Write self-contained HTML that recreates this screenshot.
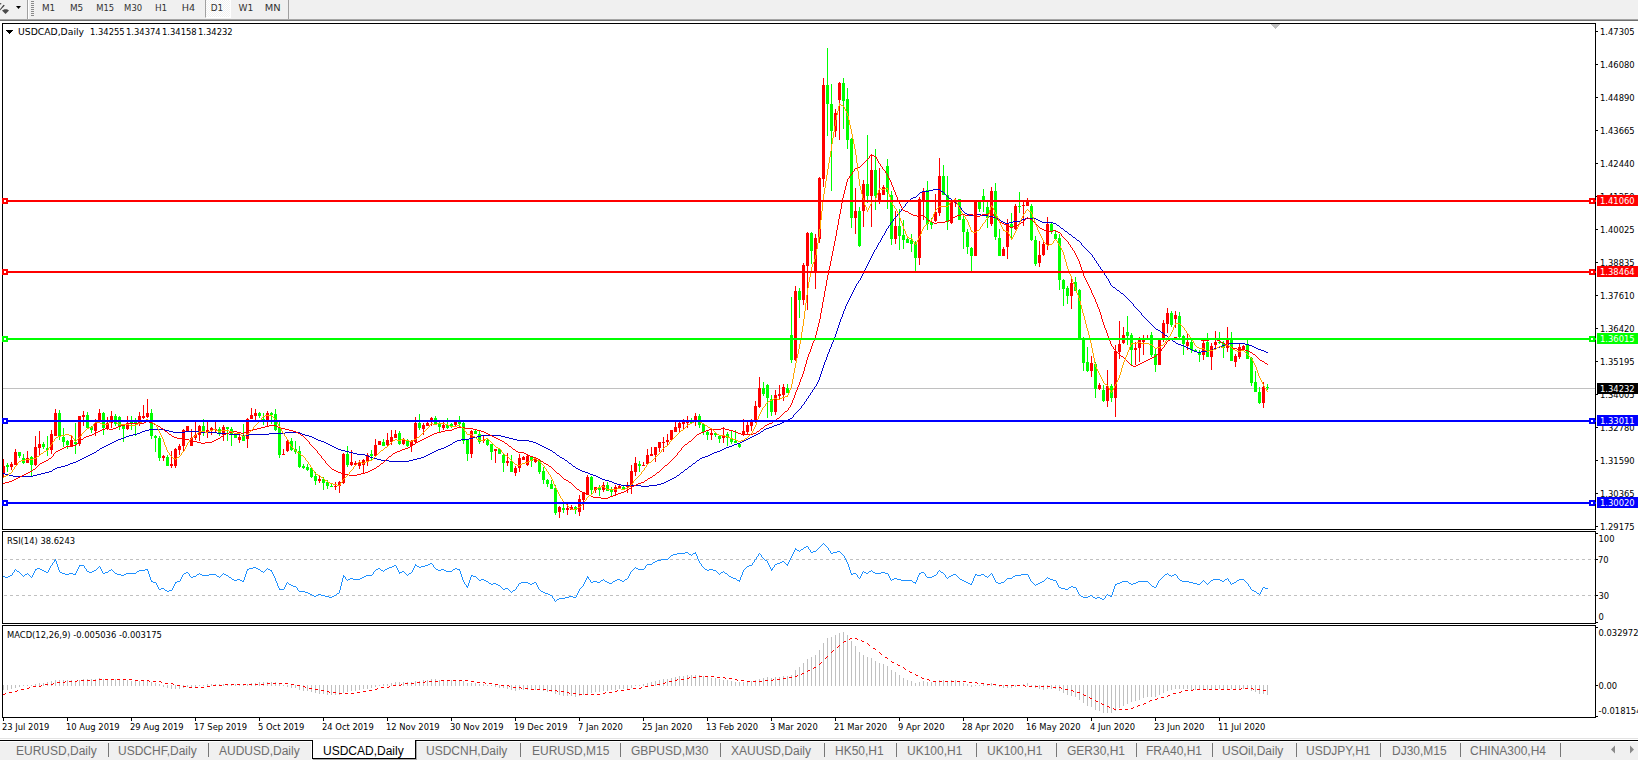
<!DOCTYPE html>
<html><head><meta charset="utf-8"><title>USDCAD,Daily</title>
<style>
html,body{margin:0;padding:0;width:1638px;height:760px;overflow:hidden;background:#fff;}
body{position:relative;font-family:"Liberation Sans",Arial,sans-serif;}
#toolbar{position:absolute;left:0;top:0;width:1638px;height:19px;background:#f0f0f0;}
#tbl1{position:absolute;left:0;top:19px;width:1638px;height:1px;background:#a5a5a5;}
#tbl2{position:absolute;left:0;top:20px;width:1638px;height:1px;background:#6f6f6f;}
.tb{position:absolute;top:3px;font-family:'DejaVu Sans',sans-serif;font-size:8.8px;line-height:11px;color:#333;}
#d1{position:absolute;left:205px;top:0;width:26px;height:18px;background:repeating-conic-gradient(#ffffff 0 25%,#f0f0f0 0 50%) 0 0/2px 2px;border-left:1px solid #a0a0a0;border-right:1px solid #fff;border-bottom:1px solid #fff;box-sizing:border-box;}
#tsep1{position:absolute;left:27px;top:0;width:1px;height:19px;background:#a0a0a0;}
#tsep1b{position:absolute;left:28px;top:0;width:1px;height:19px;background:#fff;}
#tsep2{position:absolute;left:288px;top:0;width:1px;height:19px;background:#a0a0a0;}
.grip{position:absolute;left:31px;width:3px;height:1px;background:#8a8a8a;}
svg{position:absolute;left:0;top:0;}
#tabbar{position:absolute;left:0;top:739px;width:1638px;height:21px;background:#f0f0f0;}
#tabline{position:absolute;left:0;top:740px;width:1638px;height:1px;background:#000;}
#tabline0{position:absolute;left:0;top:738px;width:1638px;height:1px;background:#e3e3e3;}
.tab{position:absolute;top:744px;font-size:12px;line-height:15px;color:#6d6d6d;white-space:nowrap;}
.tab.sel{color:#000;}
#seltab{position:absolute;left:312px;top:740px;width:104px;height:19px;background:#fff;border:1px solid #000;border-top:none;box-sizing:border-box;}
.sep{position:absolute;top:743px;width:1px;height:14px;background:#777;}
.arr{position:absolute;top:745px;width:0;height:0;border-top:4px solid transparent;border-bottom:4px solid transparent;}
</style></head><body>
<div id="toolbar"></div><div id="tbl1"></div><div id="tbl2"></div>
<div id="d1"></div><div id="tsep1"></div><div id="tsep1b"></div><div id="tsep2"></div>
<div class="grip" style="top:1px"></div><div class="grip" style="top:3px"></div><div class="grip" style="top:5px"></div><div class="grip" style="top:7px"></div><div class="grip" style="top:9px"></div><div class="grip" style="top:11px"></div><div class="grip" style="top:13px"></div><div class="grip" style="top:15px"></div>
<svg width="30" height="19" viewBox="0 0 30 19" style="left:0;top:0">
<path d="M3.5,4.8 L0,9.2 L0,10.5 L4.8,5.6 Z" fill="#404040"/>
<path d="M0,3 L1.5,3.5 L1,4.5 L0,4.2Z" fill="#404040"/>
<path d="M4.5,9.2 L7,9.2 L9,10.5 L5.5,14 L2,10.5 Z" fill="#4a4a4a"/>
<path d="M16,6 L21,6 L18.5,9 Z" fill="#000"/>
</svg>
<svg width="300" height="19" style="left:0;top:0"><text x="42.0" y="11" font-family="DejaVu Sans, sans-serif" font-size="8.8" fill="#333" textLength="13.2" lengthAdjust="spacingAndGlyphs">M1</text><text x="69.9" y="11" font-family="DejaVu Sans, sans-serif" font-size="8.8" fill="#333" textLength="13.3" lengthAdjust="spacingAndGlyphs">M5</text><text x="96.3" y="11" font-family="DejaVu Sans, sans-serif" font-size="8.8" fill="#333" textLength="17.9" lengthAdjust="spacingAndGlyphs">M15</text><text x="124.1" y="11" font-family="DejaVu Sans, sans-serif" font-size="8.8" fill="#333" textLength="18.1" lengthAdjust="spacingAndGlyphs">M30</text><text x="154.9" y="11" font-family="DejaVu Sans, sans-serif" font-size="8.8" fill="#333" textLength="12.3" lengthAdjust="spacingAndGlyphs">H1</text><text x="181.8" y="11" font-family="DejaVu Sans, sans-serif" font-size="8.8" fill="#333" textLength="13.4" lengthAdjust="spacingAndGlyphs">H4</text><text x="210.8" y="11" font-family="DejaVu Sans, sans-serif" font-size="8.8" fill="#333" textLength="12.4" lengthAdjust="spacingAndGlyphs">D1</text><text x="238.4" y="11" font-family="DejaVu Sans, sans-serif" font-size="8.8" fill="#333" textLength="14.8" lengthAdjust="spacingAndGlyphs">W1</text><text x="264.8" y="11" font-family="DejaVu Sans, sans-serif" font-size="8.8" fill="#333" textLength="15.9" lengthAdjust="spacingAndGlyphs">MN</text></svg>
<svg width="1638" height="760" viewBox="0 0 1638 760" shape-rendering="crispEdges">
<rect x="3" y="388" width="1592" height="1" fill="#c0c0c0"/>
<rect x="3" y="459" width="1" height="18" fill="#ff0000"/>
<rect x="3" y="466" width="2" height="8" fill="#ff0000"/>
<rect x="7" y="463" width="1" height="9" fill="#00ff00"/>
<rect x="6" y="465" width="3" height="2" fill="#00ff00"/>
<rect x="11" y="462" width="1" height="8" fill="#ff0000"/>
<rect x="10" y="464" width="3" height="3" fill="#ff0000"/>
<rect x="15" y="449" width="1" height="16" fill="#ff0000"/>
<rect x="14" y="452" width="3" height="13" fill="#ff0000"/>
<rect x="19" y="452" width="1" height="6" fill="#00ff00"/>
<rect x="18" y="452" width="3" height="4" fill="#00ff00"/>
<rect x="23" y="454" width="1" height="10" fill="#00ff00"/>
<rect x="22" y="458" width="3" height="5" fill="#00ff00"/>
<rect x="27" y="451" width="1" height="12" fill="#ff0000"/>
<rect x="26" y="458" width="3" height="5" fill="#ff0000"/>
<rect x="31" y="456" width="1" height="20" fill="#00ff00"/>
<rect x="30" y="457" width="3" height="8" fill="#00ff00"/>
<rect x="35" y="436" width="1" height="30" fill="#ff0000"/>
<rect x="34" y="447" width="3" height="18" fill="#ff0000"/>
<rect x="39" y="431" width="1" height="24" fill="#ff0000"/>
<rect x="38" y="444" width="3" height="4" fill="#ff0000"/>
<rect x="43" y="442" width="1" height="7" fill="#00ff00"/>
<rect x="42" y="444" width="3" height="3" fill="#00ff00"/>
<rect x="47" y="436" width="1" height="20" fill="#00ff00"/>
<rect x="46" y="448" width="3" height="2" fill="#00ff00"/>
<rect x="51" y="430" width="1" height="24" fill="#ff0000"/>
<rect x="50" y="434" width="3" height="16" fill="#ff0000"/>
<rect x="55" y="409" width="1" height="27" fill="#ff0000"/>
<rect x="54" y="413" width="3" height="23" fill="#ff0000"/>
<rect x="59" y="410" width="1" height="30" fill="#00ff00"/>
<rect x="58" y="413" width="3" height="24" fill="#00ff00"/>
<rect x="63" y="428" width="1" height="19" fill="#00ff00"/>
<rect x="62" y="437" width="3" height="5" fill="#00ff00"/>
<rect x="67" y="440" width="1" height="9" fill="#00ff00"/>
<rect x="66" y="441" width="3" height="4" fill="#00ff00"/>
<rect x="71" y="436" width="1" height="10" fill="#ff0000"/>
<rect x="70" y="440" width="3" height="6" fill="#ff0000"/>
<rect x="75" y="423" width="1" height="31" fill="#00ff00"/>
<rect x="74" y="442" width="3" height="2" fill="#00ff00"/>
<rect x="79" y="416" width="1" height="30" fill="#ff0000"/>
<rect x="78" y="416" width="3" height="28" fill="#ff0000"/>
<rect x="83" y="411" width="1" height="15" fill="#ff0000"/>
<rect x="82" y="415" width="3" height="2" fill="#ff0000"/>
<rect x="87" y="412" width="1" height="16" fill="#00ff00"/>
<rect x="86" y="415" width="3" height="13" fill="#00ff00"/>
<rect x="91" y="426" width="1" height="7" fill="#00ff00"/>
<rect x="90" y="427" width="3" height="3" fill="#00ff00"/>
<rect x="95" y="419" width="1" height="17" fill="#ff0000"/>
<rect x="94" y="423" width="3" height="8" fill="#ff0000"/>
<rect x="99" y="409" width="1" height="13" fill="#ff0000"/>
<rect x="98" y="413" width="3" height="8" fill="#ff0000"/>
<rect x="103" y="412" width="1" height="23" fill="#00ff00"/>
<rect x="102" y="413" width="3" height="15" fill="#00ff00"/>
<rect x="107" y="417" width="1" height="13" fill="#ff0000"/>
<rect x="106" y="423" width="3" height="5" fill="#ff0000"/>
<rect x="111" y="411" width="1" height="17" fill="#ff0000"/>
<rect x="110" y="416" width="3" height="7" fill="#ff0000"/>
<rect x="115" y="414" width="1" height="12" fill="#00ff00"/>
<rect x="114" y="416" width="3" height="8" fill="#00ff00"/>
<rect x="119" y="416" width="1" height="14" fill="#00ff00"/>
<rect x="118" y="417" width="3" height="9" fill="#00ff00"/>
<rect x="123" y="426" width="1" height="16" fill="#00ff00"/>
<rect x="122" y="426" width="3" height="3" fill="#00ff00"/>
<rect x="127" y="416" width="1" height="14" fill="#ff0000"/>
<rect x="126" y="423" width="3" height="6" fill="#ff0000"/>
<rect x="131" y="416" width="1" height="14" fill="#00ff00"/>
<rect x="130" y="422" width="3" height="1" fill="#00ff00"/>
<rect x="135" y="418" width="1" height="18" fill="#00ff00"/>
<rect x="134" y="422" width="3" height="2" fill="#00ff00"/>
<rect x="139" y="412" width="1" height="14" fill="#ff0000"/>
<rect x="138" y="416" width="3" height="8" fill="#ff0000"/>
<rect x="143" y="405" width="1" height="14" fill="#ff0000"/>
<rect x="142" y="416" width="3" height="2" fill="#ff0000"/>
<rect x="147" y="399" width="1" height="19" fill="#ff0000"/>
<rect x="146" y="413" width="3" height="4" fill="#ff0000"/>
<rect x="151" y="409" width="1" height="30" fill="#00ff00"/>
<rect x="150" y="413" width="3" height="23" fill="#00ff00"/>
<rect x="155" y="435" width="1" height="17" fill="#00ff00"/>
<rect x="154" y="436" width="3" height="2" fill="#00ff00"/>
<rect x="159" y="436" width="1" height="25" fill="#00ff00"/>
<rect x="158" y="438" width="3" height="20" fill="#00ff00"/>
<rect x="163" y="455" width="1" height="6" fill="#ff0000"/>
<rect x="162" y="456" width="3" height="2" fill="#ff0000"/>
<rect x="167" y="455" width="1" height="11" fill="#00ff00"/>
<rect x="166" y="457" width="3" height="9" fill="#00ff00"/>
<rect x="171" y="451" width="1" height="17" fill="#ff0000"/>
<rect x="170" y="464" width="3" height="2" fill="#ff0000"/>
<rect x="175" y="448" width="1" height="20" fill="#ff0000"/>
<rect x="174" y="449" width="3" height="17" fill="#ff0000"/>
<rect x="179" y="444" width="1" height="11" fill="#ff0000"/>
<rect x="178" y="446" width="3" height="4" fill="#ff0000"/>
<rect x="183" y="429" width="1" height="23" fill="#ff0000"/>
<rect x="182" y="430" width="3" height="16" fill="#ff0000"/>
<rect x="187" y="426" width="1" height="6" fill="#ff0000"/>
<rect x="186" y="426" width="3" height="5" fill="#ff0000"/>
<rect x="191" y="429" width="1" height="17" fill="#ff0000"/>
<rect x="190" y="438" width="3" height="8" fill="#ff0000"/>
<rect x="195" y="422" width="1" height="18" fill="#ff0000"/>
<rect x="194" y="435" width="3" height="3" fill="#ff0000"/>
<rect x="199" y="425" width="1" height="16" fill="#ff0000"/>
<rect x="198" y="426" width="3" height="9" fill="#ff0000"/>
<rect x="203" y="419" width="1" height="17" fill="#00ff00"/>
<rect x="202" y="426" width="3" height="6" fill="#00ff00"/>
<rect x="207" y="422" width="1" height="16" fill="#ff0000"/>
<rect x="206" y="430" width="3" height="2" fill="#ff0000"/>
<rect x="211" y="427" width="1" height="8" fill="#ff0000"/>
<rect x="210" y="428" width="3" height="2" fill="#ff0000"/>
<rect x="215" y="422" width="1" height="10" fill="#ff0000"/>
<rect x="214" y="429" width="3" height="1" fill="#ff0000"/>
<rect x="219" y="427" width="1" height="9" fill="#00ff00"/>
<rect x="218" y="429" width="3" height="5" fill="#00ff00"/>
<rect x="223" y="425" width="1" height="16" fill="#ff0000"/>
<rect x="222" y="427" width="3" height="8" fill="#ff0000"/>
<rect x="227" y="427" width="1" height="14" fill="#00ff00"/>
<rect x="226" y="427" width="3" height="2" fill="#00ff00"/>
<rect x="231" y="427" width="1" height="19" fill="#00ff00"/>
<rect x="230" y="429" width="3" height="6" fill="#00ff00"/>
<rect x="235" y="433" width="1" height="5" fill="#00ff00"/>
<rect x="234" y="435" width="3" height="3" fill="#00ff00"/>
<rect x="239" y="435" width="1" height="8" fill="#ff0000"/>
<rect x="238" y="437" width="3" height="3" fill="#ff0000"/>
<rect x="243" y="424" width="1" height="17" fill="#00ff00"/>
<rect x="242" y="436" width="3" height="5" fill="#00ff00"/>
<rect x="247" y="418" width="1" height="30" fill="#ff0000"/>
<rect x="246" y="419" width="3" height="20" fill="#ff0000"/>
<rect x="251" y="408" width="1" height="11" fill="#ff0000"/>
<rect x="250" y="415" width="3" height="4" fill="#ff0000"/>
<rect x="255" y="409" width="1" height="13" fill="#ff0000"/>
<rect x="254" y="413" width="3" height="3" fill="#ff0000"/>
<rect x="259" y="412" width="1" height="6" fill="#00ff00"/>
<rect x="258" y="413" width="3" height="3" fill="#00ff00"/>
<rect x="263" y="413" width="1" height="12" fill="#00ff00"/>
<rect x="262" y="419" width="3" height="1" fill="#00ff00"/>
<rect x="267" y="411" width="1" height="15" fill="#ff0000"/>
<rect x="266" y="413" width="3" height="7" fill="#ff0000"/>
<rect x="271" y="412" width="1" height="12" fill="#00ff00"/>
<rect x="270" y="413" width="3" height="2" fill="#00ff00"/>
<rect x="275" y="409" width="1" height="22" fill="#00ff00"/>
<rect x="274" y="414" width="3" height="16" fill="#00ff00"/>
<rect x="279" y="422" width="1" height="36" fill="#00ff00"/>
<rect x="278" y="428" width="3" height="27" fill="#00ff00"/>
<rect x="283" y="449" width="1" height="6" fill="#ff0000"/>
<rect x="282" y="454" width="3" height="1" fill="#ff0000"/>
<rect x="287" y="440" width="1" height="12" fill="#ff0000"/>
<rect x="286" y="441" width="3" height="10" fill="#ff0000"/>
<rect x="291" y="438" width="1" height="13" fill="#00ff00"/>
<rect x="290" y="441" width="3" height="9" fill="#00ff00"/>
<rect x="295" y="441" width="1" height="13" fill="#00ff00"/>
<rect x="294" y="449" width="3" height="3" fill="#00ff00"/>
<rect x="299" y="446" width="1" height="22" fill="#00ff00"/>
<rect x="298" y="451" width="3" height="16" fill="#00ff00"/>
<rect x="303" y="464" width="1" height="5" fill="#00ff00"/>
<rect x="302" y="466" width="3" height="2" fill="#00ff00"/>
<rect x="307" y="464" width="1" height="7" fill="#00ff00"/>
<rect x="306" y="467" width="3" height="3" fill="#00ff00"/>
<rect x="311" y="467" width="1" height="11" fill="#00ff00"/>
<rect x="310" y="468" width="3" height="9" fill="#00ff00"/>
<rect x="315" y="472" width="1" height="13" fill="#00ff00"/>
<rect x="314" y="476" width="3" height="5" fill="#00ff00"/>
<rect x="319" y="476" width="1" height="7" fill="#ff0000"/>
<rect x="318" y="479" width="3" height="2" fill="#ff0000"/>
<rect x="323" y="477" width="1" height="13" fill="#00ff00"/>
<rect x="322" y="479" width="3" height="4" fill="#00ff00"/>
<rect x="327" y="480" width="1" height="9" fill="#00ff00"/>
<rect x="326" y="482" width="3" height="4" fill="#00ff00"/>
<rect x="331" y="484" width="1" height="3" fill="#00ff00"/>
<rect x="330" y="486" width="3" height="1" fill="#00ff00"/>
<rect x="335" y="482" width="1" height="8" fill="#ff0000"/>
<rect x="334" y="486" width="3" height="1" fill="#ff0000"/>
<rect x="339" y="481" width="1" height="12" fill="#ff0000"/>
<rect x="338" y="482" width="3" height="4" fill="#ff0000"/>
<rect x="343" y="453" width="1" height="31" fill="#ff0000"/>
<rect x="342" y="454" width="3" height="29" fill="#ff0000"/>
<rect x="347" y="446" width="1" height="21" fill="#00ff00"/>
<rect x="346" y="454" width="3" height="11" fill="#00ff00"/>
<rect x="351" y="450" width="1" height="16" fill="#ff0000"/>
<rect x="350" y="462" width="3" height="3" fill="#ff0000"/>
<rect x="355" y="461" width="1" height="5" fill="#ff0000"/>
<rect x="354" y="463" width="3" height="2" fill="#ff0000"/>
<rect x="359" y="460" width="1" height="9" fill="#ff0000"/>
<rect x="358" y="463" width="3" height="3" fill="#ff0000"/>
<rect x="363" y="459" width="1" height="14" fill="#ff0000"/>
<rect x="362" y="460" width="3" height="5" fill="#ff0000"/>
<rect x="367" y="453" width="1" height="13" fill="#ff0000"/>
<rect x="366" y="455" width="3" height="6" fill="#ff0000"/>
<rect x="371" y="450" width="1" height="10" fill="#00ff00"/>
<rect x="370" y="454" width="3" height="2" fill="#00ff00"/>
<rect x="375" y="439" width="1" height="17" fill="#ff0000"/>
<rect x="374" y="445" width="3" height="11" fill="#ff0000"/>
<rect x="379" y="441" width="1" height="4" fill="#ff0000"/>
<rect x="378" y="441" width="3" height="4" fill="#ff0000"/>
<rect x="383" y="439" width="1" height="7" fill="#00ff00"/>
<rect x="382" y="442" width="3" height="4" fill="#00ff00"/>
<rect x="387" y="433" width="1" height="13" fill="#ff0000"/>
<rect x="386" y="440" width="3" height="5" fill="#ff0000"/>
<rect x="391" y="430" width="1" height="15" fill="#ff0000"/>
<rect x="390" y="437" width="3" height="5" fill="#ff0000"/>
<rect x="395" y="430" width="1" height="8" fill="#ff0000"/>
<rect x="394" y="434" width="3" height="4" fill="#ff0000"/>
<rect x="399" y="431" width="1" height="14" fill="#00ff00"/>
<rect x="398" y="433" width="3" height="11" fill="#00ff00"/>
<rect x="403" y="438" width="1" height="7" fill="#ff0000"/>
<rect x="402" y="440" width="3" height="4" fill="#ff0000"/>
<rect x="407" y="439" width="1" height="8" fill="#00ff00"/>
<rect x="406" y="441" width="3" height="5" fill="#00ff00"/>
<rect x="411" y="440" width="1" height="12" fill="#ff0000"/>
<rect x="410" y="441" width="3" height="5" fill="#ff0000"/>
<rect x="415" y="417" width="1" height="26" fill="#ff0000"/>
<rect x="414" y="423" width="3" height="19" fill="#ff0000"/>
<rect x="419" y="414" width="1" height="16" fill="#00ff00"/>
<rect x="418" y="423" width="3" height="5" fill="#00ff00"/>
<rect x="423" y="423" width="1" height="12" fill="#ff0000"/>
<rect x="422" y="425" width="3" height="4" fill="#ff0000"/>
<rect x="427" y="422" width="1" height="4" fill="#ff0000"/>
<rect x="426" y="423" width="3" height="3" fill="#ff0000"/>
<rect x="431" y="417" width="1" height="9" fill="#ff0000"/>
<rect x="430" y="418" width="3" height="3" fill="#ff0000"/>
<rect x="435" y="416" width="1" height="9" fill="#00ff00"/>
<rect x="434" y="418" width="3" height="7" fill="#00ff00"/>
<rect x="439" y="422" width="1" height="10" fill="#00ff00"/>
<rect x="438" y="424" width="3" height="3" fill="#00ff00"/>
<rect x="443" y="422" width="1" height="8" fill="#ff0000"/>
<rect x="442" y="425" width="3" height="3" fill="#ff0000"/>
<rect x="447" y="418" width="1" height="11" fill="#00ff00"/>
<rect x="446" y="425" width="3" height="3" fill="#00ff00"/>
<rect x="451" y="423" width="1" height="5" fill="#00ff00"/>
<rect x="450" y="424" width="3" height="3" fill="#00ff00"/>
<rect x="455" y="422" width="1" height="5" fill="#ff0000"/>
<rect x="454" y="422" width="3" height="3" fill="#ff0000"/>
<rect x="459" y="416" width="1" height="11" fill="#00ff00"/>
<rect x="458" y="422" width="3" height="2" fill="#00ff00"/>
<rect x="463" y="422" width="1" height="22" fill="#00ff00"/>
<rect x="462" y="423" width="3" height="18" fill="#00ff00"/>
<rect x="467" y="439" width="1" height="22" fill="#00ff00"/>
<rect x="466" y="440" width="3" height="14" fill="#00ff00"/>
<rect x="471" y="430" width="1" height="28" fill="#ff0000"/>
<rect x="470" y="431" width="3" height="23" fill="#ff0000"/>
<rect x="475" y="430" width="1" height="4" fill="#00ff00"/>
<rect x="474" y="431" width="3" height="3" fill="#00ff00"/>
<rect x="479" y="431" width="1" height="13" fill="#00ff00"/>
<rect x="478" y="434" width="3" height="8" fill="#00ff00"/>
<rect x="483" y="436" width="1" height="7" fill="#ff0000"/>
<rect x="482" y="440" width="3" height="1" fill="#ff0000"/>
<rect x="487" y="439" width="1" height="7" fill="#00ff00"/>
<rect x="486" y="440" width="3" height="5" fill="#00ff00"/>
<rect x="491" y="444" width="1" height="16" fill="#00ff00"/>
<rect x="490" y="444" width="3" height="8" fill="#00ff00"/>
<rect x="495" y="449" width="1" height="14" fill="#ff0000"/>
<rect x="494" y="449" width="3" height="2" fill="#ff0000"/>
<rect x="499" y="448" width="1" height="6" fill="#00ff00"/>
<rect x="498" y="449" width="3" height="5" fill="#00ff00"/>
<rect x="503" y="453" width="1" height="19" fill="#00ff00"/>
<rect x="502" y="455" width="3" height="8" fill="#00ff00"/>
<rect x="507" y="453" width="1" height="13" fill="#ff0000"/>
<rect x="506" y="461" width="3" height="2" fill="#ff0000"/>
<rect x="511" y="455" width="1" height="17" fill="#00ff00"/>
<rect x="510" y="461" width="3" height="11" fill="#00ff00"/>
<rect x="515" y="466" width="1" height="10" fill="#ff0000"/>
<rect x="514" y="468" width="3" height="5" fill="#ff0000"/>
<rect x="519" y="454" width="1" height="18" fill="#ff0000"/>
<rect x="518" y="458" width="3" height="10" fill="#ff0000"/>
<rect x="523" y="456" width="1" height="4" fill="#ff0000"/>
<rect x="522" y="457" width="3" height="3" fill="#ff0000"/>
<rect x="527" y="455" width="1" height="11" fill="#ff0000"/>
<rect x="526" y="456" width="3" height="9" fill="#ff0000"/>
<rect x="531" y="456" width="1" height="11" fill="#00ff00"/>
<rect x="530" y="456" width="3" height="5" fill="#00ff00"/>
<rect x="535" y="457" width="1" height="6" fill="#ff0000"/>
<rect x="534" y="458" width="3" height="4" fill="#ff0000"/>
<rect x="539" y="459" width="1" height="15" fill="#00ff00"/>
<rect x="538" y="460" width="3" height="12" fill="#00ff00"/>
<rect x="543" y="467" width="1" height="17" fill="#00ff00"/>
<rect x="542" y="471" width="3" height="9" fill="#00ff00"/>
<rect x="547" y="479" width="1" height="8" fill="#00ff00"/>
<rect x="546" y="480" width="3" height="4" fill="#00ff00"/>
<rect x="551" y="480" width="1" height="9" fill="#00ff00"/>
<rect x="550" y="484" width="3" height="5" fill="#00ff00"/>
<rect x="555" y="485" width="1" height="30" fill="#00ff00"/>
<rect x="554" y="488" width="3" height="25" fill="#00ff00"/>
<rect x="559" y="506" width="1" height="12" fill="#ff0000"/>
<rect x="558" y="507" width="3" height="5" fill="#ff0000"/>
<rect x="563" y="502" width="1" height="11" fill="#00ff00"/>
<rect x="562" y="508" width="3" height="2" fill="#00ff00"/>
<rect x="567" y="504" width="1" height="11" fill="#ff0000"/>
<rect x="566" y="508" width="3" height="2" fill="#ff0000"/>
<rect x="571" y="505" width="1" height="5" fill="#ff0000"/>
<rect x="570" y="507" width="3" height="3" fill="#ff0000"/>
<rect x="575" y="506" width="1" height="8" fill="#00ff00"/>
<rect x="574" y="507" width="3" height="3" fill="#00ff00"/>
<rect x="579" y="495" width="1" height="21" fill="#ff0000"/>
<rect x="578" y="499" width="3" height="13" fill="#ff0000"/>
<rect x="583" y="492" width="1" height="18" fill="#ff0000"/>
<rect x="582" y="493" width="3" height="7" fill="#ff0000"/>
<rect x="587" y="475" width="1" height="20" fill="#ff0000"/>
<rect x="586" y="477" width="3" height="18" fill="#ff0000"/>
<rect x="591" y="476" width="1" height="18" fill="#00ff00"/>
<rect x="590" y="477" width="3" height="13" fill="#00ff00"/>
<rect x="595" y="487" width="1" height="6" fill="#ff0000"/>
<rect x="594" y="487" width="3" height="3" fill="#ff0000"/>
<rect x="599" y="485" width="1" height="11" fill="#00ff00"/>
<rect x="598" y="488" width="3" height="2" fill="#00ff00"/>
<rect x="603" y="482" width="1" height="10" fill="#ff0000"/>
<rect x="602" y="485" width="3" height="5" fill="#ff0000"/>
<rect x="607" y="482" width="1" height="9" fill="#00ff00"/>
<rect x="606" y="485" width="3" height="6" fill="#00ff00"/>
<rect x="611" y="487" width="1" height="9" fill="#00ff00"/>
<rect x="610" y="490" width="3" height="2" fill="#00ff00"/>
<rect x="615" y="485" width="1" height="10" fill="#ff0000"/>
<rect x="614" y="487" width="3" height="5" fill="#ff0000"/>
<rect x="619" y="484" width="1" height="4" fill="#ff0000"/>
<rect x="618" y="486" width="3" height="2" fill="#ff0000"/>
<rect x="623" y="485" width="1" height="5" fill="#00ff00"/>
<rect x="622" y="487" width="3" height="2" fill="#00ff00"/>
<rect x="627" y="482" width="1" height="11" fill="#ff0000"/>
<rect x="626" y="485" width="3" height="2" fill="#ff0000"/>
<rect x="631" y="465" width="1" height="29" fill="#ff0000"/>
<rect x="630" y="471" width="3" height="16" fill="#ff0000"/>
<rect x="635" y="457" width="1" height="19" fill="#ff0000"/>
<rect x="634" y="463" width="3" height="9" fill="#ff0000"/>
<rect x="639" y="461" width="1" height="11" fill="#00ff00"/>
<rect x="638" y="464" width="3" height="2" fill="#00ff00"/>
<rect x="643" y="462" width="1" height="4" fill="#ff0000"/>
<rect x="642" y="465" width="3" height="1" fill="#ff0000"/>
<rect x="647" y="449" width="1" height="15" fill="#ff0000"/>
<rect x="646" y="455" width="3" height="9" fill="#ff0000"/>
<rect x="651" y="447" width="1" height="9" fill="#ff0000"/>
<rect x="650" y="454" width="3" height="2" fill="#ff0000"/>
<rect x="655" y="447" width="1" height="15" fill="#ff0000"/>
<rect x="654" y="447" width="3" height="8" fill="#ff0000"/>
<rect x="659" y="442" width="1" height="10" fill="#ff0000"/>
<rect x="658" y="442" width="3" height="6" fill="#ff0000"/>
<rect x="663" y="437" width="1" height="15" fill="#ff0000"/>
<rect x="662" y="442" width="3" height="1" fill="#ff0000"/>
<rect x="667" y="434" width="1" height="11" fill="#ff0000"/>
<rect x="666" y="440" width="3" height="2" fill="#ff0000"/>
<rect x="671" y="430" width="1" height="10" fill="#ff0000"/>
<rect x="670" y="430" width="3" height="10" fill="#ff0000"/>
<rect x="675" y="422" width="1" height="10" fill="#ff0000"/>
<rect x="674" y="427" width="3" height="5" fill="#ff0000"/>
<rect x="679" y="422" width="1" height="11" fill="#ff0000"/>
<rect x="678" y="423" width="3" height="5" fill="#ff0000"/>
<rect x="683" y="419" width="1" height="11" fill="#ff0000"/>
<rect x="682" y="422" width="3" height="2" fill="#ff0000"/>
<rect x="687" y="416" width="1" height="12" fill="#ff0000"/>
<rect x="686" y="420" width="3" height="3" fill="#ff0000"/>
<rect x="691" y="418" width="1" height="5" fill="#00ff00"/>
<rect x="690" y="420" width="3" height="3" fill="#00ff00"/>
<rect x="695" y="413" width="1" height="13" fill="#ff0000"/>
<rect x="694" y="416" width="3" height="4" fill="#ff0000"/>
<rect x="699" y="414" width="1" height="14" fill="#00ff00"/>
<rect x="698" y="416" width="3" height="9" fill="#00ff00"/>
<rect x="703" y="424" width="1" height="11" fill="#00ff00"/>
<rect x="702" y="424" width="3" height="8" fill="#00ff00"/>
<rect x="707" y="430" width="1" height="10" fill="#00ff00"/>
<rect x="706" y="432" width="3" height="3" fill="#00ff00"/>
<rect x="711" y="429" width="1" height="11" fill="#ff0000"/>
<rect x="710" y="433" width="3" height="2" fill="#ff0000"/>
<rect x="715" y="432" width="1" height="5" fill="#00ff00"/>
<rect x="714" y="433" width="3" height="2" fill="#00ff00"/>
<rect x="719" y="435" width="1" height="8" fill="#00ff00"/>
<rect x="718" y="436" width="3" height="3" fill="#00ff00"/>
<rect x="723" y="427" width="1" height="16" fill="#ff0000"/>
<rect x="722" y="435" width="3" height="3" fill="#ff0000"/>
<rect x="727" y="432" width="1" height="14" fill="#00ff00"/>
<rect x="726" y="434" width="3" height="4" fill="#00ff00"/>
<rect x="731" y="431" width="1" height="13" fill="#00ff00"/>
<rect x="730" y="438" width="3" height="4" fill="#00ff00"/>
<rect x="735" y="430" width="1" height="13" fill="#00ff00"/>
<rect x="734" y="441" width="3" height="2" fill="#00ff00"/>
<rect x="739" y="443" width="1" height="5" fill="#00ff00"/>
<rect x="738" y="444" width="3" height="3" fill="#00ff00"/>
<rect x="743" y="419" width="1" height="17" fill="#ff0000"/>
<rect x="742" y="431" width="3" height="4" fill="#ff0000"/>
<rect x="747" y="422" width="1" height="12" fill="#ff0000"/>
<rect x="746" y="425" width="3" height="7" fill="#ff0000"/>
<rect x="751" y="419" width="1" height="12" fill="#ff0000"/>
<rect x="750" y="422" width="3" height="4" fill="#ff0000"/>
<rect x="755" y="401" width="1" height="22" fill="#ff0000"/>
<rect x="754" y="406" width="3" height="14" fill="#ff0000"/>
<rect x="759" y="377" width="1" height="31" fill="#ff0000"/>
<rect x="758" y="388" width="3" height="19" fill="#ff0000"/>
<rect x="763" y="382" width="1" height="14" fill="#00ff00"/>
<rect x="762" y="388" width="3" height="6" fill="#00ff00"/>
<rect x="767" y="384" width="1" height="34" fill="#00ff00"/>
<rect x="766" y="385" width="3" height="13" fill="#00ff00"/>
<rect x="771" y="395" width="1" height="21" fill="#00ff00"/>
<rect x="770" y="399" width="3" height="13" fill="#00ff00"/>
<rect x="775" y="390" width="1" height="25" fill="#ff0000"/>
<rect x="774" y="395" width="3" height="17" fill="#ff0000"/>
<rect x="779" y="385" width="1" height="15" fill="#ff0000"/>
<rect x="778" y="394" width="3" height="2" fill="#ff0000"/>
<rect x="783" y="384" width="1" height="17" fill="#ff0000"/>
<rect x="782" y="387" width="3" height="8" fill="#ff0000"/>
<rect x="787" y="384" width="1" height="9" fill="#00ff00"/>
<rect x="786" y="388" width="3" height="5" fill="#00ff00"/>
<rect x="791" y="297" width="1" height="66" fill="#00ff00"/>
<rect x="790" y="335" width="3" height="25" fill="#00ff00"/>
<rect x="795" y="286" width="1" height="75" fill="#ff0000"/>
<rect x="794" y="291" width="3" height="69" fill="#ff0000"/>
<rect x="799" y="288" width="1" height="30" fill="#00ff00"/>
<rect x="798" y="291" width="3" height="9" fill="#00ff00"/>
<rect x="803" y="263" width="1" height="42" fill="#ff0000"/>
<rect x="802" y="265" width="3" height="35" fill="#ff0000"/>
<rect x="807" y="232" width="1" height="78" fill="#ff0000"/>
<rect x="806" y="233" width="3" height="33" fill="#ff0000"/>
<rect x="811" y="232" width="1" height="32" fill="#00ff00"/>
<rect x="810" y="233" width="3" height="18" fill="#00ff00"/>
<rect x="815" y="234" width="1" height="55" fill="#ff0000"/>
<rect x="814" y="238" width="3" height="33" fill="#ff0000"/>
<rect x="819" y="177" width="1" height="66" fill="#ff0000"/>
<rect x="818" y="178" width="3" height="61" fill="#ff0000"/>
<rect x="823" y="78" width="1" height="109" fill="#ff0000"/>
<rect x="822" y="85" width="3" height="94" fill="#ff0000"/>
<rect x="827" y="48" width="1" height="88" fill="#00ff00"/>
<rect x="826" y="85" width="3" height="19" fill="#00ff00"/>
<rect x="831" y="84" width="1" height="107" fill="#00ff00"/>
<rect x="830" y="104" width="3" height="27" fill="#00ff00"/>
<rect x="835" y="109" width="1" height="28" fill="#ff0000"/>
<rect x="834" y="113" width="3" height="18" fill="#ff0000"/>
<rect x="839" y="82" width="1" height="58" fill="#ff0000"/>
<rect x="838" y="83" width="3" height="17" fill="#ff0000"/>
<rect x="843" y="78" width="1" height="51" fill="#00ff00"/>
<rect x="842" y="83" width="3" height="18" fill="#00ff00"/>
<rect x="847" y="88" width="1" height="61" fill="#00ff00"/>
<rect x="846" y="99" width="3" height="41" fill="#00ff00"/>
<rect x="851" y="138" width="1" height="90" fill="#00ff00"/>
<rect x="850" y="139" width="3" height="79" fill="#00ff00"/>
<rect x="855" y="188" width="1" height="46" fill="#ff0000"/>
<rect x="854" y="211" width="3" height="7" fill="#ff0000"/>
<rect x="859" y="207" width="1" height="40" fill="#00ff00"/>
<rect x="858" y="211" width="3" height="35" fill="#00ff00"/>
<rect x="863" y="180" width="1" height="47" fill="#ff0000"/>
<rect x="862" y="184" width="3" height="27" fill="#ff0000"/>
<rect x="867" y="135" width="1" height="68" fill="#00ff00"/>
<rect x="866" y="184" width="3" height="12" fill="#00ff00"/>
<rect x="871" y="154" width="1" height="73" fill="#ff0000"/>
<rect x="870" y="170" width="3" height="26" fill="#ff0000"/>
<rect x="875" y="149" width="1" height="61" fill="#00ff00"/>
<rect x="874" y="170" width="3" height="26" fill="#00ff00"/>
<rect x="879" y="168" width="1" height="36" fill="#ff0000"/>
<rect x="878" y="193" width="3" height="7" fill="#ff0000"/>
<rect x="883" y="185" width="1" height="10" fill="#ff0000"/>
<rect x="882" y="187" width="3" height="8" fill="#ff0000"/>
<rect x="887" y="159" width="1" height="50" fill="#00ff00"/>
<rect x="886" y="166" width="3" height="26" fill="#00ff00"/>
<rect x="891" y="191" width="1" height="54" fill="#00ff00"/>
<rect x="890" y="195" width="3" height="44" fill="#00ff00"/>
<rect x="895" y="211" width="1" height="33" fill="#ff0000"/>
<rect x="894" y="226" width="3" height="13" fill="#ff0000"/>
<rect x="899" y="209" width="1" height="41" fill="#00ff00"/>
<rect x="898" y="226" width="3" height="10" fill="#00ff00"/>
<rect x="903" y="220" width="1" height="29" fill="#00ff00"/>
<rect x="902" y="235" width="3" height="5" fill="#00ff00"/>
<rect x="907" y="238" width="1" height="5" fill="#00ff00"/>
<rect x="906" y="239" width="3" height="4" fill="#00ff00"/>
<rect x="911" y="234" width="1" height="18" fill="#00ff00"/>
<rect x="910" y="240" width="3" height="4" fill="#00ff00"/>
<rect x="915" y="241" width="1" height="30" fill="#00ff00"/>
<rect x="914" y="243" width="3" height="15" fill="#00ff00"/>
<rect x="919" y="197" width="1" height="68" fill="#ff0000"/>
<rect x="918" y="199" width="3" height="59" fill="#ff0000"/>
<rect x="923" y="188" width="1" height="32" fill="#ff0000"/>
<rect x="922" y="192" width="3" height="8" fill="#ff0000"/>
<rect x="927" y="181" width="1" height="49" fill="#00ff00"/>
<rect x="926" y="190" width="3" height="34" fill="#00ff00"/>
<rect x="931" y="218" width="1" height="11" fill="#00ff00"/>
<rect x="930" y="222" width="3" height="3" fill="#00ff00"/>
<rect x="935" y="194" width="1" height="28" fill="#ff0000"/>
<rect x="934" y="212" width="3" height="9" fill="#ff0000"/>
<rect x="939" y="158" width="1" height="58" fill="#ff0000"/>
<rect x="938" y="176" width="3" height="37" fill="#ff0000"/>
<rect x="943" y="165" width="1" height="30" fill="#00ff00"/>
<rect x="942" y="176" width="3" height="19" fill="#00ff00"/>
<rect x="947" y="176" width="1" height="54" fill="#00ff00"/>
<rect x="946" y="195" width="3" height="27" fill="#00ff00"/>
<rect x="951" y="200" width="1" height="24" fill="#ff0000"/>
<rect x="950" y="202" width="3" height="21" fill="#ff0000"/>
<rect x="955" y="198" width="1" height="9" fill="#ff0000"/>
<rect x="954" y="200" width="3" height="3" fill="#ff0000"/>
<rect x="959" y="199" width="1" height="21" fill="#00ff00"/>
<rect x="958" y="199" width="3" height="21" fill="#00ff00"/>
<rect x="963" y="216" width="1" height="33" fill="#00ff00"/>
<rect x="962" y="219" width="3" height="13" fill="#00ff00"/>
<rect x="967" y="229" width="1" height="25" fill="#00ff00"/>
<rect x="966" y="232" width="3" height="15" fill="#00ff00"/>
<rect x="971" y="247" width="1" height="24" fill="#00ff00"/>
<rect x="970" y="248" width="3" height="8" fill="#00ff00"/>
<rect x="975" y="202" width="1" height="54" fill="#ff0000"/>
<rect x="974" y="202" width="3" height="54" fill="#ff0000"/>
<rect x="979" y="202" width="1" height="10" fill="#00ff00"/>
<rect x="978" y="202" width="3" height="7" fill="#00ff00"/>
<rect x="983" y="189" width="1" height="23" fill="#00ff00"/>
<rect x="982" y="196" width="3" height="6" fill="#00ff00"/>
<rect x="987" y="202" width="1" height="26" fill="#00ff00"/>
<rect x="986" y="207" width="3" height="11" fill="#00ff00"/>
<rect x="991" y="187" width="1" height="39" fill="#ff0000"/>
<rect x="990" y="191" width="3" height="33" fill="#ff0000"/>
<rect x="995" y="183" width="1" height="57" fill="#00ff00"/>
<rect x="994" y="191" width="3" height="46" fill="#00ff00"/>
<rect x="999" y="229" width="1" height="27" fill="#00ff00"/>
<rect x="998" y="238" width="3" height="18" fill="#00ff00"/>
<rect x="1003" y="247" width="1" height="9" fill="#ff0000"/>
<rect x="1002" y="249" width="3" height="7" fill="#ff0000"/>
<rect x="1007" y="219" width="1" height="40" fill="#ff0000"/>
<rect x="1006" y="224" width="3" height="23" fill="#ff0000"/>
<rect x="1011" y="213" width="1" height="25" fill="#00ff00"/>
<rect x="1010" y="224" width="3" height="4" fill="#00ff00"/>
<rect x="1015" y="204" width="1" height="26" fill="#ff0000"/>
<rect x="1014" y="206" width="3" height="23" fill="#ff0000"/>
<rect x="1019" y="192" width="1" height="21" fill="#00ff00"/>
<rect x="1018" y="206" width="3" height="1" fill="#00ff00"/>
<rect x="1023" y="202" width="1" height="24" fill="#ff0000"/>
<rect x="1022" y="205" width="3" height="1" fill="#ff0000"/>
<rect x="1027" y="198" width="1" height="8" fill="#ff0000"/>
<rect x="1026" y="201" width="3" height="5" fill="#ff0000"/>
<rect x="1031" y="204" width="1" height="37" fill="#00ff00"/>
<rect x="1030" y="206" width="3" height="34" fill="#00ff00"/>
<rect x="1035" y="236" width="1" height="30" fill="#00ff00"/>
<rect x="1034" y="240" width="3" height="24" fill="#00ff00"/>
<rect x="1039" y="241" width="1" height="26" fill="#ff0000"/>
<rect x="1038" y="255" width="3" height="8" fill="#ff0000"/>
<rect x="1043" y="241" width="1" height="15" fill="#ff0000"/>
<rect x="1042" y="244" width="3" height="11" fill="#ff0000"/>
<rect x="1047" y="217" width="1" height="33" fill="#ff0000"/>
<rect x="1046" y="224" width="3" height="21" fill="#ff0000"/>
<rect x="1051" y="223" width="1" height="11" fill="#00ff00"/>
<rect x="1050" y="224" width="3" height="8" fill="#00ff00"/>
<rect x="1055" y="230" width="1" height="9" fill="#00ff00"/>
<rect x="1054" y="234" width="3" height="5" fill="#00ff00"/>
<rect x="1059" y="234" width="1" height="56" fill="#00ff00"/>
<rect x="1058" y="238" width="3" height="42" fill="#00ff00"/>
<rect x="1063" y="279" width="1" height="27" fill="#00ff00"/>
<rect x="1062" y="280" width="3" height="9" fill="#00ff00"/>
<rect x="1067" y="286" width="1" height="18" fill="#00ff00"/>
<rect x="1066" y="288" width="3" height="8" fill="#00ff00"/>
<rect x="1071" y="278" width="1" height="31" fill="#ff0000"/>
<rect x="1070" y="283" width="3" height="13" fill="#ff0000"/>
<rect x="1075" y="277" width="1" height="14" fill="#00ff00"/>
<rect x="1074" y="282" width="3" height="9" fill="#00ff00"/>
<rect x="1079" y="289" width="1" height="50" fill="#00ff00"/>
<rect x="1078" y="290" width="3" height="48" fill="#00ff00"/>
<rect x="1083" y="337" width="1" height="34" fill="#00ff00"/>
<rect x="1082" y="340" width="3" height="23" fill="#00ff00"/>
<rect x="1087" y="347" width="1" height="25" fill="#00ff00"/>
<rect x="1086" y="362" width="3" height="9" fill="#00ff00"/>
<rect x="1091" y="356" width="1" height="21" fill="#ff0000"/>
<rect x="1090" y="363" width="3" height="8" fill="#ff0000"/>
<rect x="1095" y="362" width="1" height="36" fill="#00ff00"/>
<rect x="1094" y="364" width="3" height="25" fill="#00ff00"/>
<rect x="1099" y="383" width="1" height="7" fill="#ff0000"/>
<rect x="1098" y="385" width="3" height="4" fill="#ff0000"/>
<rect x="1103" y="385" width="1" height="17" fill="#00ff00"/>
<rect x="1102" y="390" width="3" height="11" fill="#00ff00"/>
<rect x="1107" y="370" width="1" height="37" fill="#ff0000"/>
<rect x="1106" y="386" width="3" height="15" fill="#ff0000"/>
<rect x="1111" y="384" width="1" height="18" fill="#00ff00"/>
<rect x="1110" y="386" width="3" height="12" fill="#00ff00"/>
<rect x="1115" y="345" width="1" height="72" fill="#ff0000"/>
<rect x="1114" y="351" width="3" height="47" fill="#ff0000"/>
<rect x="1119" y="321" width="1" height="38" fill="#ff0000"/>
<rect x="1118" y="344" width="3" height="8" fill="#ff0000"/>
<rect x="1123" y="327" width="1" height="17" fill="#ff0000"/>
<rect x="1122" y="335" width="3" height="8" fill="#ff0000"/>
<rect x="1127" y="316" width="1" height="29" fill="#00ff00"/>
<rect x="1126" y="332" width="3" height="4" fill="#00ff00"/>
<rect x="1131" y="333" width="1" height="32" fill="#00ff00"/>
<rect x="1130" y="335" width="3" height="15" fill="#00ff00"/>
<rect x="1135" y="342" width="1" height="23" fill="#ff0000"/>
<rect x="1134" y="348" width="3" height="2" fill="#ff0000"/>
<rect x="1139" y="337" width="1" height="25" fill="#ff0000"/>
<rect x="1138" y="340" width="3" height="8" fill="#ff0000"/>
<rect x="1143" y="335" width="1" height="20" fill="#ff0000"/>
<rect x="1142" y="340" width="3" height="2" fill="#ff0000"/>
<rect x="1147" y="335" width="1" height="5" fill="#ff0000"/>
<rect x="1146" y="338" width="3" height="1" fill="#ff0000"/>
<rect x="1151" y="332" width="1" height="25" fill="#00ff00"/>
<rect x="1150" y="335" width="3" height="20" fill="#00ff00"/>
<rect x="1155" y="348" width="1" height="24" fill="#00ff00"/>
<rect x="1154" y="354" width="3" height="11" fill="#00ff00"/>
<rect x="1159" y="340" width="1" height="25" fill="#ff0000"/>
<rect x="1158" y="340" width="3" height="25" fill="#ff0000"/>
<rect x="1163" y="320" width="1" height="22" fill="#ff0000"/>
<rect x="1162" y="323" width="3" height="15" fill="#ff0000"/>
<rect x="1167" y="308" width="1" height="25" fill="#ff0000"/>
<rect x="1166" y="313" width="3" height="11" fill="#ff0000"/>
<rect x="1171" y="311" width="1" height="16" fill="#00ff00"/>
<rect x="1170" y="313" width="3" height="12" fill="#00ff00"/>
<rect x="1175" y="311" width="1" height="17" fill="#ff0000"/>
<rect x="1174" y="315" width="3" height="4" fill="#ff0000"/>
<rect x="1179" y="312" width="1" height="26" fill="#00ff00"/>
<rect x="1178" y="316" width="3" height="21" fill="#00ff00"/>
<rect x="1183" y="335" width="1" height="20" fill="#00ff00"/>
<rect x="1182" y="336" width="3" height="8" fill="#00ff00"/>
<rect x="1187" y="333" width="1" height="17" fill="#ff0000"/>
<rect x="1186" y="342" width="3" height="4" fill="#ff0000"/>
<rect x="1191" y="340" width="1" height="13" fill="#00ff00"/>
<rect x="1190" y="342" width="3" height="8" fill="#00ff00"/>
<rect x="1195" y="349" width="1" height="2" fill="#00ff00"/>
<rect x="1194" y="350" width="3" height="1" fill="#00ff00"/>
<rect x="1199" y="350" width="1" height="12" fill="#00ff00"/>
<rect x="1198" y="353" width="3" height="2" fill="#00ff00"/>
<rect x="1203" y="340" width="1" height="20" fill="#ff0000"/>
<rect x="1202" y="343" width="3" height="12" fill="#ff0000"/>
<rect x="1207" y="333" width="1" height="24" fill="#00ff00"/>
<rect x="1206" y="342" width="3" height="15" fill="#00ff00"/>
<rect x="1211" y="343" width="1" height="27" fill="#ff0000"/>
<rect x="1210" y="346" width="3" height="11" fill="#ff0000"/>
<rect x="1215" y="331" width="1" height="18" fill="#ff0000"/>
<rect x="1214" y="342" width="3" height="3" fill="#ff0000"/>
<rect x="1219" y="332" width="1" height="12" fill="#00ff00"/>
<rect x="1218" y="342" width="3" height="1" fill="#00ff00"/>
<rect x="1223" y="341" width="1" height="17" fill="#00ff00"/>
<rect x="1222" y="343" width="3" height="5" fill="#00ff00"/>
<rect x="1227" y="327" width="1" height="25" fill="#ff0000"/>
<rect x="1226" y="340" width="3" height="8" fill="#ff0000"/>
<rect x="1231" y="332" width="1" height="29" fill="#00ff00"/>
<rect x="1230" y="340" width="3" height="21" fill="#00ff00"/>
<rect x="1235" y="354" width="1" height="13" fill="#ff0000"/>
<rect x="1234" y="356" width="3" height="6" fill="#ff0000"/>
<rect x="1239" y="343" width="1" height="16" fill="#ff0000"/>
<rect x="1238" y="347" width="3" height="10" fill="#ff0000"/>
<rect x="1243" y="345" width="1" height="4" fill="#ff0000"/>
<rect x="1242" y="346" width="3" height="3" fill="#ff0000"/>
<rect x="1247" y="340" width="1" height="19" fill="#00ff00"/>
<rect x="1246" y="344" width="3" height="15" fill="#00ff00"/>
<rect x="1251" y="357" width="1" height="29" fill="#00ff00"/>
<rect x="1250" y="358" width="3" height="25" fill="#00ff00"/>
<rect x="1255" y="371" width="1" height="21" fill="#00ff00"/>
<rect x="1254" y="382" width="3" height="10" fill="#00ff00"/>
<rect x="1259" y="387" width="1" height="17" fill="#00ff00"/>
<rect x="1258" y="392" width="3" height="11" fill="#00ff00"/>
<rect x="1263" y="382" width="1" height="26" fill="#ff0000"/>
<rect x="1262" y="387" width="3" height="16" fill="#ff0000"/>
<rect x="1267" y="384" width="1" height="6" fill="#00ff00"/>
<rect x="1266" y="387" width="3" height="1" fill="#00ff00"/>
<path fill="#0000cd" d="M3 473h2v1h-2zM41 473h4v1h-4zM588 473h2v1h-2zM680 473h1v1h-1zM5 474h4v1h-4zM37 474h4v1h-4zM590 474h3v1h-3zM679 474h1v1h-1zM9 475h4v1h-4zM33 475h4v1h-4zM593 475h3v1h-3zM677 475h2v1h-2zM13 476h20v1h-20zM596 476h2v1h-2zM676 476h1v1h-1zM45 472h4v1h-4zM585 472h3v1h-3zM681 472h2v1h-2zM49 471h3v1h-3zM582 471h3v1h-3zM683 471h1v1h-1zM52 470h1v1h-1zM580 470h2v1h-2zM684 470h1v1h-1zM53 469h2v1h-2zM578 469h2v1h-2zM685 469h2v1h-2zM55 468h2v1h-2zM576 468h2v1h-2zM687 468h1v1h-1zM57 467h4v1h-4zM575 467h1v1h-1zM688 467h1v1h-1zM61 466h4v1h-4zM573 466h2v1h-2zM689 466h2v1h-2zM65 465h3v1h-3zM572 465h1v1h-1zM691 465h1v1h-1zM68 464h2v1h-2zM571 464h1v1h-1zM692 464h1v1h-1zM70 463h3v1h-3zM569 463h2v1h-2zM693 463h2v1h-2zM73 462h3v1h-3zM568 462h1v1h-1zM695 462h1v1h-1zM76 461h2v1h-2zM389 461h20v1h-20zM567 461h1v1h-1zM696 461h1v1h-1zM78 460h2v1h-2zM381 460h8v1h-8zM409 460h4v1h-4zM565 460h2v1h-2zM697 460h2v1h-2zM80 459h2v1h-2zM377 459h4v1h-4zM413 459h4v1h-4zM564 459h1v1h-1zM699 459h1v1h-1zM82 458h2v1h-2zM373 458h4v1h-4zM417 458h4v1h-4zM562 458h2v1h-2zM700 458h2v1h-2zM84 457h2v1h-2zM370 457h3v1h-3zM421 457h3v1h-3zM560 457h2v1h-2zM702 457h3v1h-3zM86 456h2v1h-2zM368 456h2v1h-2zM424 456h2v1h-2zM559 456h1v1h-1zM705 456h3v1h-3zM88 455h2v1h-2zM365 455h3v1h-3zM426 455h2v1h-2zM557 455h2v1h-2zM708 455h2v1h-2zM90 454h2v1h-2zM357 454h8v1h-8zM428 454h2v1h-2zM556 454h1v1h-1zM710 454h2v1h-2zM92 453h2v1h-2zM353 453h4v1h-4zM430 453h2v1h-2zM555 453h1v1h-1zM712 453h2v1h-2zM94 452h2v1h-2zM349 452h4v1h-4zM432 452h2v1h-2zM553 452h2v1h-2zM714 452h3v1h-3zM96 451h1v1h-1zM345 451h4v1h-4zM434 451h2v1h-2zM552 451h1v1h-1zM717 451h3v1h-3zM97 450h2v1h-2zM341 450h4v1h-4zM436 450h2v1h-2zM550 450h2v1h-2zM720 450h2v1h-2zM99 449h1v1h-1zM338 449h3v1h-3zM438 449h3v1h-3zM548 449h2v1h-2zM722 449h2v1h-2zM100 448h2v1h-2zM336 448h2v1h-2zM441 448h3v1h-3zM546 448h2v1h-2zM724 448h2v1h-2zM102 447h2v1h-2zM334 447h2v1h-2zM444 447h2v1h-2zM544 447h2v1h-2zM726 447h3v1h-3zM104 446h2v1h-2zM332 446h2v1h-2zM446 446h2v1h-2zM542 446h2v1h-2zM729 446h3v1h-3zM106 445h2v1h-2zM330 445h2v1h-2zM448 445h2v1h-2zM540 445h2v1h-2zM732 445h2v1h-2zM108 444h2v1h-2zM328 444h2v1h-2zM450 444h2v1h-2zM538 444h2v1h-2zM734 444h3v1h-3zM110 443h2v1h-2zM326 443h2v1h-2zM452 443h1v1h-1zM536 443h2v1h-2zM737 443h3v1h-3zM112 442h2v1h-2zM324 442h2v1h-2zM453 442h2v1h-2zM533 442h3v1h-3zM740 442h2v1h-2zM114 441h2v1h-2zM321 441h3v1h-3zM455 441h2v1h-2zM529 441h4v1h-4zM742 441h2v1h-2zM116 440h2v1h-2zM318 440h3v1h-3zM457 440h4v1h-4zM517 440h12v1h-12zM744 440h2v1h-2zM118 439h3v1h-3zM316 439h2v1h-2zM461 439h8v1h-8zM513 439h4v1h-4zM746 439h2v1h-2zM121 438h3v1h-3zM314 438h2v1h-2zM469 438h4v1h-4zM509 438h4v1h-4zM748 438h2v1h-2zM124 437h2v1h-2zM312 437h2v1h-2zM473 437h4v1h-4zM505 437h4v1h-4zM750 437h2v1h-2zM126 436h3v1h-3zM309 436h3v1h-3zM477 436h4v1h-4zM501 436h4v1h-4zM752 436h2v1h-2zM129 435h4v1h-4zM241 435h8v1h-8zM305 435h4v1h-4zM481 435h20v1h-20zM754 435h2v1h-2zM133 434h4v1h-4zM229 434h12v1h-12zM249 434h20v1h-20zM302 434h3v1h-3zM756 434h2v1h-2zM137 433h3v1h-3zM217 433h12v1h-12zM269 433h16v1h-16zM300 433h2v1h-2zM758 433h2v1h-2zM140 432h2v1h-2zM173 432h12v1h-12zM201 432h16v1h-16zM285 432h15v1h-15zM760 432h1v1h-1zM142 431h3v1h-3zM169 431h4v1h-4zM185 431h16v1h-16zM761 431h2v1h-2zM145 430h4v1h-4zM165 430h4v1h-4zM763 430h1v1h-1zM149 429h16v1h-16zM764 429h2v1h-2zM598 477h2v1h-2zM674 477h2v1h-2zM600 478h2v1h-2zM672 478h2v1h-2zM602 479h3v1h-3zM670 479h2v1h-2zM605 480h4v1h-4zM668 480h2v1h-2zM609 481h3v1h-3zM666 481h2v1h-2zM612 482h2v1h-2zM664 482h2v1h-2zM614 483h3v1h-3zM661 483h3v1h-3zM617 484h4v1h-4zM657 484h4v1h-4zM621 485h20v1h-20zM649 485h8v1h-8zM641 486h8v1h-8zM766 428h3v1h-3zM769 427h3v1h-3zM772 426h2v1h-2zM774 425h3v1h-3zM777 424h3v1h-3zM780 423h2v1h-2zM782 422h2v1h-2zM784 421h2v1h-2zM786 420h2v1h-2zM788 419h2v1h-2zM790 418h2v1h-2zM792 417h1v1h-1zM793 416h1v1h-1zM793 415h1v1h-1zM794 414h1v1h-1zM795 413h1v1h-1zM796 412h1v1h-1zM797 411h1v1h-1zM798 410h1v1h-1zM799 409h1v1h-1zM800 408h1v1h-1zM801 407h1v1h-1zM801 406h1v1h-1zM802 405h1v1h-1zM803 404h1v1h-1zM804 403h1v1h-1zM804 402h1v1h-1zM805 401h1v1h-1zM806 400h1v1h-1zM806 399h1v1h-1zM807 398h1v1h-1zM808 397h1v1h-1zM808 396h1v1h-1zM809 395h1v1h-1zM810 394h1v1h-1zM810 393h1v1h-1zM811 392h1v1h-1zM812 391h1v1h-1zM812 390h1v1h-1zM813 389h1v1h-1zM814 388h1v1h-1zM814 387h1v1h-1zM815 386h1v1h-1zM816 385h1v1h-1zM816 384h1v1h-1zM817 383h1v1h-1zM817 382h1v1h-1zM818 381h1v1h-1zM818 380h1v1h-1zM819 379h1v1h-1zM819 378h1v1h-1zM819 377h1v1h-1zM820 376h1v1h-1zM820 375h1v1h-1zM820 374h1v1h-1zM821 373h1v1h-1zM821 372h1v1h-1zM821 371h1v1h-1zM822 370h1v1h-1zM822 369h1v1h-1zM822 368h1v1h-1zM823 367h1v1h-1zM823 366h1v1h-1zM823 365h1v1h-1zM824 364h1v1h-1zM824 363h1v1h-1zM824 362h1v1h-1zM825 361h1v1h-1zM825 360h1v1h-1zM826 359h1v1h-1zM826 358h1v1h-1zM826 357h1v1h-1zM827 356h1v1h-1zM827 355h1v1h-1zM827 354h1v1h-1zM828 353h1v1h-1zM828 352h1v1h-1zM1197 352h4v1h-4zM1266 352h2v1h-2zM829 351h1v1h-1zM1194 351h3v1h-3zM1201 351h8v1h-8zM1264 351h2v1h-2zM829 350h1v1h-1zM1192 350h2v1h-2zM1209 350h3v1h-3zM1261 350h3v1h-3zM829 349h1v1h-1zM1190 349h2v1h-2zM1212 349h2v1h-2zM1258 349h3v1h-3zM830 348h1v1h-1zM1188 348h2v1h-2zM1214 348h3v1h-3zM1256 348h2v1h-2zM830 347h1v1h-1zM1186 347h2v1h-2zM1217 347h3v1h-3zM1254 347h2v1h-2zM831 346h1v1h-1zM1184 346h2v1h-2zM1220 346h2v1h-2zM1252 346h2v1h-2zM831 345h1v1h-1zM1181 345h3v1h-3zM1222 345h3v1h-3zM1249 345h3v1h-3zM831 344h1v1h-1zM1178 344h3v1h-3zM1225 344h4v1h-4zM1245 344h4v1h-4zM832 343h1v1h-1zM1176 343h2v1h-2zM1229 343h16v1h-16zM832 342h1v1h-1zM1175 342h1v1h-1zM833 341h1v1h-1zM1173 341h2v1h-2zM833 340h1v1h-1zM1172 340h1v1h-1zM833 339h1v1h-1zM1171 339h1v1h-1zM834 338h1v1h-1zM1169 338h2v1h-2zM834 337h1v1h-1zM1168 337h1v1h-1zM835 336h1v1h-1zM1167 336h1v1h-1zM835 335h1v1h-1zM1165 335h2v1h-2zM835 334h1v1h-1zM1164 334h1v1h-1zM836 333h1v1h-1zM1163 333h1v1h-1zM836 332h1v1h-1zM1161 332h2v1h-2zM836 331h1v1h-1zM1160 331h1v1h-1zM837 330h1v1h-1zM1158 330h2v1h-2zM837 329h1v1h-1zM1156 329h2v1h-2zM837 328h1v1h-1zM1155 328h1v1h-1zM838 327h1v1h-1zM1154 327h1v1h-1zM838 326h1v1h-1zM1153 326h1v1h-1zM838 325h1v1h-1zM1152 325h1v1h-1zM839 324h1v1h-1zM1151 324h1v1h-1zM839 323h1v1h-1zM1150 323h1v1h-1zM839 322h1v1h-1zM1149 322h1v1h-1zM840 321h1v1h-1zM1148 321h1v1h-1zM840 320h1v1h-1zM1147 320h1v1h-1zM840 319h1v1h-1zM1146 319h1v1h-1zM841 318h1v1h-1zM1145 318h1v1h-1zM841 317h1v1h-1zM1144 317h1v1h-1zM842 316h1v1h-1zM1143 316h1v1h-1zM842 315h1v1h-1zM1142 315h1v1h-1zM842 314h1v1h-1zM1141 314h1v1h-1zM843 313h1v1h-1zM1141 313h1v1h-1zM843 312h1v1h-1zM1140 312h1v1h-1zM843 311h1v1h-1zM1139 311h1v1h-1zM844 310h1v1h-1zM1138 310h1v1h-1zM844 309h1v1h-1zM1137 309h1v1h-1zM845 308h1v1h-1zM1136 308h1v1h-1zM845 307h1v1h-1zM1135 307h1v1h-1zM845 306h1v1h-1zM1134 306h1v1h-1zM846 305h1v1h-1zM1133 305h1v1h-1zM846 304h1v1h-1zM1133 304h1v1h-1zM847 303h1v1h-1zM1132 303h1v1h-1zM847 302h1v1h-1zM1131 302h1v1h-1zM848 301h1v1h-1zM1130 301h1v1h-1zM848 300h1v1h-1zM1129 300h1v1h-1zM849 299h1v1h-1zM1128 299h1v1h-1zM849 298h1v1h-1zM1127 298h1v1h-1zM850 297h1v1h-1zM1126 297h1v1h-1zM850 296h1v1h-1zM1125 296h1v1h-1zM851 295h1v1h-1zM1124 295h1v1h-1zM851 294h1v1h-1zM1123 294h1v1h-1zM852 293h1v1h-1zM1121 293h2v1h-2zM852 292h1v1h-1zM1120 292h1v1h-1zM853 291h1v1h-1zM1119 291h1v1h-1zM853 290h1v1h-1zM1117 290h2v1h-2zM854 289h1v1h-1zM1116 289h1v1h-1zM854 288h1v1h-1zM1115 288h1v1h-1zM855 287h1v1h-1zM1113 287h2v1h-2zM855 286h1v1h-1zM1112 286h1v1h-1zM856 285h1v1h-1zM1111 285h1v1h-1zM856 284h1v1h-1zM1110 284h1v1h-1zM857 283h1v1h-1zM1110 283h1v1h-1zM858 282h1v1h-1zM1109 282h1v1h-1zM858 281h1v1h-1zM1109 281h1v1h-1zM859 280h1v1h-1zM1108 280h1v1h-1zM860 279h1v1h-1zM1108 279h1v1h-1zM860 278h1v1h-1zM1107 278h1v1h-1zM861 277h1v1h-1zM1106 277h1v1h-1zM861 276h1v1h-1zM1106 276h1v1h-1zM862 275h1v1h-1zM1105 275h1v1h-1zM862 274h1v1h-1zM1104 274h1v1h-1zM863 273h1v1h-1zM1104 273h1v1h-1zM863 272h1v1h-1zM1103 272h1v1h-1zM864 271h1v1h-1zM1102 271h1v1h-1zM864 270h1v1h-1zM1102 270h1v1h-1zM865 269h1v1h-1zM1101 269h1v1h-1zM865 268h1v1h-1zM1100 268h1v1h-1zM866 267h1v1h-1zM1100 267h1v1h-1zM866 266h1v1h-1zM1099 266h1v1h-1zM867 265h1v1h-1zM1098 265h1v1h-1zM867 264h1v1h-1zM1098 264h1v1h-1zM868 263h1v1h-1zM1097 263h1v1h-1zM868 262h1v1h-1zM1096 262h1v1h-1zM869 261h1v1h-1zM1096 261h1v1h-1zM869 260h1v1h-1zM1095 260h1v1h-1zM870 259h1v1h-1zM1094 259h1v1h-1zM870 258h1v1h-1zM1094 258h1v1h-1zM871 257h1v1h-1zM1093 257h1v1h-1zM871 256h1v1h-1zM1092 256h1v1h-1zM872 255h1v1h-1zM1092 255h1v1h-1zM872 254h1v1h-1zM1091 254h1v1h-1zM873 253h1v1h-1zM1090 253h1v1h-1zM873 252h1v1h-1zM1089 252h1v1h-1zM874 251h1v1h-1zM1088 251h1v1h-1zM874 250h1v1h-1zM1087 250h1v1h-1zM875 249h1v1h-1zM1086 249h1v1h-1zM876 248h1v1h-1zM1085 248h1v1h-1zM876 247h1v1h-1zM1084 247h1v1h-1zM877 246h1v1h-1zM1083 246h1v1h-1zM877 245h1v1h-1zM1082 245h1v1h-1zM878 244h1v1h-1zM1081 244h1v1h-1zM878 243h1v1h-1zM1081 243h1v1h-1zM879 242h1v1h-1zM1080 242h1v1h-1zM880 241h1v1h-1zM1079 241h1v1h-1zM880 240h1v1h-1zM1077 240h2v1h-2zM881 239h1v1h-1zM1076 239h1v1h-1zM881 238h1v1h-1zM1075 238h1v1h-1zM882 237h1v1h-1zM1073 237h2v1h-2zM882 236h1v1h-1zM1072 236h1v1h-1zM883 235h1v1h-1zM1071 235h1v1h-1zM884 234h1v1h-1zM1069 234h2v1h-2zM884 233h1v1h-1zM1068 233h1v1h-1zM885 232h1v1h-1zM1067 232h1v1h-1zM885 231h1v1h-1zM1065 231h2v1h-2zM886 230h1v1h-1zM1064 230h1v1h-1zM886 229h1v1h-1zM1063 229h1v1h-1zM887 228h1v1h-1zM1061 228h2v1h-2zM888 227h1v1h-1zM1060 227h1v1h-1zM888 226h1v1h-1zM1059 226h1v1h-1zM889 225h1v1h-1zM1057 225h2v1h-2zM890 224h1v1h-1zM1056 224h1v1h-1zM890 223h1v1h-1zM1005 223h4v1h-4zM1053 223h3v1h-3zM891 222h1v1h-1zM1003 222h2v1h-2zM1009 222h4v1h-4zM1042 222h11v1h-11zM892 221h1v1h-1zM1001 221h2v1h-2zM1013 221h7v1h-7zM1040 221h2v1h-2zM893 220h1v1h-1zM1000 220h1v1h-1zM1020 220h2v1h-2zM1038 220h2v1h-2zM893 219h1v1h-1zM998 219h2v1h-2zM1022 219h3v1h-3zM1036 219h2v1h-2zM894 218h1v1h-1zM996 218h2v1h-2zM1025 218h11v1h-11zM895 217h1v1h-1zM993 217h3v1h-3zM896 216h1v1h-1zM989 216h4v1h-4zM897 215h1v1h-1zM969 215h8v1h-8zM981 215h8v1h-8zM897 214h1v1h-1zM967 214h2v1h-2zM977 214h4v1h-4zM898 213h1v1h-1zM965 213h2v1h-2zM899 212h1v1h-1zM964 212h1v1h-1zM900 211h1v1h-1zM963 211h1v1h-1zM901 210h1v1h-1zM962 210h1v1h-1zM901 209h1v1h-1zM961 209h1v1h-1zM902 208h1v1h-1zM961 208h1v1h-1zM903 207h1v1h-1zM960 207h1v1h-1zM904 206h1v1h-1zM959 206h1v1h-1zM905 205h1v1h-1zM958 205h1v1h-1zM905 204h1v1h-1zM957 204h1v1h-1zM906 203h1v1h-1zM956 203h1v1h-1zM907 202h1v1h-1zM955 202h1v1h-1zM908 201h1v1h-1zM953 201h2v1h-2zM909 200h1v1h-1zM952 200h1v1h-1zM910 199h1v1h-1zM951 199h1v1h-1zM911 198h2v1h-2zM949 198h2v1h-2zM913 197h3v1h-3zM948 197h1v1h-1zM916 196h1v1h-1zM947 196h1v1h-1zM917 195h1v1h-1zM946 195h1v1h-1zM918 194h1v1h-1zM945 194h1v1h-1zM919 193h1v1h-1zM944 193h1v1h-1zM920 192h2v1h-2zM943 192h1v1h-1zM922 191h7v1h-7zM941 191h2v1h-2zM929 190h4v1h-4zM940 190h1v1h-1zM933 189h7v1h-7z"/>
<path fill="#ff0000" d="M3 483h2v1h-2zM571 483h1v1h-1zM638 483h3v1h-3zM5 482h4v1h-4zM569 482h2v1h-2zM641 482h3v1h-3zM9 481h3v1h-3zM568 481h1v1h-1zM644 481h1v1h-1zM12 480h2v1h-2zM566 480h2v1h-2zM645 480h2v1h-2zM14 479h2v1h-2zM564 479h2v1h-2zM647 479h1v1h-1zM16 478h2v1h-2zM563 478h1v1h-1zM648 478h2v1h-2zM18 477h2v1h-2zM562 477h1v1h-1zM650 477h2v1h-2zM20 476h2v1h-2zM561 476h1v1h-1zM652 476h1v1h-1zM22 475h2v1h-2zM349 475h8v1h-8zM560 475h1v1h-1zM653 475h2v1h-2zM24 474h2v1h-2zM345 474h4v1h-4zM357 474h4v1h-4zM559 474h1v1h-1zM655 474h1v1h-1zM26 473h2v1h-2zM341 473h4v1h-4zM361 473h4v1h-4zM557 473h2v1h-2zM656 473h1v1h-1zM28 472h2v1h-2zM338 472h3v1h-3zM365 472h3v1h-3zM556 472h1v1h-1zM657 472h2v1h-2zM30 471h2v1h-2zM336 471h2v1h-2zM368 471h2v1h-2zM555 471h1v1h-1zM659 471h1v1h-1zM32 470h1v1h-1zM334 470h2v1h-2zM370 470h2v1h-2zM554 470h1v1h-1zM660 470h1v1h-1zM33 469h2v1h-2zM332 469h2v1h-2zM372 469h2v1h-2zM553 469h1v1h-1zM661 469h1v1h-1zM35 468h1v1h-1zM331 468h1v1h-1zM374 468h2v1h-2zM552 468h1v1h-1zM662 468h1v1h-1zM36 467h1v1h-1zM330 467h1v1h-1zM376 467h1v1h-1zM551 467h1v1h-1zM663 467h1v1h-1zM37 466h1v1h-1zM329 466h1v1h-1zM377 466h2v1h-2zM549 466h2v1h-2zM664 466h1v1h-1zM38 465h1v1h-1zM328 465h1v1h-1zM379 465h1v1h-1zM548 465h1v1h-1zM665 465h2v1h-2zM39 464h1v1h-1zM327 464h1v1h-1zM380 464h1v1h-1zM546 464h2v1h-2zM667 464h1v1h-1zM40 463h2v1h-2zM326 463h1v1h-1zM381 463h2v1h-2zM544 463h2v1h-2zM668 463h1v1h-1zM42 462h2v1h-2zM325 462h1v1h-1zM383 462h1v1h-1zM543 462h1v1h-1zM669 462h1v1h-1zM44 461h2v1h-2zM325 461h1v1h-1zM384 461h1v1h-1zM541 461h2v1h-2zM670 461h1v1h-1zM46 460h2v1h-2zM324 460h1v1h-1zM385 460h1v1h-1zM540 460h1v1h-1zM671 460h1v1h-1zM48 459h1v1h-1zM323 459h1v1h-1zM386 459h1v1h-1zM538 459h2v1h-2zM672 459h1v1h-1zM49 458h2v1h-2zM322 458h1v1h-1zM387 458h1v1h-1zM536 458h2v1h-2zM673 458h1v1h-1zM51 457h1v1h-1zM321 457h1v1h-1zM388 457h1v1h-1zM533 457h3v1h-3zM674 457h1v1h-1zM52 456h1v1h-1zM321 456h1v1h-1zM389 456h2v1h-2zM530 456h3v1h-3zM675 456h1v1h-1zM53 455h1v1h-1zM320 455h1v1h-1zM391 455h1v1h-1zM528 455h2v1h-2zM676 455h1v1h-1zM53 454h1v1h-1zM319 454h1v1h-1zM392 454h1v1h-1zM526 454h2v1h-2zM677 454h1v1h-1zM54 453h1v1h-1zM318 453h1v1h-1zM393 453h2v1h-2zM524 453h2v1h-2zM677 453h1v1h-1zM55 452h1v1h-1zM317 452h1v1h-1zM395 452h2v1h-2zM518 452h6v1h-6zM678 452h1v1h-1zM56 451h2v1h-2zM317 451h1v1h-1zM397 451h3v1h-3zM516 451h2v1h-2zM679 451h1v1h-1zM58 450h2v1h-2zM316 450h1v1h-1zM400 450h2v1h-2zM515 450h1v1h-1zM680 450h1v1h-1zM60 449h2v1h-2zM315 449h1v1h-1zM402 449h3v1h-3zM513 449h2v1h-2zM681 449h1v1h-1zM62 448h2v1h-2zM314 448h1v1h-1zM405 448h3v1h-3zM512 448h1v1h-1zM681 448h1v1h-1zM64 447h2v1h-2zM313 447h1v1h-1zM408 447h2v1h-2zM511 447h1v1h-1zM682 447h1v1h-1zM66 446h7v1h-7zM312 446h1v1h-1zM410 446h2v1h-2zM509 446h2v1h-2zM683 446h1v1h-1zM73 445h3v1h-3zM311 445h1v1h-1zM412 445h1v1h-1zM508 445h1v1h-1zM684 445h1v1h-1zM76 444h1v1h-1zM310 444h1v1h-1zM413 444h2v1h-2zM507 444h1v1h-1zM685 444h2v1h-2zM77 443h1v1h-1zM201 443h4v1h-4zM309 443h1v1h-1zM415 443h1v1h-1zM505 443h2v1h-2zM687 443h1v1h-1zM78 442h1v1h-1zM197 442h4v1h-4zM205 442h7v1h-7zM309 442h1v1h-1zM416 442h2v1h-2zM504 442h1v1h-1zM688 442h1v1h-1zM79 441h1v1h-1zM193 441h4v1h-4zM212 441h2v1h-2zM308 441h1v1h-1zM418 441h2v1h-2zM502 441h2v1h-2zM689 441h2v1h-2zM80 440h1v1h-1zM189 440h4v1h-4zM214 440h2v1h-2zM307 440h1v1h-1zM420 440h2v1h-2zM500 440h2v1h-2zM691 440h1v1h-1zM81 439h2v1h-2zM185 439h4v1h-4zM216 439h2v1h-2zM306 439h1v1h-1zM422 439h2v1h-2zM498 439h2v1h-2zM692 439h1v1h-1zM83 438h1v1h-1zM177 438h8v1h-8zM218 438h2v1h-2zM305 438h1v1h-1zM424 438h2v1h-2zM496 438h2v1h-2zM693 438h1v1h-1zM84 437h2v1h-2zM174 437h3v1h-3zM220 437h1v1h-1zM304 437h1v1h-1zM426 437h2v1h-2zM494 437h2v1h-2zM694 437h1v1h-1zM86 436h3v1h-3zM172 436h2v1h-2zM221 436h2v1h-2zM303 436h1v1h-1zM428 436h2v1h-2zM492 436h2v1h-2zM695 436h1v1h-1zM89 435h3v1h-3zM171 435h1v1h-1zM223 435h1v1h-1zM301 435h2v1h-2zM430 435h2v1h-2zM490 435h2v1h-2zM696 435h1v1h-1zM92 434h2v1h-2zM169 434h2v1h-2zM224 434h2v1h-2zM300 434h1v1h-1zM432 434h2v1h-2zM488 434h2v1h-2zM697 434h2v1h-2zM741 434h12v1h-12zM94 433h2v1h-2zM168 433h1v1h-1zM226 433h3v1h-3zM241 433h3v1h-3zM298 433h2v1h-2zM434 433h3v1h-3zM486 433h2v1h-2zM699 433h2v1h-2zM738 433h3v1h-3zM753 433h3v1h-3zM96 432h2v1h-2zM167 432h1v1h-1zM229 432h4v1h-4zM237 432h4v1h-4zM244 432h2v1h-2zM296 432h2v1h-2zM437 432h4v1h-4zM484 432h2v1h-2zM701 432h3v1h-3zM736 432h2v1h-2zM756 432h1v1h-1zM98 431h2v1h-2zM165 431h2v1h-2zM233 431h4v1h-4zM246 431h3v1h-3zM293 431h3v1h-3zM441 431h4v1h-4zM481 431h3v1h-3zM704 431h2v1h-2zM733 431h3v1h-3zM757 431h2v1h-2zM100 430h2v1h-2zM164 430h1v1h-1zM249 430h4v1h-4zM289 430h4v1h-4zM445 430h7v1h-7zM477 430h4v1h-4zM706 430h3v1h-3zM729 430h4v1h-4zM759 430h1v1h-1zM102 429h3v1h-3zM109 429h4v1h-4zM163 429h1v1h-1zM253 429h4v1h-4zM285 429h4v1h-4zM452 429h2v1h-2zM473 429h4v1h-4zM709 429h12v1h-12zM725 429h4v1h-4zM760 429h1v1h-1zM105 428h4v1h-4zM113 428h3v1h-3zM161 428h2v1h-2zM257 428h4v1h-4zM281 428h4v1h-4zM454 428h3v1h-3zM465 428h8v1h-8zM721 428h4v1h-4zM761 428h2v1h-2zM116 427h2v1h-2zM160 427h1v1h-1zM261 427h4v1h-4zM278 427h3v1h-3zM457 427h8v1h-8zM763 427h1v1h-1zM118 426h3v1h-3zM158 426h2v1h-2zM265 426h4v1h-4zM276 426h2v1h-2zM764 426h1v1h-1zM121 425h4v1h-4zM156 425h2v1h-2zM269 425h7v1h-7zM765 425h2v1h-2zM125 424h4v1h-4zM154 424h2v1h-2zM767 424h2v1h-2zM129 423h15v1h-15zM152 423h2v1h-2zM769 423h3v1h-3zM144 422h2v1h-2zM149 422h3v1h-3zM772 422h1v1h-1zM146 421h3v1h-3zM773 421h2v1h-2zM572 484h1v1h-1zM636 484h2v1h-2zM573 485h1v1h-1zM634 485h2v1h-2zM574 486h1v1h-1zM632 486h2v1h-2zM575 487h1v1h-1zM631 487h1v1h-1zM576 488h1v1h-1zM629 488h2v1h-2zM577 489h2v1h-2zM628 489h1v1h-1zM579 490h1v1h-1zM626 490h2v1h-2zM580 491h2v1h-2zM624 491h2v1h-2zM582 492h3v1h-3zM621 492h3v1h-3zM585 493h3v1h-3zM618 493h3v1h-3zM588 494h1v1h-1zM616 494h2v1h-2zM589 495h2v1h-2zM613 495h3v1h-3zM591 496h2v1h-2zM610 496h3v1h-3zM593 497h8v1h-8zM608 497h2v1h-2zM601 498h7v1h-7zM775 420h1v1h-1zM776 419h1v1h-1zM777 418h2v1h-2zM779 417h1v1h-1zM780 416h1v1h-1zM781 415h1v1h-1zM782 414h1v1h-1zM783 413h1v1h-1zM784 412h1v1h-1zM785 411h2v1h-2zM787 410h1v1h-1zM788 409h1v1h-1zM788 408h1v1h-1zM789 407h1v1h-1zM790 406h1v1h-1zM790 405h1v1h-1zM791 404h1v1h-1zM791 403h1v1h-1zM792 402h1v1h-1zM792 401h1v1h-1zM792 400h1v1h-1zM793 399h1v1h-1zM793 398h1v1h-1zM794 397h1v1h-1zM794 396h1v1h-1zM794 395h1v1h-1zM795 394h1v1h-1zM795 393h1v1h-1zM795 392h1v1h-1zM796 391h1v1h-1zM796 390h1v1h-1zM797 389h1v1h-1zM797 388h1v1h-1zM797 387h1v1h-1zM798 386h1v1h-1zM798 385h1v1h-1zM799 384h1v1h-1zM799 383h1v1h-1zM799 382h1v1h-1zM800 381h1v1h-1zM800 380h1v1h-1zM800 379h1v1h-1zM801 378h1v1h-1zM801 377h1v1h-1zM802 376h1v1h-1zM802 375h1v1h-1zM802 374h1v1h-1zM803 373h1v1h-1zM803 372h1v1h-1zM803 371h1v1h-1zM804 370h1v1h-1zM804 369h1v1h-1zM804 368h1v1h-1zM804 367h1v1h-1zM805 366h1v1h-1zM1133 366h3v1h-3zM805 365h1v1h-1zM1131 365h2v1h-2zM1136 365h2v1h-2zM805 364h1v1h-1zM1130 364h1v1h-1zM1138 364h2v1h-2zM1267 364h1v1h-1zM806 363h1v1h-1zM1129 363h1v1h-1zM1140 363h2v1h-2zM1265 363h2v1h-2zM806 362h1v1h-1zM1128 362h1v1h-1zM1142 362h2v1h-2zM1264 362h1v1h-1zM806 361h1v1h-1zM1127 361h1v1h-1zM1144 361h2v1h-2zM1262 361h2v1h-2zM806 360h1v1h-1zM1126 360h1v1h-1zM1146 360h2v1h-2zM1260 360h2v1h-2zM807 359h1v1h-1zM1125 359h1v1h-1zM1148 359h2v1h-2zM1259 359h1v1h-1zM807 358h1v1h-1zM1124 358h1v1h-1zM1150 358h2v1h-2zM1258 358h1v1h-1zM807 357h1v1h-1zM1123 357h1v1h-1zM1152 357h2v1h-2zM1257 357h1v1h-1zM808 356h1v1h-1zM1121 356h2v1h-2zM1154 356h2v1h-2zM1256 356h1v1h-1zM808 355h1v1h-1zM1120 355h1v1h-1zM1156 355h1v1h-1zM1255 355h1v1h-1zM808 354h1v1h-1zM1119 354h1v1h-1zM1157 354h1v1h-1zM1253 354h2v1h-2zM809 353h1v1h-1zM1118 353h1v1h-1zM1158 353h1v1h-1zM1252 353h1v1h-1zM809 352h1v1h-1zM1117 352h1v1h-1zM1159 352h1v1h-1zM1250 352h2v1h-2zM810 351h1v1h-1zM1116 351h1v1h-1zM1160 351h1v1h-1zM1248 351h2v1h-2zM810 350h1v1h-1zM1115 350h1v1h-1zM1161 350h1v1h-1zM1245 350h3v1h-3zM810 349h1v1h-1zM1114 349h1v1h-1zM1161 349h1v1h-1zM1237 349h8v1h-8zM811 348h1v1h-1zM1113 348h1v1h-1zM1162 348h1v1h-1zM1233 348h4v1h-4zM811 347h1v1h-1zM1113 347h1v1h-1zM1163 347h1v1h-1zM1231 347h2v1h-2zM811 346h1v1h-1zM1112 346h1v1h-1zM1164 346h1v1h-1zM1229 346h2v1h-2zM812 345h1v1h-1zM1111 345h1v1h-1zM1164 345h1v1h-1zM1228 345h1v1h-1zM812 344h1v1h-1zM1111 344h1v1h-1zM1165 344h1v1h-1zM1225 344h3v1h-3zM812 343h1v1h-1zM1110 343h1v1h-1zM1166 343h1v1h-1zM1223 343h2v1h-2zM813 342h1v1h-1zM1110 342h1v1h-1zM1166 342h1v1h-1zM1221 342h2v1h-2zM813 341h1v1h-1zM1110 341h1v1h-1zM1167 341h1v1h-1zM1220 341h1v1h-1zM814 340h1v1h-1zM1109 340h1v1h-1zM1168 340h2v1h-2zM1201 340h8v1h-8zM1217 340h3v1h-3zM814 339h1v1h-1zM1109 339h1v1h-1zM1170 339h2v1h-2zM1197 339h4v1h-4zM1209 339h8v1h-8zM814 338h1v1h-1zM1108 338h1v1h-1zM1172 338h2v1h-2zM1177 338h20v1h-20zM815 337h1v1h-1zM1108 337h1v1h-1zM1174 337h3v1h-3zM815 336h1v1h-1zM1108 336h1v1h-1zM815 335h1v1h-1zM1107 335h1v1h-1zM816 334h1v1h-1zM1107 334h1v1h-1zM816 333h1v1h-1zM1107 333h1v1h-1zM816 332h1v1h-1zM1106 332h1v1h-1zM816 331h1v1h-1zM1106 331h1v1h-1zM817 330h1v1h-1zM1106 330h1v1h-1zM817 329h1v1h-1zM1105 329h1v1h-1zM817 328h1v1h-1zM1105 328h1v1h-1zM817 327h1v1h-1zM1104 327h1v1h-1zM818 326h1v1h-1zM1104 326h1v1h-1zM818 325h1v1h-1zM1104 325h1v1h-1zM818 324h1v1h-1zM1103 324h1v1h-1zM818 323h1v1h-1zM1103 323h1v1h-1zM819 322h1v1h-1zM1103 322h1v1h-1zM819 321h1v1h-1zM1102 321h1v1h-1zM819 320h1v1h-1zM1102 320h1v1h-1zM819 319h1v1h-1zM1102 319h1v1h-1zM820 318h1v1h-1zM1101 318h1v1h-1zM820 317h1v1h-1zM1101 317h1v1h-1zM820 316h1v1h-1zM1101 316h1v1h-1zM820 315h1v1h-1zM1101 315h1v1h-1zM820 314h1v1h-1zM1100 314h1v1h-1zM820 313h1v1h-1zM1100 313h1v1h-1zM821 312h1v1h-1zM1100 312h1v1h-1zM821 311h1v1h-1zM1099 311h1v1h-1zM821 310h1v1h-1zM1099 310h1v1h-1zM821 309h1v1h-1zM1099 309h1v1h-1zM821 308h1v1h-1zM1098 308h1v1h-1zM822 307h1v1h-1zM1098 307h1v1h-1zM822 306h1v1h-1zM1097 306h1v1h-1zM822 305h1v1h-1zM1097 305h1v1h-1zM822 304h1v1h-1zM1097 304h1v1h-1zM822 303h1v1h-1zM1096 303h1v1h-1zM822 302h1v1h-1zM1096 302h1v1h-1zM823 301h1v1h-1zM1095 301h1v1h-1zM823 300h1v1h-1zM1095 300h1v1h-1zM823 299h1v1h-1zM1095 299h1v1h-1zM823 298h1v1h-1zM1094 298h1v1h-1zM823 297h1v1h-1zM1094 297h1v1h-1zM824 296h1v1h-1zM1093 296h1v1h-1zM824 295h1v1h-1zM1093 295h1v1h-1zM824 294h1v1h-1zM1092 294h1v1h-1zM824 293h1v1h-1zM1092 293h1v1h-1zM824 292h1v1h-1zM1091 292h1v1h-1zM824 291h1v1h-1zM1091 291h1v1h-1zM825 290h1v1h-1zM1091 290h1v1h-1zM825 289h1v1h-1zM1090 289h1v1h-1zM825 288h1v1h-1zM1090 288h1v1h-1zM825 287h1v1h-1zM1089 287h1v1h-1zM825 286h1v1h-1zM1089 286h1v1h-1zM826 285h1v1h-1zM1088 285h1v1h-1zM826 284h1v1h-1zM1088 284h1v1h-1zM826 283h1v1h-1zM1087 283h1v1h-1zM826 282h1v1h-1zM1087 282h1v1h-1zM826 281h1v1h-1zM1086 281h1v1h-1zM826 280h1v1h-1zM1086 280h1v1h-1zM827 279h1v1h-1zM1085 279h1v1h-1zM827 278h1v1h-1zM1085 278h1v1h-1zM827 277h1v1h-1zM1084 277h1v1h-1zM827 276h1v1h-1zM1084 276h1v1h-1zM827 275h1v1h-1zM1083 275h1v1h-1zM828 274h1v1h-1zM1083 274h1v1h-1zM828 273h1v1h-1zM1083 273h1v1h-1zM828 272h1v1h-1zM1082 272h1v1h-1zM828 271h1v1h-1zM1082 271h1v1h-1zM828 270h1v1h-1zM1082 270h1v1h-1zM829 269h1v1h-1zM1081 269h1v1h-1zM829 268h1v1h-1zM1081 268h1v1h-1zM829 267h1v1h-1zM1081 267h1v1h-1zM829 266h1v1h-1zM1080 266h1v1h-1zM830 265h1v1h-1zM1080 265h1v1h-1zM830 264h1v1h-1zM1080 264h1v1h-1zM830 263h1v1h-1zM1079 263h1v1h-1zM830 262h1v1h-1zM1079 262h1v1h-1zM830 261h1v1h-1zM1079 261h1v1h-1zM831 260h1v1h-1zM1078 260h1v1h-1zM831 259h1v1h-1zM1078 259h1v1h-1zM831 258h1v1h-1zM1077 258h1v1h-1zM831 257h1v1h-1zM1077 257h1v1h-1zM831 256h1v1h-1zM1076 256h1v1h-1zM832 255h1v1h-1zM1076 255h1v1h-1zM832 254h1v1h-1zM1075 254h1v1h-1zM832 253h1v1h-1zM1075 253h1v1h-1zM832 252h1v1h-1zM1074 252h1v1h-1zM832 251h1v1h-1zM1074 251h1v1h-1zM833 250h1v1h-1zM1073 250h1v1h-1zM833 249h1v1h-1zM1072 249h1v1h-1zM833 248h1v1h-1zM1072 248h1v1h-1zM833 247h1v1h-1zM1071 247h1v1h-1zM833 246h1v1h-1zM1070 246h1v1h-1zM834 245h1v1h-1zM1070 245h1v1h-1zM834 244h1v1h-1zM1069 244h1v1h-1zM834 243h1v1h-1zM1068 243h1v1h-1zM834 242h1v1h-1zM1068 242h1v1h-1zM834 241h1v1h-1zM1067 241h1v1h-1zM835 240h1v1h-1zM1066 240h1v1h-1zM835 239h1v1h-1zM1065 239h1v1h-1zM835 238h1v1h-1zM1064 238h1v1h-1zM835 237h1v1h-1zM1063 237h1v1h-1zM835 236h1v1h-1zM1062 236h1v1h-1zM836 235h1v1h-1zM1061 235h1v1h-1zM836 234h1v1h-1zM1061 234h1v1h-1zM836 233h1v1h-1zM1060 233h1v1h-1zM836 232h1v1h-1zM1058 232h2v1h-2zM836 231h1v1h-1zM1046 231h7v1h-7zM1056 231h2v1h-2zM836 230h1v1h-1zM1044 230h2v1h-2zM1053 230h3v1h-3zM837 229h1v1h-1zM1042 229h2v1h-2zM837 228h1v1h-1zM1040 228h2v1h-2zM837 227h1v1h-1zM1010 227h3v1h-3zM1039 227h1v1h-1zM837 226h1v1h-1zM1008 226h2v1h-2zM1013 226h3v1h-3zM1038 226h1v1h-1zM837 225h1v1h-1zM1006 225h2v1h-2zM1016 225h2v1h-2zM1037 225h1v1h-1zM838 224h1v1h-1zM1004 224h2v1h-2zM1018 224h2v1h-2zM1036 224h1v1h-1zM838 223h1v1h-1zM934 223h3v1h-3zM1002 223h2v1h-2zM1020 223h1v1h-1zM1035 223h1v1h-1zM838 222h1v1h-1zM932 222h2v1h-2zM937 222h8v1h-8zM1000 222h2v1h-2zM1021 222h2v1h-2zM1034 222h1v1h-1zM838 221h1v1h-1zM930 221h2v1h-2zM945 221h3v1h-3zM999 221h1v1h-1zM1023 221h1v1h-1zM1033 221h1v1h-1zM838 220h1v1h-1zM928 220h2v1h-2zM948 220h2v1h-2zM998 220h1v1h-1zM1024 220h1v1h-1zM1032 220h1v1h-1zM838 219h1v1h-1zM927 219h1v1h-1zM950 219h2v1h-2zM997 219h1v1h-1zM1025 219h1v1h-1zM1030 219h2v1h-2zM839 218h1v1h-1zM926 218h1v1h-1zM952 218h1v1h-1zM996 218h1v1h-1zM1026 218h1v1h-1zM1028 218h2v1h-2zM839 217h1v1h-1zM925 217h1v1h-1zM953 217h2v1h-2zM995 217h1v1h-1zM1027 217h1v1h-1zM839 216h1v1h-1zM917 216h4v1h-4zM924 216h1v1h-1zM955 216h2v1h-2zM977 216h3v1h-3zM994 216h1v1h-1zM839 215h1v1h-1zM913 215h4v1h-4zM921 215h3v1h-3zM957 215h4v1h-4zM965 215h4v1h-4zM973 215h4v1h-4zM980 215h2v1h-2zM993 215h1v1h-1zM839 214h1v1h-1zM911 214h2v1h-2zM961 214h4v1h-4zM969 214h4v1h-4zM982 214h6v1h-6zM993 214h1v1h-1zM840 213h1v1h-1zM909 213h2v1h-2zM988 213h2v1h-2zM992 213h1v1h-1zM840 212h1v1h-1zM908 212h1v1h-1zM990 212h2v1h-2zM840 211h1v1h-1zM905 211h3v1h-3zM840 210h1v1h-1zM903 210h2v1h-2zM840 209h1v1h-1zM902 209h1v1h-1zM841 208h1v1h-1zM902 208h1v1h-1zM841 207h1v1h-1zM901 207h1v1h-1zM841 206h1v1h-1zM901 206h1v1h-1zM841 205h1v1h-1zM900 205h1v1h-1zM841 204h1v1h-1zM900 204h1v1h-1zM841 203h1v1h-1zM899 203h1v1h-1zM842 202h1v1h-1zM899 202h1v1h-1zM842 201h1v1h-1zM898 201h1v1h-1zM842 200h1v1h-1zM898 200h1v1h-1zM842 199h1v1h-1zM897 199h1v1h-1zM842 198h1v1h-1zM897 198h1v1h-1zM843 197h1v1h-1zM897 197h1v1h-1zM843 196h1v1h-1zM896 196h1v1h-1zM843 195h1v1h-1zM896 195h1v1h-1zM843 194h1v1h-1zM895 194h1v1h-1zM844 193h1v1h-1zM895 193h1v1h-1zM844 192h1v1h-1zM895 192h1v1h-1zM844 191h1v1h-1zM894 191h1v1h-1zM844 190h1v1h-1zM894 190h1v1h-1zM845 189h1v1h-1zM893 189h1v1h-1zM845 188h1v1h-1zM893 188h1v1h-1zM845 187h1v1h-1zM893 187h1v1h-1zM845 186h1v1h-1zM892 186h1v1h-1zM846 185h1v1h-1zM892 185h1v1h-1zM846 184h1v1h-1zM891 184h1v1h-1zM846 183h1v1h-1zM891 183h1v1h-1zM846 182h1v1h-1zM891 182h1v1h-1zM847 181h1v1h-1zM890 181h1v1h-1zM847 180h1v1h-1zM890 180h1v1h-1zM847 179h1v1h-1zM889 179h1v1h-1zM848 178h1v1h-1zM889 178h1v1h-1zM849 177h1v1h-1zM888 177h1v1h-1zM849 176h1v1h-1zM888 176h1v1h-1zM850 175h1v1h-1zM887 175h1v1h-1zM851 174h1v1h-1zM887 174h1v1h-1zM852 173h1v1h-1zM886 173h1v1h-1zM852 172h1v1h-1zM885 172h1v1h-1zM853 171h1v1h-1zM885 171h1v1h-1zM854 170h1v1h-1zM884 170h1v1h-1zM854 169h1v1h-1zM883 169h1v1h-1zM855 168h2v1h-2zM882 168h1v1h-1zM857 167h3v1h-3zM882 167h1v1h-1zM860 166h1v1h-1zM881 166h1v1h-1zM861 165h1v1h-1zM880 165h1v1h-1zM862 164h1v1h-1zM880 164h1v1h-1zM863 163h1v1h-1zM879 163h1v1h-1zM864 162h1v1h-1zM878 162h1v1h-1zM865 161h1v1h-1zM878 161h1v1h-1zM866 160h1v1h-1zM877 160h1v1h-1zM867 159h1v1h-1zM877 159h1v1h-1zM868 158h1v1h-1zM876 158h1v1h-1zM869 157h1v1h-1zM876 157h1v1h-1zM869 156h1v1h-1zM874 156h2v1h-2zM870 155h1v1h-1zM872 155h2v1h-2zM871 154h1v1h-1z"/>
<path fill="#ffa500" d="M3 477h1v1h-1zM321 477h2v1h-2zM345 477h1v1h-1zM551 477h1v1h-1zM637 477h1v1h-1zM4 476h2v1h-2zM320 476h1v1h-1zM346 476h1v1h-1zM550 476h1v1h-1zM638 476h1v1h-1zM6 475h2v1h-2zM318 475h2v1h-2zM347 475h1v1h-1zM550 475h1v1h-1zM639 475h1v1h-1zM8 474h1v1h-1zM316 474h2v1h-2zM348 474h1v1h-1zM549 474h1v1h-1zM640 474h1v1h-1zM9 473h2v1h-2zM315 473h1v1h-1zM349 473h1v1h-1zM548 473h1v1h-1zM641 473h1v1h-1zM11 472h1v1h-1zM314 472h1v1h-1zM349 472h1v1h-1zM548 472h1v1h-1zM641 472h1v1h-1zM12 471h1v1h-1zM314 471h1v1h-1zM350 471h1v1h-1zM547 471h1v1h-1zM642 471h1v1h-1zM12 470h1v1h-1zM313 470h1v1h-1zM351 470h1v1h-1zM546 470h1v1h-1zM643 470h1v1h-1zM13 469h1v1h-1zM312 469h1v1h-1zM352 469h1v1h-1zM546 469h1v1h-1zM644 469h1v1h-1zM14 468h1v1h-1zM312 468h1v1h-1zM353 468h1v1h-1zM545 468h1v1h-1zM644 468h1v1h-1zM14 467h1v1h-1zM311 467h1v1h-1zM353 467h1v1h-1zM544 467h1v1h-1zM645 467h1v1h-1zM15 466h1v1h-1zM310 466h1v1h-1zM354 466h1v1h-1zM544 466h1v1h-1zM646 466h1v1h-1zM16 465h1v1h-1zM310 465h1v1h-1zM355 465h1v1h-1zM517 465h3v1h-3zM543 465h1v1h-1zM646 465h1v1h-1zM17 464h1v1h-1zM309 464h1v1h-1zM356 464h1v1h-1zM515 464h2v1h-2zM520 464h2v1h-2zM542 464h1v1h-1zM647 464h1v1h-1zM17 463h1v1h-1zM308 463h1v1h-1zM357 463h1v1h-1zM362 463h2v1h-2zM514 463h1v1h-1zM522 463h3v1h-3zM541 463h1v1h-1zM648 463h1v1h-1zM18 462h1v1h-1zM308 462h1v1h-1zM358 462h1v1h-1zM360 462h2v1h-2zM364 462h2v1h-2zM513 462h1v1h-1zM525 462h3v1h-3zM540 462h1v1h-1zM649 462h2v1h-2zM19 461h2v1h-2zM307 461h1v1h-1zM359 461h1v1h-1zM366 461h3v1h-3zM512 461h1v1h-1zM528 461h2v1h-2zM539 461h1v1h-1zM651 461h1v1h-1zM21 460h4v1h-4zM306 460h1v1h-1zM369 460h3v1h-3zM511 460h1v1h-1zM530 460h2v1h-2zM537 460h2v1h-2zM652 460h1v1h-1zM25 459h8v1h-8zM175 459h1v1h-1zM305 459h1v1h-1zM372 459h1v1h-1zM510 459h1v1h-1zM532 459h2v1h-2zM536 459h1v1h-1zM653 459h1v1h-1zM33 458h3v1h-3zM173 458h2v1h-2zM176 458h1v1h-1zM305 458h1v1h-1zM373 458h1v1h-1zM509 458h1v1h-1zM534 458h2v1h-2zM654 458h1v1h-1zM36 457h1v1h-1zM172 457h1v1h-1zM177 457h2v1h-2zM304 457h1v1h-1zM374 457h1v1h-1zM508 457h1v1h-1zM655 457h1v1h-1zM37 456h2v1h-2zM171 456h1v1h-1zM179 456h1v1h-1zM303 456h1v1h-1zM375 456h1v1h-1zM507 456h1v1h-1zM656 456h1v1h-1zM39 455h1v1h-1zM170 455h1v1h-1zM180 455h1v1h-1zM301 455h2v1h-2zM376 455h1v1h-1zM505 455h2v1h-2zM657 455h1v1h-1zM40 454h1v1h-1zM169 454h1v1h-1zM181 454h1v1h-1zM300 454h1v1h-1zM377 454h1v1h-1zM504 454h1v1h-1zM658 454h1v1h-1zM41 453h2v1h-2zM169 453h1v1h-1zM181 453h1v1h-1zM299 453h1v1h-1zM378 453h1v1h-1zM503 453h1v1h-1zM659 453h1v1h-1zM43 452h1v1h-1zM168 452h1v1h-1zM182 452h1v1h-1zM297 452h2v1h-2zM379 452h1v1h-1zM502 452h1v1h-1zM660 452h1v1h-1zM44 451h2v1h-2zM167 451h1v1h-1zM183 451h1v1h-1zM296 451h1v1h-1zM380 451h1v1h-1zM501 451h1v1h-1zM661 451h1v1h-1zM46 450h2v1h-2zM167 450h1v1h-1zM184 450h1v1h-1zM295 450h1v1h-1zM381 450h2v1h-2zM501 450h1v1h-1zM661 450h1v1h-1zM48 449h1v1h-1zM166 449h1v1h-1zM184 449h1v1h-1zM294 449h1v1h-1zM383 449h1v1h-1zM500 449h1v1h-1zM662 449h1v1h-1zM48 448h1v1h-1zM166 448h1v1h-1zM185 448h1v1h-1zM293 448h1v1h-1zM384 448h1v1h-1zM498 448h2v1h-2zM663 448h1v1h-1zM49 447h1v1h-1zM166 447h1v1h-1zM185 447h1v1h-1zM292 447h1v1h-1zM385 447h2v1h-2zM496 447h2v1h-2zM664 447h1v1h-1zM50 446h1v1h-1zM165 446h1v1h-1zM186 446h1v1h-1zM291 446h1v1h-1zM387 446h1v1h-1zM495 446h1v1h-1zM665 446h2v1h-2zM50 445h1v1h-1zM165 445h1v1h-1zM186 445h1v1h-1zM290 445h1v1h-1zM388 445h1v1h-1zM494 445h1v1h-1zM667 445h1v1h-1zM51 444h1v1h-1zM164 444h1v1h-1zM187 444h1v1h-1zM290 444h1v1h-1zM389 444h1v1h-1zM493 444h1v1h-1zM668 444h1v1h-1zM52 443h1v1h-1zM164 443h1v1h-1zM187 443h1v1h-1zM289 443h1v1h-1zM390 443h1v1h-1zM492 443h1v1h-1zM669 443h1v1h-1zM52 442h1v1h-1zM164 442h1v1h-1zM188 442h1v1h-1zM289 442h1v1h-1zM391 442h1v1h-1zM491 442h1v1h-1zM669 442h1v1h-1zM53 441h1v1h-1zM75 441h1v1h-1zM163 441h1v1h-1zM189 441h1v1h-1zM288 441h1v1h-1zM392 441h1v1h-1zM409 441h3v1h-3zM490 441h1v1h-1zM670 441h1v1h-1zM738 441h3v1h-3zM54 440h1v1h-1zM74 440h1v1h-1zM76 440h1v1h-1zM163 440h1v1h-1zM189 440h1v1h-1zM288 440h1v1h-1zM393 440h2v1h-2zM397 440h4v1h-4zM405 440h4v1h-4zM412 440h2v1h-2zM479 440h5v1h-5zM489 440h1v1h-1zM671 440h1v1h-1zM736 440h2v1h-2zM741 440h3v1h-3zM54 439h1v1h-1zM74 439h1v1h-1zM77 439h1v1h-1zM163 439h1v1h-1zM190 439h1v1h-1zM287 439h1v1h-1zM395 439h2v1h-2zM401 439h4v1h-4zM414 439h2v1h-2zM477 439h2v1h-2zM484 439h2v1h-2zM488 439h1v1h-1zM672 439h1v1h-1zM733 439h3v1h-3zM744 439h1v1h-1zM55 438h1v1h-1zM73 438h1v1h-1zM78 438h1v1h-1zM162 438h1v1h-1zM191 438h1v1h-1zM286 438h1v1h-1zM416 438h1v1h-1zM476 438h1v1h-1zM486 438h2v1h-2zM673 438h1v1h-1zM730 438h3v1h-3zM745 438h2v1h-2zM56 437h2v1h-2zM72 437h1v1h-1zM79 437h1v1h-1zM162 437h1v1h-1zM192 437h1v1h-1zM286 437h1v1h-1zM417 437h2v1h-2zM475 437h1v1h-1zM674 437h1v1h-1zM728 437h2v1h-2zM747 437h1v1h-1zM58 436h3v1h-3zM72 436h1v1h-1zM80 436h1v1h-1zM161 436h1v1h-1zM193 436h2v1h-2zM243 436h1v1h-1zM285 436h1v1h-1zM419 436h1v1h-1zM473 436h2v1h-2zM675 436h1v1h-1zM725 436h3v1h-3zM748 436h1v1h-1zM61 435h4v1h-4zM69 435h3v1h-3zM81 435h1v1h-1zM161 435h1v1h-1zM195 435h1v1h-1zM241 435h2v1h-2zM244 435h2v1h-2zM284 435h1v1h-1zM420 435h1v1h-1zM472 435h1v1h-1zM676 435h1v1h-1zM719 435h6v1h-6zM749 435h1v1h-1zM65 434h4v1h-4zM81 434h1v1h-1zM160 434h1v1h-1zM196 434h1v1h-1zM240 434h1v1h-1zM246 434h2v1h-2zM284 434h1v1h-1zM421 434h1v1h-1zM467 434h5v1h-5zM677 434h1v1h-1zM717 434h2v1h-2zM750 434h1v1h-1zM82 433h1v1h-1zM160 433h1v1h-1zM197 433h1v1h-1zM234 433h6v1h-6zM248 433h1v1h-1zM283 433h1v1h-1zM422 433h1v1h-1zM466 433h1v1h-1zM678 433h1v1h-1zM716 433h1v1h-1zM751 433h1v1h-1zM83 432h1v1h-1zM159 432h1v1h-1zM198 432h1v1h-1zM205 432h3v1h-3zM232 432h2v1h-2zM249 432h1v1h-1zM282 432h1v1h-1zM423 432h1v1h-1zM466 432h1v1h-1zM679 432h1v1h-1zM715 432h1v1h-1zM752 432h1v1h-1zM84 431h1v1h-1zM159 431h1v1h-1zM199 431h6v1h-6zM208 431h2v1h-2zM218 431h3v1h-3zM229 431h3v1h-3zM250 431h1v1h-1zM282 431h1v1h-1zM424 431h1v1h-1zM465 431h1v1h-1zM680 431h1v1h-1zM714 431h1v1h-1zM752 431h1v1h-1zM85 430h1v1h-1zM158 430h1v1h-1zM210 430h3v1h-3zM216 430h2v1h-2zM221 430h8v1h-8zM251 430h1v1h-1zM281 430h1v1h-1zM425 430h1v1h-1zM464 430h1v1h-1zM681 430h2v1h-2zM713 430h1v1h-1zM753 430h1v1h-1zM86 429h1v1h-1zM158 429h1v1h-1zM213 429h3v1h-3zM252 429h1v1h-1zM281 429h1v1h-1zM426 429h1v1h-1zM464 429h1v1h-1zM683 429h1v1h-1zM712 429h1v1h-1zM753 429h1v1h-1zM87 428h2v1h-2zM157 428h1v1h-1zM253 428h1v1h-1zM280 428h1v1h-1zM427 428h1v1h-1zM463 428h1v1h-1zM684 428h1v1h-1zM710 428h2v1h-2zM754 428h1v1h-1zM89 427h3v1h-3zM157 427h1v1h-1zM253 427h1v1h-1zM280 427h1v1h-1zM428 427h1v1h-1zM461 427h2v1h-2zM685 427h1v1h-1zM708 427h2v1h-2zM754 427h1v1h-1zM92 426h1v1h-1zM156 426h1v1h-1zM254 426h1v1h-1zM279 426h1v1h-1zM429 426h1v1h-1zM450 426h7v1h-7zM460 426h1v1h-1zM686 426h1v1h-1zM707 426h1v1h-1zM755 426h1v1h-1zM93 425h1v1h-1zM129 425h7v1h-7zM156 425h1v1h-1zM255 425h1v1h-1zM278 425h1v1h-1zM429 425h1v1h-1zM448 425h2v1h-2zM457 425h3v1h-3zM687 425h1v1h-1zM705 425h2v1h-2zM755 425h1v1h-1zM93 424h1v1h-1zM102 424h6v1h-6zM119 424h10v1h-10zM136 424h2v1h-2zM155 424h1v1h-1zM256 424h1v1h-1zM278 424h1v1h-1zM430 424h1v1h-1zM433 424h4v1h-4zM445 424h3v1h-3zM688 424h2v1h-2zM704 424h1v1h-1zM756 424h1v1h-1zM94 423h1v1h-1zM100 423h2v1h-2zM108 423h1v1h-1zM117 423h2v1h-2zM138 423h2v1h-2zM153 423h2v1h-2zM257 423h1v1h-1zM277 423h1v1h-1zM431 423h2v1h-2zM437 423h8v1h-8zM690 423h2v1h-2zM702 423h2v1h-2zM756 423h1v1h-1zM95 422h5v1h-5zM109 422h2v1h-2zM116 422h1v1h-1zM140 422h2v1h-2zM152 422h1v1h-1zM258 422h1v1h-1zM277 422h1v1h-1zM692 422h2v1h-2zM700 422h2v1h-2zM756 422h1v1h-1zM111 421h5v1h-5zM142 421h2v1h-2zM150 421h2v1h-2zM259 421h1v1h-1zM276 421h1v1h-1zM694 421h6v1h-6zM757 421h1v1h-1zM144 420h2v1h-2zM148 420h2v1h-2zM260 420h1v1h-1zM276 420h1v1h-1zM757 420h1v1h-1zM146 419h2v1h-2zM261 419h1v1h-1zM275 419h1v1h-1zM757 419h1v1h-1zM261 418h1v1h-1zM274 418h1v1h-1zM758 418h1v1h-1zM262 417h1v1h-1zM273 417h1v1h-1zM758 417h1v1h-1zM263 416h2v1h-2zM272 416h1v1h-1zM758 416h1v1h-1zM265 415h7v1h-7zM759 415h1v1h-1zM323 478h1v1h-1zM344 478h1v1h-1zM551 478h1v1h-1zM636 478h1v1h-1zM324 479h1v1h-1zM343 479h1v1h-1zM552 479h1v1h-1zM635 479h1v1h-1zM325 480h2v1h-2zM342 480h1v1h-1zM552 480h1v1h-1zM634 480h1v1h-1zM327 481h1v1h-1zM342 481h1v1h-1zM553 481h1v1h-1zM633 481h1v1h-1zM328 482h2v1h-2zM341 482h1v1h-1zM553 482h1v1h-1zM633 482h1v1h-1zM330 483h3v1h-3zM340 483h1v1h-1zM553 483h1v1h-1zM632 483h1v1h-1zM333 484h4v1h-4zM340 484h1v1h-1zM554 484h1v1h-1zM631 484h1v1h-1zM337 485h3v1h-3zM554 485h1v1h-1zM630 485h1v1h-1zM555 486h1v1h-1zM601 486h3v1h-3zM629 486h1v1h-1zM555 487h1v1h-1zM598 487h3v1h-3zM604 487h1v1h-1zM628 487h1v1h-1zM556 488h1v1h-1zM596 488h2v1h-2zM605 488h2v1h-2zM617 488h4v1h-4zM625 488h3v1h-3zM556 489h1v1h-1zM595 489h1v1h-1zM607 489h10v1h-10zM621 489h4v1h-4zM557 490h1v1h-1zM594 490h1v1h-1zM557 491h1v1h-1zM593 491h1v1h-1zM558 492h1v1h-1zM593 492h1v1h-1zM558 493h1v1h-1zM592 493h1v1h-1zM559 494h1v1h-1zM591 494h1v1h-1zM559 495h1v1h-1zM589 495h2v1h-2zM560 496h1v1h-1zM588 496h1v1h-1zM560 497h1v1h-1zM587 497h1v1h-1zM561 498h1v1h-1zM586 498h1v1h-1zM562 499h1v1h-1zM586 499h1v1h-1zM562 500h1v1h-1zM585 500h1v1h-1zM563 501h1v1h-1zM584 501h1v1h-1zM564 502h1v1h-1zM584 502h1v1h-1zM565 503h1v1h-1zM583 503h1v1h-1zM566 504h1v1h-1zM582 504h1v1h-1zM567 505h1v1h-1zM581 505h1v1h-1zM568 506h1v1h-1zM580 506h1v1h-1zM569 507h1v1h-1zM578 507h2v1h-2zM570 508h1v1h-1zM576 508h2v1h-2zM571 509h5v1h-5zM759 414h1v1h-1zM760 413h1v1h-1zM760 412h1v1h-1zM761 411h1v1h-1zM761 410h1v1h-1zM762 409h1v1h-1zM762 408h1v1h-1zM763 407h1v1h-1zM764 406h1v1h-1zM765 405h1v1h-1zM765 404h1v1h-1zM766 403h1v1h-1zM767 402h1v1h-1zM768 401h2v1h-2zM770 400h2v1h-2zM772 399h2v1h-2zM777 399h3v1h-3zM774 398h3v1h-3zM780 398h2v1h-2zM782 397h3v1h-3zM785 396h3v1h-3zM787 395h1v1h-1zM788 394h1v1h-1zM788 393h1v1h-1zM789 392h1v1h-1zM1111 392h1v1h-1zM789 391h1v1h-1zM1110 391h1v1h-1zM1112 391h1v1h-1zM1267 391h1v1h-1zM789 390h1v1h-1zM1110 390h1v1h-1zM1112 390h1v1h-1zM1266 390h1v1h-1zM790 389h1v1h-1zM1109 389h1v1h-1zM1113 389h1v1h-1zM1266 389h1v1h-1zM790 388h1v1h-1zM1109 388h1v1h-1zM1113 388h1v1h-1zM1265 388h1v1h-1zM791 387h1v1h-1zM1108 387h1v1h-1zM1114 387h1v1h-1zM1264 387h1v1h-1zM791 386h1v1h-1zM1108 386h1v1h-1zM1114 386h1v1h-1zM1264 386h1v1h-1zM791 385h1v1h-1zM1107 385h1v1h-1zM1115 385h1v1h-1zM1263 385h1v1h-1zM791 384h1v1h-1zM1105 384h2v1h-2zM1115 384h1v1h-1zM1263 384h1v1h-1zM792 383h1v1h-1zM1104 383h1v1h-1zM1116 383h1v1h-1zM1262 383h1v1h-1zM792 382h1v1h-1zM1103 382h1v1h-1zM1116 382h1v1h-1zM1262 382h1v1h-1zM792 381h1v1h-1zM1103 381h1v1h-1zM1117 381h1v1h-1zM1261 381h1v1h-1zM792 380h1v1h-1zM1102 380h1v1h-1zM1117 380h1v1h-1zM1261 380h1v1h-1zM792 379h1v1h-1zM1102 379h1v1h-1zM1118 379h1v1h-1zM1260 379h1v1h-1zM793 378h1v1h-1zM1101 378h1v1h-1zM1118 378h1v1h-1zM1260 378h1v1h-1zM793 377h1v1h-1zM1101 377h1v1h-1zM1119 377h1v1h-1zM1259 377h1v1h-1zM793 376h1v1h-1zM1100 376h1v1h-1zM1119 376h1v1h-1zM1259 376h1v1h-1zM793 375h1v1h-1zM1100 375h1v1h-1zM1119 375h1v1h-1zM1258 375h1v1h-1zM793 374h1v1h-1zM1099 374h1v1h-1zM1120 374h1v1h-1zM1258 374h1v1h-1zM793 373h1v1h-1zM1099 373h1v1h-1zM1120 373h1v1h-1zM1258 373h1v1h-1zM794 372h1v1h-1zM1098 372h1v1h-1zM1120 372h1v1h-1zM1257 372h1v1h-1zM794 371h1v1h-1zM1098 371h1v1h-1zM1121 371h1v1h-1zM1257 371h1v1h-1zM794 370h1v1h-1zM1097 370h1v1h-1zM1121 370h1v1h-1zM1257 370h1v1h-1zM794 369h1v1h-1zM1097 369h1v1h-1zM1121 369h1v1h-1zM1256 369h1v1h-1zM794 368h1v1h-1zM1096 368h1v1h-1zM1121 368h1v1h-1zM1256 368h1v1h-1zM795 367h1v1h-1zM1096 367h1v1h-1zM1122 367h1v1h-1zM1256 367h1v1h-1zM795 366h1v1h-1zM1095 366h1v1h-1zM1122 366h1v1h-1zM1255 366h1v1h-1zM795 365h1v1h-1zM1095 365h1v1h-1zM1122 365h1v1h-1zM1255 365h1v1h-1zM795 364h1v1h-1zM1095 364h1v1h-1zM1123 364h1v1h-1zM1254 364h1v1h-1zM795 363h1v1h-1zM1095 363h1v1h-1zM1123 363h1v1h-1zM1254 363h1v1h-1zM796 362h1v1h-1zM1094 362h1v1h-1zM1123 362h1v1h-1zM1253 362h1v1h-1zM796 361h1v1h-1zM1094 361h1v1h-1zM1124 361h1v1h-1zM1253 361h1v1h-1zM796 360h1v1h-1zM1094 360h1v1h-1zM1124 360h1v1h-1zM1252 360h1v1h-1zM796 359h1v1h-1zM1094 359h1v1h-1zM1125 359h1v1h-1zM1252 359h1v1h-1zM796 358h1v1h-1zM1094 358h1v1h-1zM1125 358h1v1h-1zM1251 358h1v1h-1zM797 357h1v1h-1zM1093 357h1v1h-1zM1125 357h1v1h-1zM1250 357h1v1h-1zM797 356h1v1h-1zM1093 356h1v1h-1zM1126 356h1v1h-1zM1249 356h1v1h-1zM797 355h1v1h-1zM1093 355h1v1h-1zM1126 355h1v1h-1zM1248 355h1v1h-1zM797 354h1v1h-1zM1093 354h1v1h-1zM1127 354h1v1h-1zM1247 354h1v1h-1zM798 353h1v1h-1zM1093 353h1v1h-1zM1127 353h1v1h-1zM1246 353h1v1h-1zM798 352h1v1h-1zM1092 352h1v1h-1zM1127 352h1v1h-1zM1245 352h1v1h-1zM798 351h1v1h-1zM1092 351h1v1h-1zM1128 351h1v1h-1zM1207 351h2v1h-2zM1237 351h4v1h-4zM1244 351h1v1h-1zM798 350h1v1h-1zM1092 350h1v1h-1zM1128 350h1v1h-1zM1205 350h2v1h-2zM1209 350h4v1h-4zM1235 350h2v1h-2zM1241 350h3v1h-3zM798 349h1v1h-1zM1092 349h1v1h-1zM1129 349h1v1h-1zM1204 349h1v1h-1zM1213 349h3v1h-3zM1233 349h2v1h-2zM799 348h1v1h-1zM1092 348h1v1h-1zM1129 348h1v1h-1zM1155 348h2v1h-2zM1199 348h5v1h-5zM1216 348h1v1h-1zM1232 348h1v1h-1zM799 347h1v1h-1zM1091 347h1v1h-1zM1129 347h1v1h-1zM1154 347h1v1h-1zM1157 347h3v1h-3zM1197 347h2v1h-2zM1217 347h2v1h-2zM1221 347h3v1h-3zM1231 347h1v1h-1zM799 346h1v1h-1zM1091 346h1v1h-1zM1130 346h1v1h-1zM1153 346h1v1h-1zM1160 346h1v1h-1zM1196 346h1v1h-1zM1219 346h2v1h-2zM1224 346h1v1h-1zM1229 346h2v1h-2zM799 345h1v1h-1zM1091 345h1v1h-1zM1130 345h1v1h-1zM1152 345h1v1h-1zM1161 345h2v1h-2zM1195 345h1v1h-1zM1225 345h2v1h-2zM1228 345h1v1h-1zM799 344h1v1h-1zM1091 344h1v1h-1zM1131 344h1v1h-1zM1149 344h3v1h-3zM1163 344h1v1h-1zM1194 344h1v1h-1zM1227 344h1v1h-1zM800 343h1v1h-1zM1091 343h1v1h-1zM1131 343h6v1h-6zM1141 343h8v1h-8zM1164 343h1v1h-1zM1194 343h1v1h-1zM800 342h1v1h-1zM1090 342h1v1h-1zM1137 342h4v1h-4zM1165 342h1v1h-1zM1193 342h1v1h-1zM800 341h1v1h-1zM1090 341h1v1h-1zM1165 341h1v1h-1zM1193 341h1v1h-1zM800 340h1v1h-1zM1090 340h1v1h-1zM1166 340h1v1h-1zM1192 340h1v1h-1zM800 339h1v1h-1zM1090 339h1v1h-1zM1167 339h1v1h-1zM1192 339h1v1h-1zM800 338h1v1h-1zM1089 338h1v1h-1zM1168 338h1v1h-1zM1191 338h1v1h-1zM801 337h1v1h-1zM1089 337h1v1h-1zM1168 337h1v1h-1zM1190 337h1v1h-1zM801 336h1v1h-1zM1089 336h1v1h-1zM1169 336h1v1h-1zM1189 336h1v1h-1zM801 335h1v1h-1zM1089 335h1v1h-1zM1170 335h1v1h-1zM1189 335h1v1h-1zM801 334h1v1h-1zM1088 334h1v1h-1zM1170 334h1v1h-1zM1188 334h1v1h-1zM801 333h1v1h-1zM1088 333h1v1h-1zM1171 333h1v1h-1zM1187 333h1v1h-1zM801 332h1v1h-1zM1088 332h1v1h-1zM1171 332h1v1h-1zM1186 332h1v1h-1zM802 331h1v1h-1zM1088 331h1v1h-1zM1172 331h1v1h-1zM1186 331h1v1h-1zM802 330h1v1h-1zM1087 330h1v1h-1zM1172 330h1v1h-1zM1185 330h1v1h-1zM802 329h1v1h-1zM1087 329h1v1h-1zM1173 329h1v1h-1zM1184 329h1v1h-1zM802 328h1v1h-1zM1087 328h1v1h-1zM1173 328h1v1h-1zM1184 328h1v1h-1zM802 327h1v1h-1zM1086 327h1v1h-1zM1173 327h1v1h-1zM1183 327h1v1h-1zM802 326h1v1h-1zM1086 326h1v1h-1zM1174 326h1v1h-1zM1182 326h1v1h-1zM803 325h1v1h-1zM1086 325h1v1h-1zM1174 325h1v1h-1zM1181 325h1v1h-1zM803 324h1v1h-1zM1086 324h1v1h-1zM1175 324h1v1h-1zM1180 324h1v1h-1zM803 323h1v1h-1zM1085 323h1v1h-1zM1175 323h5v1h-5zM803 322h1v1h-1zM1085 322h1v1h-1zM803 321h1v1h-1zM1085 321h1v1h-1zM803 320h1v1h-1zM1085 320h1v1h-1zM803 319h1v1h-1zM1084 319h1v1h-1zM804 318h1v1h-1zM1084 318h1v1h-1zM804 317h1v1h-1zM1084 317h1v1h-1zM804 316h1v1h-1zM1084 316h1v1h-1zM804 315h1v1h-1zM1083 315h1v1h-1zM804 314h1v1h-1zM1083 314h1v1h-1zM804 313h1v1h-1zM1083 313h1v1h-1zM804 312h1v1h-1zM1082 312h1v1h-1zM804 311h1v1h-1zM1082 311h1v1h-1zM805 310h1v1h-1zM1082 310h1v1h-1zM805 309h1v1h-1zM1082 309h1v1h-1zM805 308h1v1h-1zM1081 308h1v1h-1zM805 307h1v1h-1zM1081 307h1v1h-1zM805 306h1v1h-1zM1081 306h1v1h-1zM805 305h1v1h-1zM1081 305h1v1h-1zM805 304h1v1h-1zM1080 304h1v1h-1zM805 303h1v1h-1zM1080 303h1v1h-1zM806 302h1v1h-1zM1080 302h1v1h-1zM806 301h1v1h-1zM1080 301h1v1h-1zM806 300h1v1h-1zM1079 300h1v1h-1zM806 299h1v1h-1zM1079 299h1v1h-1zM806 298h1v1h-1zM1079 298h1v1h-1zM806 297h1v1h-1zM1078 297h1v1h-1zM806 296h1v1h-1zM1078 296h1v1h-1zM806 295h1v1h-1zM1078 295h1v1h-1zM807 294h1v1h-1zM1077 294h1v1h-1zM807 293h1v1h-1zM1077 293h1v1h-1zM807 292h1v1h-1zM1076 292h1v1h-1zM807 291h1v1h-1zM1076 291h1v1h-1zM807 290h1v1h-1zM1076 290h1v1h-1zM807 289h1v1h-1zM1075 289h1v1h-1zM807 288h1v1h-1zM1075 288h1v1h-1zM808 287h1v1h-1zM1075 287h1v1h-1zM808 286h1v1h-1zM1074 286h1v1h-1zM808 285h1v1h-1zM1074 285h1v1h-1zM808 284h1v1h-1zM1074 284h1v1h-1zM808 283h1v1h-1zM1073 283h1v1h-1zM808 282h1v1h-1zM1073 282h1v1h-1zM809 281h1v1h-1zM1072 281h1v1h-1zM809 280h1v1h-1zM1072 280h1v1h-1zM809 279h1v1h-1zM1072 279h1v1h-1zM809 278h1v1h-1zM1071 278h1v1h-1zM809 277h1v1h-1zM1071 277h1v1h-1zM810 276h1v1h-1zM1071 276h1v1h-1zM810 275h1v1h-1zM1070 275h1v1h-1zM810 274h1v1h-1zM1070 274h1v1h-1zM810 273h1v1h-1zM1069 273h1v1h-1zM810 272h1v1h-1zM1069 272h1v1h-1zM810 271h1v1h-1zM1069 271h1v1h-1zM811 270h1v1h-1zM1068 270h1v1h-1zM811 269h1v1h-1zM1068 269h1v1h-1zM811 268h1v1h-1zM1067 268h1v1h-1zM811 267h1v1h-1zM1067 267h1v1h-1zM812 266h1v1h-1zM1067 266h1v1h-1zM812 265h1v1h-1zM1066 265h1v1h-1zM812 264h1v1h-1zM1066 264h1v1h-1zM813 263h1v1h-1zM1066 263h1v1h-1zM813 262h1v1h-1zM1066 262h1v1h-1zM814 261h1v1h-1zM1065 261h1v1h-1zM814 260h1v1h-1zM1065 260h1v1h-1zM814 259h1v1h-1zM1065 259h1v1h-1zM815 258h1v1h-1zM1064 258h1v1h-1zM815 257h1v1h-1zM1064 257h1v1h-1zM815 256h1v1h-1zM1064 256h1v1h-1zM815 255h1v1h-1zM1064 255h1v1h-1zM816 254h1v1h-1zM1063 254h1v1h-1zM816 253h1v1h-1zM1063 253h1v1h-1zM816 252h1v1h-1zM1063 252h1v1h-1zM816 251h1v1h-1zM1062 251h1v1h-1zM816 250h1v1h-1zM1062 250h1v1h-1zM816 249h1v1h-1zM1061 249h1v1h-1zM817 248h1v1h-1zM1061 248h1v1h-1zM817 247h1v1h-1zM1060 247h1v1h-1zM817 246h1v1h-1zM1060 246h1v1h-1zM817 245h1v1h-1zM1047 245h2v1h-2zM1059 245h1v1h-1zM817 244h1v1h-1zM915 244h1v1h-1zM1046 244h1v1h-1zM1049 244h3v1h-3zM1059 244h1v1h-1zM817 243h1v1h-1zM914 243h1v1h-1zM916 243h1v1h-1zM1045 243h1v1h-1zM1052 243h1v1h-1zM1058 243h1v1h-1zM818 242h1v1h-1zM914 242h1v1h-1zM916 242h1v1h-1zM1044 242h1v1h-1zM1053 242h1v1h-1zM1057 242h1v1h-1zM818 241h1v1h-1zM913 241h1v1h-1zM917 241h1v1h-1zM1043 241h1v1h-1zM1053 241h1v1h-1zM1057 241h1v1h-1zM818 240h1v1h-1zM912 240h1v1h-1zM917 240h1v1h-1zM1043 240h1v1h-1zM1054 240h1v1h-1zM1056 240h1v1h-1zM818 239h1v1h-1zM912 239h1v1h-1zM918 239h1v1h-1zM1011 239h1v1h-1zM1042 239h1v1h-1zM1055 239h1v1h-1zM818 238h1v1h-1zM909 238h3v1h-3zM918 238h1v1h-1zM1011 238h2v1h-2zM1042 238h1v1h-1zM818 237h1v1h-1zM907 237h2v1h-2zM919 237h1v1h-1zM1010 237h1v1h-1zM1012 237h1v1h-1zM1041 237h1v1h-1zM819 236h1v1h-1zM907 236h1v1h-1zM919 236h1v1h-1zM1010 236h1v1h-1zM1013 236h1v1h-1zM1041 236h1v1h-1zM819 235h1v1h-1zM906 235h1v1h-1zM920 235h1v1h-1zM1009 235h1v1h-1zM1013 235h1v1h-1zM1040 235h1v1h-1zM819 234h1v1h-1zM906 234h1v1h-1zM920 234h1v1h-1zM1009 234h1v1h-1zM1014 234h1v1h-1zM1040 234h1v1h-1zM819 233h1v1h-1zM905 233h1v1h-1zM921 233h1v1h-1zM1008 233h1v1h-1zM1014 233h1v1h-1zM1039 233h1v1h-1zM819 232h1v1h-1zM905 232h1v1h-1zM921 232h1v1h-1zM973 232h3v1h-3zM1008 232h1v1h-1zM1015 232h1v1h-1zM1039 232h1v1h-1zM819 231h1v1h-1zM905 231h1v1h-1zM921 231h1v1h-1zM971 231h2v1h-2zM976 231h1v1h-1zM1005 231h3v1h-3zM1015 231h1v1h-1zM1038 231h1v1h-1zM819 230h1v1h-1zM904 230h1v1h-1zM922 230h1v1h-1zM971 230h1v1h-1zM977 230h2v1h-2zM1003 230h2v1h-2zM1016 230h1v1h-1zM1038 230h1v1h-1zM819 229h1v1h-1zM904 229h1v1h-1zM922 229h1v1h-1zM970 229h1v1h-1zM979 229h1v1h-1zM1003 229h1v1h-1zM1016 229h1v1h-1zM1037 229h1v1h-1zM820 228h1v1h-1zM903 228h1v1h-1zM923 228h1v1h-1zM970 228h1v1h-1zM980 228h1v1h-1zM1002 228h1v1h-1zM1017 228h1v1h-1zM1037 228h1v1h-1zM820 227h1v1h-1zM903 227h1v1h-1zM923 227h1v1h-1zM970 227h1v1h-1zM980 227h1v1h-1zM1002 227h1v1h-1zM1017 227h1v1h-1zM1037 227h1v1h-1zM820 226h1v1h-1zM903 226h1v1h-1zM924 226h1v1h-1zM969 226h1v1h-1zM981 226h1v1h-1zM1001 226h1v1h-1zM1018 226h1v1h-1zM1036 226h1v1h-1zM820 225h1v1h-1zM902 225h1v1h-1zM925 225h1v1h-1zM969 225h1v1h-1zM982 225h1v1h-1zM1001 225h1v1h-1zM1018 225h1v1h-1zM1036 225h1v1h-1zM820 224h1v1h-1zM902 224h1v1h-1zM926 224h1v1h-1zM968 224h1v1h-1zM982 224h1v1h-1zM1000 224h1v1h-1zM1019 224h1v1h-1zM1035 224h1v1h-1zM820 223h1v1h-1zM902 223h1v1h-1zM927 223h1v1h-1zM968 223h1v1h-1zM983 223h1v1h-1zM1000 223h1v1h-1zM1019 223h1v1h-1zM1035 223h1v1h-1zM820 222h1v1h-1zM901 222h1v1h-1zM928 222h1v1h-1zM968 222h1v1h-1zM984 222h1v1h-1zM999 222h1v1h-1zM1019 222h1v1h-1zM1035 222h1v1h-1zM820 221h1v1h-1zM901 221h1v1h-1zM929 221h2v1h-2zM967 221h1v1h-1zM985 221h1v1h-1zM999 221h1v1h-1zM1020 221h1v1h-1zM1034 221h1v1h-1zM820 220h1v1h-1zM900 220h1v1h-1zM931 220h1v1h-1zM967 220h1v1h-1zM985 220h1v1h-1zM999 220h1v1h-1zM1020 220h1v1h-1zM1034 220h1v1h-1zM821 219h1v1h-1zM900 219h1v1h-1zM931 219h1v1h-1zM966 219h1v1h-1zM986 219h1v1h-1zM998 219h1v1h-1zM1021 219h1v1h-1zM1034 219h1v1h-1zM821 218h1v1h-1zM900 218h1v1h-1zM932 218h1v1h-1zM965 218h1v1h-1zM987 218h1v1h-1zM998 218h1v1h-1zM1021 218h1v1h-1zM1033 218h1v1h-1zM821 217h1v1h-1zM899 217h1v1h-1zM932 217h1v1h-1zM965 217h1v1h-1zM987 217h1v1h-1zM997 217h1v1h-1zM1022 217h1v1h-1zM1033 217h1v1h-1zM821 216h1v1h-1zM899 216h1v1h-1zM933 216h1v1h-1zM964 216h1v1h-1zM988 216h1v1h-1zM997 216h1v1h-1zM1022 216h1v1h-1zM1032 216h1v1h-1zM821 215h1v1h-1zM899 215h1v1h-1zM933 215h1v1h-1zM963 215h1v1h-1zM988 215h1v1h-1zM996 215h1v1h-1zM1023 215h1v1h-1zM1032 215h1v1h-1zM821 214h1v1h-1zM898 214h1v1h-1zM933 214h1v1h-1zM962 214h1v1h-1zM988 214h1v1h-1zM996 214h1v1h-1zM1023 214h1v1h-1zM1032 214h1v1h-1zM821 213h1v1h-1zM898 213h1v1h-1zM934 213h1v1h-1zM962 213h1v1h-1zM989 213h1v1h-1zM995 213h1v1h-1zM1024 213h1v1h-1zM1031 213h1v1h-1zM821 212h1v1h-1zM897 212h1v1h-1zM934 212h1v1h-1zM961 212h1v1h-1zM989 212h1v1h-1zM995 212h1v1h-1zM1025 212h1v1h-1zM1031 212h1v1h-1zM821 211h1v1h-1zM867 211h1v1h-1zM897 211h1v1h-1zM935 211h1v1h-1zM961 211h1v1h-1zM989 211h1v1h-1zM994 211h1v1h-1zM1025 211h1v1h-1zM1029 211h2v1h-2zM822 210h1v1h-1zM867 210h1v1h-1zM896 210h1v1h-1zM935 210h1v1h-1zM960 210h1v1h-1zM989 210h1v1h-1zM994 210h1v1h-1zM1026 210h1v1h-1zM1028 210h1v1h-1zM822 209h1v1h-1zM866 209h1v1h-1zM868 209h1v1h-1zM896 209h1v1h-1zM936 209h1v1h-1zM960 209h1v1h-1zM990 209h1v1h-1zM993 209h1v1h-1zM1027 209h1v1h-1zM822 208h1v1h-1zM866 208h1v1h-1zM868 208h1v1h-1zM895 208h1v1h-1zM937 208h1v1h-1zM959 208h1v1h-1zM990 208h1v1h-1zM993 208h1v1h-1zM822 207h1v1h-1zM866 207h1v1h-1zM869 207h1v1h-1zM894 207h1v1h-1zM938 207h1v1h-1zM959 207h1v1h-1zM990 207h1v1h-1zM992 207h1v1h-1zM822 206h1v1h-1zM865 206h1v1h-1zM869 206h1v1h-1zM894 206h1v1h-1zM939 206h9v1h-9zM958 206h1v1h-1zM991 206h2v1h-2zM822 205h1v1h-1zM865 205h1v1h-1zM870 205h1v1h-1zM893 205h1v1h-1zM948 205h1v1h-1zM958 205h1v1h-1zM991 205h1v1h-1zM822 204h1v1h-1zM864 204h1v1h-1zM870 204h1v1h-1zM892 204h1v1h-1zM949 204h1v1h-1zM957 204h1v1h-1zM822 203h1v1h-1zM864 203h1v1h-1zM871 203h1v1h-1zM892 203h1v1h-1zM949 203h1v1h-1zM957 203h1v1h-1zM822 202h1v1h-1zM864 202h1v1h-1zM871 202h1v1h-1zM891 202h1v1h-1zM950 202h1v1h-1zM956 202h1v1h-1zM823 201h1v1h-1zM863 201h1v1h-1zM872 201h1v1h-1zM891 201h1v1h-1zM951 201h1v1h-1zM956 201h1v1h-1zM823 200h1v1h-1zM863 200h1v1h-1zM873 200h2v1h-2zM890 200h1v1h-1zM952 200h2v1h-2zM955 200h1v1h-1zM823 199h1v1h-1zM863 199h1v1h-1zM875 199h1v1h-1zM890 199h1v1h-1zM954 199h2v1h-2zM823 198h1v1h-1zM863 198h1v1h-1zM875 198h1v1h-1zM890 198h1v1h-1zM823 197h1v1h-1zM862 197h1v1h-1zM876 197h1v1h-1zM890 197h1v1h-1zM823 196h1v1h-1zM862 196h1v1h-1zM876 196h1v1h-1zM889 196h1v1h-1zM823 195h1v1h-1zM862 195h1v1h-1zM876 195h1v1h-1zM889 195h1v1h-1zM823 194h1v1h-1zM862 194h1v1h-1zM877 194h1v1h-1zM889 194h1v1h-1zM824 193h1v1h-1zM861 193h1v1h-1zM877 193h1v1h-1zM888 193h1v1h-1zM824 192h1v1h-1zM861 192h1v1h-1zM878 192h1v1h-1zM888 192h1v1h-1zM824 191h1v1h-1zM861 191h1v1h-1zM878 191h1v1h-1zM888 191h1v1h-1zM824 190h1v1h-1zM861 190h1v1h-1zM878 190h1v1h-1zM888 190h1v1h-1zM824 189h1v1h-1zM860 189h1v1h-1zM879 189h1v1h-1zM881 189h4v1h-4zM887 189h1v1h-1zM824 188h1v1h-1zM860 188h1v1h-1zM879 188h2v1h-2zM885 188h3v1h-3zM825 187h1v1h-1zM860 187h1v1h-1zM825 186h1v1h-1zM860 186h1v1h-1zM825 185h1v1h-1zM859 185h1v1h-1zM825 184h1v1h-1zM859 184h1v1h-1zM825 183h1v1h-1zM859 183h1v1h-1zM825 182h1v1h-1zM859 182h1v1h-1zM825 181h1v1h-1zM859 181h1v1h-1zM826 180h1v1h-1zM859 180h1v1h-1zM826 179h1v1h-1zM859 179h1v1h-1zM826 178h1v1h-1zM858 178h1v1h-1zM826 177h1v1h-1zM858 177h1v1h-1zM826 176h1v1h-1zM858 176h1v1h-1zM826 175h1v1h-1zM858 175h1v1h-1zM827 174h1v1h-1zM858 174h1v1h-1zM827 173h1v1h-1zM858 173h1v1h-1zM827 172h1v1h-1zM858 172h1v1h-1zM827 171h1v1h-1zM858 171h1v1h-1zM827 170h1v1h-1zM857 170h1v1h-1zM827 169h1v1h-1zM857 169h1v1h-1zM828 168h1v1h-1zM857 168h1v1h-1zM828 167h1v1h-1zM857 167h1v1h-1zM828 166h1v1h-1zM857 166h1v1h-1zM828 165h1v1h-1zM857 165h1v1h-1zM828 164h1v1h-1zM857 164h1v1h-1zM828 163h1v1h-1zM857 163h1v1h-1zM829 162h1v1h-1zM856 162h1v1h-1zM829 161h1v1h-1zM856 161h1v1h-1zM829 160h1v1h-1zM856 160h1v1h-1zM829 159h1v1h-1zM856 159h1v1h-1zM829 158h1v1h-1zM856 158h1v1h-1zM829 157h1v1h-1zM856 157h1v1h-1zM830 156h1v1h-1zM856 156h1v1h-1zM830 155h1v1h-1zM856 155h1v1h-1zM830 154h1v1h-1zM855 154h1v1h-1zM830 153h1v1h-1zM855 153h1v1h-1zM830 152h1v1h-1zM855 152h1v1h-1zM830 151h1v1h-1zM855 151h1v1h-1zM831 150h1v1h-1zM855 150h1v1h-1zM831 149h1v1h-1zM855 149h1v1h-1zM831 148h1v1h-1zM854 148h1v1h-1zM831 147h1v1h-1zM854 147h1v1h-1zM831 146h1v1h-1zM854 146h1v1h-1zM831 145h1v1h-1zM854 145h1v1h-1zM831 144h1v1h-1zM854 144h1v1h-1zM832 143h1v1h-1zM853 143h1v1h-1zM832 142h1v1h-1zM853 142h1v1h-1zM832 141h1v1h-1zM853 141h1v1h-1zM832 140h1v1h-1zM853 140h1v1h-1zM832 139h1v1h-1zM853 139h1v1h-1zM832 138h1v1h-1zM852 138h1v1h-1zM833 137h1v1h-1zM852 137h1v1h-1zM833 136h1v1h-1zM852 136h1v1h-1zM833 135h1v1h-1zM852 135h1v1h-1zM833 134h1v1h-1zM852 134h1v1h-1zM833 133h1v1h-1zM851 133h1v1h-1zM833 132h1v1h-1zM851 132h1v1h-1zM834 131h1v1h-1zM851 131h1v1h-1zM834 130h1v1h-1zM851 130h1v1h-1zM834 129h1v1h-1zM851 129h1v1h-1zM834 128h1v1h-1zM850 128h1v1h-1zM834 127h1v1h-1zM850 127h1v1h-1zM834 126h1v1h-1zM850 126h1v1h-1zM835 125h1v1h-1zM850 125h1v1h-1zM835 124h1v1h-1zM849 124h1v1h-1zM835 123h1v1h-1zM849 123h1v1h-1zM835 122h1v1h-1zM849 122h1v1h-1zM835 121h1v1h-1zM849 121h1v1h-1zM835 120h1v1h-1zM849 120h1v1h-1zM836 119h1v1h-1zM848 119h1v1h-1zM836 118h1v1h-1zM848 118h1v1h-1zM836 117h1v1h-1zM848 117h1v1h-1zM836 116h1v1h-1zM848 116h1v1h-1zM836 115h1v1h-1zM847 115h1v1h-1zM837 114h1v1h-1zM847 114h1v1h-1zM837 113h1v1h-1zM847 113h1v1h-1zM837 112h1v1h-1zM846 112h1v1h-1zM837 111h1v1h-1zM846 111h1v1h-1zM838 110h1v1h-1zM845 110h1v1h-1zM838 109h1v1h-1zM845 109h1v1h-1zM838 108h1v1h-1zM844 108h1v1h-1zM838 107h1v1h-1zM844 107h1v1h-1zM838 106h1v1h-1zM843 106h1v1h-1zM839 105h1v1h-1zM841 105h2v1h-2zM839 104h2v1h-2zM839 103h1v1h-1z"/>
<rect x="3" y="200" width="1592" height="2" fill="#ff0000"/>
<rect x="1589" y="198" width="6" height="6" fill="#ff0000"/>
<rect x="1591" y="200" width="2" height="2" fill="#ffffff"/>
<rect x="3" y="271" width="1592" height="2" fill="#ff0000"/>
<rect x="1589" y="269" width="6" height="6" fill="#ff0000"/>
<rect x="1591" y="271" width="2" height="2" fill="#ffffff"/>
<rect x="3" y="338" width="1592" height="2" fill="#00ff00"/>
<rect x="1589" y="336" width="6" height="6" fill="#00ff00"/>
<rect x="1591" y="338" width="2" height="2" fill="#ffffff"/>
<rect x="3" y="420" width="1592" height="2" fill="#0000ff"/>
<rect x="1589" y="418" width="6" height="6" fill="#0000ff"/>
<rect x="1591" y="420" width="2" height="2" fill="#ffffff"/>
<rect x="3" y="502" width="1592" height="2" fill="#0000ff"/>
<rect x="1589" y="500" width="6" height="6" fill="#0000ff"/>
<rect x="1591" y="502" width="2" height="2" fill="#ffffff"/>
<line x1="4" y1="559.5" x2="1595" y2="559.5" stroke="#c0c0c0" stroke-width="1" stroke-dasharray="3,3"/>
<line x1="4" y1="595.5" x2="1595" y2="595.5" stroke="#c0c0c0" stroke-width="1" stroke-dasharray="3,3"/>
<path fill="#1e90ff" d="M3 576h2v1h-2zM8 576h2v1h-2zM23 576h1v1h-1zM30 576h1v1h-1zM32 576h1v1h-1zM149 576h1v1h-1zM182 576h1v1h-1zM190 576h1v1h-1zM193 576h3v1h-3zM217 576h2v1h-2zM220 576h1v1h-1zM228 576h1v1h-1zM245 576h1v1h-1zM274 576h1v1h-1zM343 576h2v1h-2zM364 576h2v1h-2zM461 576h1v1h-1zM471 576h1v1h-1zM473 576h3v1h-3zM587 576h1v1h-1zM628 576h1v1h-1zM729 576h2v1h-2zM741 576h1v1h-1zM857 576h1v1h-1zM860 576h1v1h-1zM889 576h1v1h-1zM918 576h1v1h-1zM926 576h1v1h-1zM932 576h2v1h-2zM945 576h1v1h-1zM949 576h2v1h-2zM957 576h1v1h-1zM974 576h1v1h-1zM985 576h2v1h-2zM988 576h1v1h-1zM993 576h1v1h-1zM1013 576h2v1h-2zM1028 576h1v1h-1zM1163 576h1v1h-1zM1171 576h1v1h-1zM1177 576h1v1h-1zM5 577h3v1h-3zM31 577h1v1h-1zM150 577h1v1h-1zM181 577h1v1h-1zM191 577h2v1h-2zM219 577h1v1h-1zM229 577h2v1h-2zM244 577h1v1h-1zM274 577h1v1h-1zM343 577h1v1h-1zM345 577h1v1h-1zM362 577h2v1h-2zM462 577h1v1h-1zM470 577h1v1h-1zM476 577h1v1h-1zM587 577h2v1h-2zM628 577h1v1h-1zM731 577h2v1h-2zM740 577h1v1h-1zM858 577h1v1h-1zM860 577h1v1h-1zM889 577h1v1h-1zM917 577h1v1h-1zM927 577h5v1h-5zM946 577h1v1h-1zM948 577h1v1h-1zM958 577h1v1h-1zM974 577h1v1h-1zM987 577h1v1h-1zM993 577h1v1h-1zM1012 577h1v1h-1zM1029 577h1v1h-1zM1047 577h1v1h-1zM1162 577h1v1h-1zM1177 577h1v1h-1zM10 575h2v1h-2zM22 575h1v1h-1zM24 575h1v1h-1zM29 575h1v1h-1zM32 575h1v1h-1zM121 575h3v1h-3zM149 575h1v1h-1zM182 575h1v1h-1zM189 575h1v1h-1zM196 575h1v1h-1zM202 575h7v1h-7zM216 575h1v1h-1zM221 575h1v1h-1zM226 575h2v1h-2zM245 575h1v1h-1zM273 575h1v1h-1zM343 575h1v1h-1zM366 575h6v1h-6zM407 575h1v1h-1zM461 575h1v1h-1zM471 575h2v1h-2zM629 575h1v1h-1zM728 575h1v1h-1zM741 575h1v1h-1zM857 575h1v1h-1zM861 575h1v1h-1zM888 575h1v1h-1zM918 575h1v1h-1zM925 575h1v1h-1zM934 575h2v1h-2zM945 575h1v1h-1zM951 575h2v1h-2zM956 575h1v1h-1zM975 575h1v1h-1zM977 575h4v1h-4zM984 575h1v1h-1zM989 575h1v1h-1zM992 575h1v1h-1zM1015 575h6v1h-6zM1028 575h1v1h-1zM1164 575h1v1h-1zM1169 575h2v1h-2zM1172 575h2v1h-2zM1176 575h1v1h-1zM12 574h1v1h-1zM21 574h1v1h-1zM25 574h2v1h-2zM28 574h1v1h-1zM33 574h1v1h-1zM65 574h4v1h-4zM73 574h3v1h-3zM117 574h4v1h-4zM124 574h2v1h-2zM149 574h1v1h-1zM183 574h1v1h-1zM189 574h1v1h-1zM197 574h2v1h-2zM200 574h2v1h-2zM209 574h7v1h-7zM222 574h1v1h-1zM224 574h2v1h-2zM245 574h1v1h-1zM273 574h1v1h-1zM372 574h1v1h-1zM406 574h1v1h-1zM408 574h1v1h-1zM461 574h1v1h-1zM629 574h1v1h-1zM719 574h1v1h-1zM727 574h1v1h-1zM742 574h1v1h-1zM851 574h2v1h-2zM856 574h1v1h-1zM861 574h1v1h-1zM888 574h1v1h-1zM919 574h1v1h-1zM925 574h1v1h-1zM936 574h1v1h-1zM944 574h1v1h-1zM953 574h3v1h-3zM975 574h2v1h-2zM981 574h3v1h-3zM990 574h1v1h-1zM992 574h1v1h-1zM1021 574h7v1h-7zM1165 574h2v1h-2zM1168 574h1v1h-1zM1174 574h2v1h-2zM12 573h1v1h-1zM20 573h1v1h-1zM27 573h1v1h-1zM33 573h1v1h-1zM62 573h3v1h-3zM69 573h4v1h-4zM75 573h1v1h-1zM103 573h2v1h-2zM115 573h2v1h-2zM126 573h10v1h-10zM148 573h1v1h-1zM184 573h2v1h-2zM188 573h1v1h-1zM199 573h1v1h-1zM223 573h1v1h-1zM246 573h1v1h-1zM272 573h1v1h-1zM373 573h1v1h-1zM399 573h1v1h-1zM405 573h1v1h-1zM409 573h2v1h-2zM460 573h1v1h-1zM630 573h1v1h-1zM718 573h1v1h-1zM720 573h1v1h-1zM725 573h2v1h-2zM742 573h1v1h-1zM851 573h1v1h-1zM853 573h3v1h-3zM862 573h1v1h-1zM866 573h2v1h-2zM875 573h6v1h-6zM885 573h3v1h-3zM919 573h2v1h-2zM924 573h1v1h-1zM937 573h1v1h-1zM943 573h1v1h-1zM991 573h1v1h-1zM1167 573h1v1h-1zM13 572h1v1h-1zM19 572h1v1h-1zM34 572h1v1h-1zM46 572h2v1h-2zM60 572h2v1h-2zM76 572h1v1h-1zM89 572h3v1h-3zM102 572h1v1h-1zM105 572h3v1h-3zM114 572h1v1h-1zM136 572h1v1h-1zM148 572h1v1h-1zM186 572h2v1h-2zM246 572h1v1h-1zM263 572h1v1h-1zM272 572h1v1h-1zM373 572h1v1h-1zM399 572h3v1h-3zM404 572h1v1h-1zM411 572h1v1h-1zM460 572h1v1h-1zM630 572h1v1h-1zM717 572h1v1h-1zM721 572h2v1h-2zM724 572h1v1h-1zM742 572h1v1h-1zM850 572h1v1h-1zM862 572h1v1h-1zM864 572h2v1h-2zM868 572h1v1h-1zM873 572h2v1h-2zM881 572h4v1h-4zM921 572h3v1h-3zM937 572h1v1h-1zM941 572h2v1h-2zM14 571h1v1h-1zM17 571h2v1h-2zM34 571h1v1h-1zM44 571h2v1h-2zM48 571h1v1h-1zM59 571h1v1h-1zM76 571h1v1h-1zM87 571h2v1h-2zM92 571h2v1h-2zM102 571h1v1h-1zM108 571h1v1h-1zM113 571h1v1h-1zM137 571h2v1h-2zM148 571h1v1h-1zM246 571h1v1h-1zM261 571h2v1h-2zM264 571h1v1h-1zM271 571h1v1h-1zM374 571h1v1h-1zM383 571h1v1h-1zM398 571h1v1h-1zM402 571h2v1h-2zM412 571h1v1h-1zM446 571h6v1h-6zM460 571h1v1h-1zM631 571h1v1h-1zM716 571h1v1h-1zM723 571h1v1h-1zM743 571h1v1h-1zM850 571h1v1h-1zM863 571h1v1h-1zM869 571h2v1h-2zM872 571h1v1h-1zM938 571h1v1h-1zM940 571h1v1h-1zM14 570h1v1h-1zM16 570h1v1h-1zM35 570h1v1h-1zM42 570h2v1h-2zM48 570h1v1h-1zM59 570h1v1h-1zM77 570h1v1h-1zM86 570h1v1h-1zM94 570h2v1h-2zM101 570h1v1h-1zM109 570h2v1h-2zM112 570h1v1h-1zM139 570h6v1h-6zM147 570h1v1h-1zM247 570h1v1h-1zM260 570h1v1h-1zM265 570h1v1h-1zM270 570h2v1h-2zM375 570h1v1h-1zM381 570h2v1h-2zM384 570h1v1h-1zM398 570h1v1h-1zM412 570h1v1h-1zM438 570h3v1h-3zM444 570h2v1h-2zM452 570h1v1h-1zM459 570h1v1h-1zM632 570h1v1h-1zM707 570h2v1h-2zM713 570h3v1h-3zM743 570h1v1h-1zM771 570h1v1h-1zM850 570h1v1h-1zM871 570h1v1h-1zM939 570h1v1h-1zM15 569h1v1h-1zM35 569h2v1h-2zM40 569h2v1h-2zM49 569h1v1h-1zM58 569h1v1h-1zM77 569h1v1h-1zM86 569h1v1h-1zM96 569h1v1h-1zM101 569h1v1h-1zM111 569h1v1h-1zM145 569h3v1h-3zM247 569h2v1h-2zM258 569h2v1h-2zM266 569h1v1h-1zM268 569h2v1h-2zM376 569h2v1h-2zM380 569h1v1h-1zM385 569h2v1h-2zM397 569h1v1h-1zM413 569h1v1h-1zM436 569h2v1h-2zM441 569h3v1h-3zM453 569h2v1h-2zM457 569h3v1h-3zM633 569h1v1h-1zM638 569h6v1h-6zM705 569h2v1h-2zM709 569h4v1h-4zM744 569h1v1h-1zM771 569h2v1h-2zM849 569h1v1h-1zM37 568h3v1h-3zM49 568h1v1h-1zM58 568h1v1h-1zM78 568h1v1h-1zM85 568h1v1h-1zM97 568h1v1h-1zM100 568h1v1h-1zM249 568h4v1h-4zM256 568h2v1h-2zM267 568h1v1h-1zM378 568h2v1h-2zM387 568h2v1h-2zM397 568h1v1h-1zM413 568h1v1h-1zM435 568h1v1h-1zM455 568h2v1h-2zM634 568h1v1h-1zM636 568h2v1h-2zM644 568h1v1h-1zM704 568h1v1h-1zM745 568h1v1h-1zM770 568h1v1h-1zM772 568h1v1h-1zM849 568h1v1h-1zM50 567h1v1h-1zM58 567h1v1h-1zM78 567h1v1h-1zM84 567h1v1h-1zM98 567h1v1h-1zM100 567h1v1h-1zM253 567h3v1h-3zM389 567h3v1h-3zM396 567h1v1h-1zM414 567h1v1h-1zM419 567h2v1h-2zM434 567h1v1h-1zM635 567h1v1h-1zM645 567h1v1h-1zM703 567h1v1h-1zM746 567h1v1h-1zM770 567h1v1h-1zM773 567h1v1h-1zM849 567h1v1h-1zM50 566h1v1h-1zM57 566h1v1h-1zM79 566h1v1h-1zM84 566h1v1h-1zM99 566h1v1h-1zM392 566h2v1h-2zM396 566h1v1h-1zM414 566h1v1h-1zM417 566h2v1h-2zM421 566h4v1h-4zM433 566h1v1h-1zM645 566h1v1h-1zM702 566h1v1h-1zM747 566h2v1h-2zM769 566h1v1h-1zM774 566h1v1h-1zM848 566h1v1h-1zM51 565h1v1h-1zM57 565h1v1h-1zM79 565h5v1h-5zM394 565h2v1h-2zM415 565h2v1h-2zM425 565h3v1h-3zM433 565h1v1h-1zM646 565h1v1h-1zM701 565h1v1h-1zM749 565h3v1h-3zM769 565h1v1h-1zM774 565h1v1h-1zM787 565h1v1h-1zM848 565h1v1h-1zM52 564h1v1h-1zM57 564h1v1h-1zM415 564h1v1h-1zM428 564h2v1h-2zM432 564h1v1h-1zM647 564h5v1h-5zM701 564h1v1h-1zM752 564h1v1h-1zM768 564h1v1h-1zM775 564h2v1h-2zM786 564h2v1h-2zM848 564h1v1h-1zM52 563h1v1h-1zM56 563h1v1h-1zM430 563h2v1h-2zM652 563h1v1h-1zM700 563h1v1h-1zM752 563h1v1h-1zM768 563h1v1h-1zM777 563h3v1h-3zM785 563h1v1h-1zM788 563h1v1h-1zM847 563h1v1h-1zM53 562h1v1h-1zM56 562h1v1h-1zM653 562h2v1h-2zM699 562h1v1h-1zM753 562h1v1h-1zM767 562h1v1h-1zM780 562h2v1h-2zM784 562h1v1h-1zM788 562h1v1h-1zM847 562h1v1h-1zM54 561h1v1h-1zM56 561h1v1h-1zM655 561h2v1h-2zM699 561h1v1h-1zM754 561h1v1h-1zM767 561h1v1h-1zM782 561h2v1h-2zM789 561h1v1h-1zM846 561h1v1h-1zM54 560h2v1h-2zM657 560h4v1h-4zM698 560h1v1h-1zM754 560h1v1h-1zM765 560h2v1h-2zM789 560h1v1h-1zM846 560h1v1h-1zM55 559h1v1h-1zM661 559h7v1h-7zM698 559h1v1h-1zM755 559h1v1h-1zM764 559h1v1h-1zM790 559h1v1h-1zM845 559h1v1h-1zM150 578h1v1h-1zM181 578h1v1h-1zM231 578h1v1h-1zM244 578h1v1h-1zM275 578h1v1h-1zM342 578h1v1h-1zM345 578h1v1h-1zM350 578h3v1h-3zM360 578h2v1h-2zM462 578h1v1h-1zM470 578h1v1h-1zM477 578h1v1h-1zM586 578h1v1h-1zM588 578h1v1h-1zM627 578h1v1h-1zM733 578h3v1h-3zM740 578h1v1h-1zM859 578h1v1h-1zM890 578h1v1h-1zM894 578h3v1h-3zM917 578h1v1h-1zM947 578h1v1h-1zM959 578h1v1h-1zM973 578h1v1h-1zM994 578h1v1h-1zM1007 578h5v1h-5zM1029 578h1v1h-1zM1046 578h1v1h-1zM1048 578h2v1h-2zM1161 578h1v1h-1zM1178 578h1v1h-1zM1227 578h1v1h-1zM150 579h1v1h-1zM180 579h1v1h-1zM232 579h2v1h-2zM237 579h3v1h-3zM244 579h1v1h-1zM275 579h1v1h-1zM342 579h1v1h-1zM346 579h1v1h-1zM348 579h2v1h-2zM353 579h7v1h-7zM462 579h1v1h-1zM470 579h1v1h-1zM478 579h1v1h-1zM481 579h3v1h-3zM586 579h1v1h-1zM589 579h1v1h-1zM603 579h1v1h-1zM617 579h3v1h-3zM625 579h2v1h-2zM736 579h1v1h-1zM740 579h1v1h-1zM890 579h1v1h-1zM892 579h2v1h-2zM897 579h4v1h-4zM917 579h1v1h-1zM960 579h2v1h-2zM973 579h1v1h-1zM994 579h1v1h-1zM1006 579h1v1h-1zM1030 579h1v1h-1zM1045 579h1v1h-1zM1050 579h3v1h-3zM1160 579h1v1h-1zM1179 579h1v1h-1zM1213 579h7v1h-7zM1225 579h2v1h-2zM1228 579h1v1h-1zM1239 579h5v1h-5zM151 580h1v1h-1zM180 580h1v1h-1zM234 580h3v1h-3zM240 580h2v1h-2zM243 580h1v1h-1zM275 580h1v1h-1zM342 580h1v1h-1zM347 580h1v1h-1zM463 580h1v1h-1zM469 580h1v1h-1zM479 580h2v1h-2zM484 580h2v1h-2zM585 580h1v1h-1zM590 580h1v1h-1zM601 580h2v1h-2zM604 580h1v1h-1zM615 580h2v1h-2zM620 580h2v1h-2zM624 580h1v1h-1zM737 580h3v1h-3zM891 580h1v1h-1zM901 580h11v1h-11zM916 580h1v1h-1zM962 580h2v1h-2zM973 580h1v1h-1zM995 580h1v1h-1zM1005 580h1v1h-1zM1030 580h1v1h-1zM1044 580h1v1h-1zM1053 580h3v1h-3zM1159 580h1v1h-1zM1180 580h2v1h-2zM1203 580h1v1h-1zM1211 580h2v1h-2zM1220 580h2v1h-2zM1224 580h1v1h-1zM1228 580h1v1h-1zM1237 580h2v1h-2zM1244 580h1v1h-1zM151 581h2v1h-2zM177 581h3v1h-3zM242 581h2v1h-2zM276 581h1v1h-1zM342 581h1v1h-1zM463 581h1v1h-1zM469 581h1v1h-1zM486 581h2v1h-2zM585 581h1v1h-1zM590 581h1v1h-1zM593 581h4v1h-4zM600 581h1v1h-1zM605 581h2v1h-2zM613 581h2v1h-2zM622 581h2v1h-2zM739 581h1v1h-1zM912 581h1v1h-1zM916 581h1v1h-1zM964 581h2v1h-2zM972 581h1v1h-1zM995 581h1v1h-1zM1004 581h1v1h-1zM1031 581h1v1h-1zM1042 581h2v1h-2zM1056 581h1v1h-1zM1122 581h6v1h-6zM1138 581h10v1h-10zM1158 581h1v1h-1zM1182 581h7v1h-7zM1202 581h1v1h-1zM1204 581h1v1h-1zM1210 581h1v1h-1zM1222 581h2v1h-2zM1229 581h1v1h-1zM1236 581h1v1h-1zM1245 581h1v1h-1zM153 582h3v1h-3zM175 582h2v1h-2zM276 582h1v1h-1zM287 582h1v1h-1zM341 582h1v1h-1zM464 582h1v1h-1zM469 582h1v1h-1zM488 582h1v1h-1zM521 582h7v1h-7zM534 582h2v1h-2zM584 582h1v1h-1zM591 582h2v1h-2zM597 582h3v1h-3zM607 582h2v1h-2zM612 582h1v1h-1zM913 582h3v1h-3zM966 582h2v1h-2zM972 582h1v1h-1zM996 582h2v1h-2zM1001 582h3v1h-3zM1032 582h1v1h-1zM1040 582h2v1h-2zM1056 582h1v1h-1zM1120 582h2v1h-2zM1128 582h1v1h-1zM1136 582h2v1h-2zM1148 582h1v1h-1zM1158 582h1v1h-1zM1189 582h4v1h-4zM1201 582h1v1h-1zM1205 582h1v1h-1zM1209 582h1v1h-1zM1230 582h1v1h-1zM1234 582h2v1h-2zM1246 582h1v1h-1zM156 583h1v1h-1zM175 583h1v1h-1zM277 583h1v1h-1zM286 583h1v1h-1zM288 583h1v1h-1zM341 583h1v1h-1zM464 583h1v1h-1zM468 583h1v1h-1zM489 583h2v1h-2zM493 583h3v1h-3zM519 583h2v1h-2zM528 583h2v1h-2zM532 583h2v1h-2zM536 583h1v1h-1zM584 583h1v1h-1zM609 583h3v1h-3zM915 583h1v1h-1zM968 583h2v1h-2zM971 583h1v1h-1zM998 583h3v1h-3zM1033 583h1v1h-1zM1038 583h2v1h-2zM1057 583h1v1h-1zM1117 583h3v1h-3zM1129 583h2v1h-2zM1133 583h3v1h-3zM1149 583h1v1h-1zM1157 583h1v1h-1zM1193 583h4v1h-4zM1200 583h1v1h-1zM1206 583h1v1h-1zM1208 583h1v1h-1zM1230 583h1v1h-1zM1232 583h2v1h-2zM1247 583h1v1h-1zM156 584h1v1h-1zM174 584h1v1h-1zM277 584h1v1h-1zM286 584h1v1h-1zM289 584h2v1h-2zM341 584h1v1h-1zM465 584h1v1h-1zM468 584h1v1h-1zM491 584h2v1h-2zM496 584h2v1h-2zM518 584h1v1h-1zM530 584h2v1h-2zM536 584h1v1h-1zM583 584h1v1h-1zM970 584h2v1h-2zM1034 584h1v1h-1zM1036 584h2v1h-2zM1057 584h1v1h-1zM1115 584h2v1h-2zM1131 584h2v1h-2zM1150 584h1v1h-1zM1157 584h1v1h-1zM1197 584h3v1h-3zM1207 584h1v1h-1zM1231 584h1v1h-1zM1248 584h1v1h-1zM157 585h1v1h-1zM174 585h1v1h-1zM277 585h1v1h-1zM285 585h1v1h-1zM291 585h2v1h-2zM341 585h1v1h-1zM466 585h1v1h-1zM468 585h1v1h-1zM498 585h2v1h-2zM518 585h1v1h-1zM537 585h1v1h-1zM583 585h1v1h-1zM1035 585h1v1h-1zM1058 585h1v1h-1zM1115 585h1v1h-1zM1151 585h1v1h-1zM1156 585h1v1h-1zM1248 585h1v1h-1zM157 586h1v1h-1zM173 586h1v1h-1zM278 586h1v1h-1zM285 586h1v1h-1zM293 586h3v1h-3zM340 586h1v1h-1zM466 586h2v1h-2zM500 586h1v1h-1zM517 586h1v1h-1zM537 586h1v1h-1zM582 586h1v1h-1zM1058 586h1v1h-1zM1071 586h2v1h-2zM1114 586h1v1h-1zM1152 586h2v1h-2zM1156 586h1v1h-1zM1249 586h1v1h-1zM158 587h1v1h-1zM173 587h1v1h-1zM278 587h1v1h-1zM284 587h1v1h-1zM296 587h1v1h-1zM340 587h1v1h-1zM467 587h1v1h-1zM501 587h1v1h-1zM516 587h1v1h-1zM538 587h1v1h-1zM581 587h1v1h-1zM1059 587h2v1h-2zM1069 587h2v1h-2zM1073 587h3v1h-3zM1114 587h1v1h-1zM1154 587h2v1h-2zM1250 587h1v1h-1zM1263 587h2v1h-2zM158 588h1v1h-1zM161 588h3v1h-3zM172 588h1v1h-1zM279 588h1v1h-1zM284 588h1v1h-1zM297 588h1v1h-1zM340 588h1v1h-1zM502 588h1v1h-1zM505 588h3v1h-3zM516 588h1v1h-1zM538 588h1v1h-1zM580 588h1v1h-1zM1061 588h4v1h-4zM1068 588h1v1h-1zM1076 588h1v1h-1zM1114 588h1v1h-1zM1250 588h1v1h-1zM1262 588h1v1h-1zM1265 588h3v1h-3zM159 589h2v1h-2zM164 589h1v1h-1zM172 589h1v1h-1zM279 589h5v1h-5zM297 589h1v1h-1zM340 589h1v1h-1zM503 589h2v1h-2zM508 589h1v1h-1zM515 589h1v1h-1zM539 589h1v1h-1zM579 589h1v1h-1zM1065 589h3v1h-3zM1076 589h1v1h-1zM1113 589h1v1h-1zM1251 589h1v1h-1zM1262 589h1v1h-1zM165 590h2v1h-2zM169 590h3v1h-3zM298 590h1v1h-1zM339 590h1v1h-1zM509 590h1v1h-1zM513 590h2v1h-2zM540 590h1v1h-1zM579 590h1v1h-1zM1077 590h1v1h-1zM1113 590h1v1h-1zM1252 590h2v1h-2zM1261 590h1v1h-1zM167 591h2v1h-2zM299 591h6v1h-6zM339 591h1v1h-1zM510 591h1v1h-1zM512 591h1v1h-1zM541 591h2v1h-2zM578 591h1v1h-1zM1077 591h1v1h-1zM1113 591h1v1h-1zM1254 591h2v1h-2zM1261 591h1v1h-1zM305 592h3v1h-3zM339 592h1v1h-1zM511 592h1v1h-1zM543 592h2v1h-2zM578 592h1v1h-1zM1078 592h1v1h-1zM1112 592h1v1h-1zM1256 592h1v1h-1zM1260 592h1v1h-1zM308 593h2v1h-2zM337 593h2v1h-2zM545 593h3v1h-3zM577 593h1v1h-1zM1078 593h1v1h-1zM1112 593h1v1h-1zM1257 593h2v1h-2zM1260 593h1v1h-1zM310 594h2v1h-2zM318 594h3v1h-3zM336 594h1v1h-1zM548 594h2v1h-2zM577 594h1v1h-1zM1079 594h1v1h-1zM1107 594h1v1h-1zM1112 594h1v1h-1zM1259 594h1v1h-1zM312 595h2v1h-2zM316 595h2v1h-2zM321 595h4v1h-4zM334 595h2v1h-2zM550 595h2v1h-2zM576 595h1v1h-1zM1080 595h1v1h-1zM1090 595h2v1h-2zM1106 595h1v1h-1zM1108 595h2v1h-2zM1111 595h1v1h-1zM314 596h2v1h-2zM325 596h4v1h-4zM332 596h2v1h-2zM552 596h1v1h-1zM569 596h4v1h-4zM576 596h1v1h-1zM1081 596h2v1h-2zM1088 596h2v1h-2zM1092 596h1v1h-1zM1105 596h1v1h-1zM1110 596h2v1h-2zM329 597h3v1h-3zM552 597h1v1h-1zM565 597h4v1h-4zM573 597h3v1h-3zM1083 597h5v1h-5zM1093 597h2v1h-2zM1097 597h3v1h-3zM1105 597h1v1h-1zM553 598h1v1h-1zM559 598h6v1h-6zM1095 598h2v1h-2zM1100 598h2v1h-2zM1104 598h1v1h-1zM554 599h1v1h-1zM557 599h2v1h-2zM1102 599h2v1h-2zM554 600h1v1h-1zM556 600h1v1h-1zM555 601h1v1h-1zM668 558h1v1h-1zM697 558h1v1h-1zM756 558h1v1h-1zM763 558h1v1h-1zM790 558h1v1h-1zM845 558h1v1h-1zM669 557h1v1h-1zM697 557h1v1h-1zM756 557h1v1h-1zM762 557h1v1h-1zM791 557h1v1h-1zM844 557h1v1h-1zM670 556h1v1h-1zM697 556h1v1h-1zM757 556h1v1h-1zM761 556h1v1h-1zM791 556h1v1h-1zM844 556h1v1h-1zM671 555h2v1h-2zM691 555h1v1h-1zM696 555h1v1h-1zM758 555h1v1h-1zM761 555h1v1h-1zM792 555h1v1h-1zM843 555h1v1h-1zM673 554h4v1h-4zM689 554h2v1h-2zM692 554h1v1h-1zM696 554h1v1h-1zM758 554h1v1h-1zM760 554h1v1h-1zM792 554h1v1h-1zM842 554h1v1h-1zM677 553h8v1h-8zM688 553h1v1h-1zM693 553h3v1h-3zM759 553h1v1h-1zM793 553h1v1h-1zM831 553h2v1h-2zM841 553h1v1h-1zM685 552h3v1h-3zM695 552h1v1h-1zM793 552h1v1h-1zM811 552h2v1h-2zM830 552h1v1h-1zM833 552h4v1h-4zM840 552h1v1h-1zM794 551h1v1h-1zM799 551h1v1h-1zM810 551h1v1h-1zM813 551h3v1h-3zM830 551h1v1h-1zM837 551h3v1h-3zM794 550h1v1h-1zM797 550h2v1h-2zM800 550h1v1h-1zM810 550h1v1h-1zM816 550h1v1h-1zM829 550h1v1h-1zM795 549h2v1h-2zM801 549h2v1h-2zM809 549h1v1h-1zM817 549h1v1h-1zM828 549h1v1h-1zM795 548h1v1h-1zM803 548h1v1h-1zM808 548h1v1h-1zM818 548h1v1h-1zM828 548h1v1h-1zM804 547h2v1h-2zM808 547h1v1h-1zM819 547h1v1h-1zM827 547h1v1h-1zM806 546h2v1h-2zM820 546h1v1h-1zM826 546h1v1h-1zM821 545h1v1h-1zM825 545h1v1h-1zM822 544h1v1h-1zM824 544h1v1h-1zM823 543h1v1h-1z"/>
<rect x="3" y="685" width="1" height="5" fill="#c0c0c0"/>
<rect x="7" y="685" width="1" height="5" fill="#c0c0c0"/>
<rect x="11" y="685" width="1" height="4" fill="#c0c0c0"/>
<rect x="15" y="685" width="1" height="3" fill="#c0c0c0"/>
<rect x="19" y="685" width="1" height="2" fill="#c0c0c0"/>
<rect x="23" y="685" width="1" height="1" fill="#c0c0c0"/>
<rect x="27" y="685" width="1" height="1" fill="#c0c0c0"/>
<rect x="31" y="685" width="1" height="1" fill="#c0c0c0"/>
<rect x="35" y="684" width="1" height="2" fill="#c0c0c0"/>
<rect x="39" y="683" width="1" height="3" fill="#c0c0c0"/>
<rect x="43" y="683" width="1" height="3" fill="#c0c0c0"/>
<rect x="47" y="682" width="1" height="4" fill="#c0c0c0"/>
<rect x="51" y="681" width="1" height="5" fill="#c0c0c0"/>
<rect x="55" y="680" width="1" height="6" fill="#c0c0c0"/>
<rect x="59" y="680" width="1" height="6" fill="#c0c0c0"/>
<rect x="63" y="680" width="1" height="6" fill="#c0c0c0"/>
<rect x="67" y="680" width="1" height="6" fill="#c0c0c0"/>
<rect x="71" y="680" width="1" height="6" fill="#c0c0c0"/>
<rect x="75" y="681" width="1" height="5" fill="#c0c0c0"/>
<rect x="79" y="680" width="1" height="6" fill="#c0c0c0"/>
<rect x="83" y="679" width="1" height="7" fill="#c0c0c0"/>
<rect x="87" y="679" width="1" height="7" fill="#c0c0c0"/>
<rect x="91" y="679" width="1" height="7" fill="#c0c0c0"/>
<rect x="95" y="679" width="1" height="7" fill="#c0c0c0"/>
<rect x="99" y="678" width="1" height="8" fill="#c0c0c0"/>
<rect x="103" y="679" width="1" height="7" fill="#c0c0c0"/>
<rect x="107" y="679" width="1" height="7" fill="#c0c0c0"/>
<rect x="111" y="679" width="1" height="7" fill="#c0c0c0"/>
<rect x="115" y="679" width="1" height="7" fill="#c0c0c0"/>
<rect x="119" y="680" width="1" height="6" fill="#c0c0c0"/>
<rect x="123" y="680" width="1" height="6" fill="#c0c0c0"/>
<rect x="127" y="680" width="1" height="6" fill="#c0c0c0"/>
<rect x="131" y="681" width="1" height="5" fill="#c0c0c0"/>
<rect x="135" y="681" width="1" height="5" fill="#c0c0c0"/>
<rect x="139" y="681" width="1" height="5" fill="#c0c0c0"/>
<rect x="143" y="681" width="1" height="5" fill="#c0c0c0"/>
<rect x="147" y="680" width="1" height="6" fill="#c0c0c0"/>
<rect x="151" y="682" width="1" height="4" fill="#c0c0c0"/>
<rect x="155" y="683" width="1" height="3" fill="#c0c0c0"/>
<rect x="159" y="684" width="1" height="2" fill="#c0c0c0"/>
<rect x="163" y="685" width="1" height="2" fill="#c0c0c0"/>
<rect x="167" y="685" width="1" height="3" fill="#c0c0c0"/>
<rect x="171" y="685" width="1" height="4" fill="#c0c0c0"/>
<rect x="175" y="685" width="1" height="4" fill="#c0c0c0"/>
<rect x="179" y="685" width="1" height="4" fill="#c0c0c0"/>
<rect x="183" y="685" width="1" height="3" fill="#c0c0c0"/>
<rect x="187" y="685" width="1" height="2" fill="#c0c0c0"/>
<rect x="191" y="685" width="1" height="2" fill="#c0c0c0"/>
<rect x="195" y="685" width="1" height="2" fill="#c0c0c0"/>
<rect x="199" y="685" width="1" height="1" fill="#c0c0c0"/>
<rect x="203" y="685" width="1" height="1" fill="#c0c0c0"/>
<rect x="207" y="684" width="1" height="2" fill="#c0c0c0"/>
<rect x="211" y="684" width="1" height="2" fill="#c0c0c0"/>
<rect x="215" y="684" width="1" height="2" fill="#c0c0c0"/>
<rect x="219" y="684" width="1" height="2" fill="#c0c0c0"/>
<rect x="223" y="684" width="1" height="2" fill="#c0c0c0"/>
<rect x="227" y="684" width="1" height="2" fill="#c0c0c0"/>
<rect x="231" y="684" width="1" height="2" fill="#c0c0c0"/>
<rect x="235" y="684" width="1" height="2" fill="#c0c0c0"/>
<rect x="239" y="685" width="1" height="1" fill="#c0c0c0"/>
<rect x="243" y="685" width="1" height="1" fill="#c0c0c0"/>
<rect x="247" y="684" width="1" height="2" fill="#c0c0c0"/>
<rect x="251" y="683" width="1" height="3" fill="#c0c0c0"/>
<rect x="255" y="683" width="1" height="3" fill="#c0c0c0"/>
<rect x="259" y="682" width="1" height="4" fill="#c0c0c0"/>
<rect x="263" y="682" width="1" height="4" fill="#c0c0c0"/>
<rect x="267" y="682" width="1" height="4" fill="#c0c0c0"/>
<rect x="271" y="682" width="1" height="4" fill="#c0c0c0"/>
<rect x="275" y="682" width="1" height="4" fill="#c0c0c0"/>
<rect x="279" y="684" width="1" height="2" fill="#c0c0c0"/>
<rect x="283" y="685" width="1" height="1" fill="#c0c0c0"/>
<rect x="287" y="685" width="1" height="2" fill="#c0c0c0"/>
<rect x="291" y="685" width="1" height="3" fill="#c0c0c0"/>
<rect x="295" y="685" width="1" height="3" fill="#c0c0c0"/>
<rect x="299" y="685" width="1" height="5" fill="#c0c0c0"/>
<rect x="303" y="685" width="1" height="6" fill="#c0c0c0"/>
<rect x="307" y="685" width="1" height="6" fill="#c0c0c0"/>
<rect x="311" y="685" width="1" height="7" fill="#c0c0c0"/>
<rect x="315" y="685" width="1" height="8" fill="#c0c0c0"/>
<rect x="319" y="685" width="1" height="9" fill="#c0c0c0"/>
<rect x="323" y="685" width="1" height="9" fill="#c0c0c0"/>
<rect x="327" y="685" width="1" height="10" fill="#c0c0c0"/>
<rect x="331" y="685" width="1" height="10" fill="#c0c0c0"/>
<rect x="335" y="685" width="1" height="10" fill="#c0c0c0"/>
<rect x="339" y="685" width="1" height="10" fill="#c0c0c0"/>
<rect x="343" y="685" width="1" height="8" fill="#c0c0c0"/>
<rect x="347" y="685" width="1" height="7" fill="#c0c0c0"/>
<rect x="351" y="685" width="1" height="6" fill="#c0c0c0"/>
<rect x="355" y="685" width="1" height="6" fill="#c0c0c0"/>
<rect x="359" y="685" width="1" height="5" fill="#c0c0c0"/>
<rect x="363" y="685" width="1" height="4" fill="#c0c0c0"/>
<rect x="367" y="685" width="1" height="4" fill="#c0c0c0"/>
<rect x="371" y="685" width="1" height="3" fill="#c0c0c0"/>
<rect x="375" y="685" width="1" height="2" fill="#c0c0c0"/>
<rect x="379" y="685" width="1" height="1" fill="#c0c0c0"/>
<rect x="383" y="684" width="1" height="2" fill="#c0c0c0"/>
<rect x="387" y="684" width="1" height="2" fill="#c0c0c0"/>
<rect x="391" y="683" width="1" height="3" fill="#c0c0c0"/>
<rect x="395" y="682" width="1" height="4" fill="#c0c0c0"/>
<rect x="399" y="682" width="1" height="4" fill="#c0c0c0"/>
<rect x="403" y="682" width="1" height="4" fill="#c0c0c0"/>
<rect x="407" y="682" width="1" height="4" fill="#c0c0c0"/>
<rect x="411" y="682" width="1" height="4" fill="#c0c0c0"/>
<rect x="415" y="681" width="1" height="5" fill="#c0c0c0"/>
<rect x="419" y="681" width="1" height="5" fill="#c0c0c0"/>
<rect x="423" y="680" width="1" height="6" fill="#c0c0c0"/>
<rect x="427" y="680" width="1" height="6" fill="#c0c0c0"/>
<rect x="431" y="679" width="1" height="7" fill="#c0c0c0"/>
<rect x="435" y="679" width="1" height="7" fill="#c0c0c0"/>
<rect x="439" y="680" width="1" height="6" fill="#c0c0c0"/>
<rect x="443" y="680" width="1" height="6" fill="#c0c0c0"/>
<rect x="447" y="680" width="1" height="6" fill="#c0c0c0"/>
<rect x="451" y="680" width="1" height="6" fill="#c0c0c0"/>
<rect x="455" y="680" width="1" height="6" fill="#c0c0c0"/>
<rect x="459" y="680" width="1" height="6" fill="#c0c0c0"/>
<rect x="463" y="681" width="1" height="5" fill="#c0c0c0"/>
<rect x="467" y="683" width="1" height="3" fill="#c0c0c0"/>
<rect x="471" y="683" width="1" height="3" fill="#c0c0c0"/>
<rect x="475" y="683" width="1" height="3" fill="#c0c0c0"/>
<rect x="479" y="684" width="1" height="2" fill="#c0c0c0"/>
<rect x="483" y="684" width="1" height="2" fill="#c0c0c0"/>
<rect x="487" y="685" width="1" height="1" fill="#c0c0c0"/>
<rect x="491" y="685" width="1" height="1" fill="#c0c0c0"/>
<rect x="495" y="685" width="1" height="2" fill="#c0c0c0"/>
<rect x="499" y="685" width="1" height="3" fill="#c0c0c0"/>
<rect x="503" y="685" width="1" height="3" fill="#c0c0c0"/>
<rect x="507" y="685" width="1" height="4" fill="#c0c0c0"/>
<rect x="511" y="685" width="1" height="5" fill="#c0c0c0"/>
<rect x="515" y="685" width="1" height="6" fill="#c0c0c0"/>
<rect x="519" y="685" width="1" height="5" fill="#c0c0c0"/>
<rect x="523" y="685" width="1" height="5" fill="#c0c0c0"/>
<rect x="527" y="685" width="1" height="5" fill="#c0c0c0"/>
<rect x="531" y="685" width="1" height="5" fill="#c0c0c0"/>
<rect x="535" y="685" width="1" height="5" fill="#c0c0c0"/>
<rect x="539" y="685" width="1" height="5" fill="#c0c0c0"/>
<rect x="543" y="685" width="1" height="6" fill="#c0c0c0"/>
<rect x="547" y="685" width="1" height="7" fill="#c0c0c0"/>
<rect x="551" y="685" width="1" height="7" fill="#c0c0c0"/>
<rect x="555" y="685" width="1" height="9" fill="#c0c0c0"/>
<rect x="559" y="685" width="1" height="10" fill="#c0c0c0"/>
<rect x="563" y="685" width="1" height="11" fill="#c0c0c0"/>
<rect x="567" y="685" width="1" height="11" fill="#c0c0c0"/>
<rect x="571" y="685" width="1" height="11" fill="#c0c0c0"/>
<rect x="575" y="685" width="1" height="12" fill="#c0c0c0"/>
<rect x="579" y="685" width="1" height="11" fill="#c0c0c0"/>
<rect x="583" y="685" width="1" height="10" fill="#c0c0c0"/>
<rect x="587" y="685" width="1" height="9" fill="#c0c0c0"/>
<rect x="591" y="685" width="1" height="8" fill="#c0c0c0"/>
<rect x="595" y="685" width="1" height="7" fill="#c0c0c0"/>
<rect x="599" y="685" width="1" height="7" fill="#c0c0c0"/>
<rect x="603" y="685" width="1" height="6" fill="#c0c0c0"/>
<rect x="607" y="685" width="1" height="6" fill="#c0c0c0"/>
<rect x="611" y="685" width="1" height="5" fill="#c0c0c0"/>
<rect x="615" y="685" width="1" height="5" fill="#c0c0c0"/>
<rect x="619" y="685" width="1" height="4" fill="#c0c0c0"/>
<rect x="623" y="685" width="1" height="4" fill="#c0c0c0"/>
<rect x="627" y="685" width="1" height="4" fill="#c0c0c0"/>
<rect x="631" y="685" width="1" height="3" fill="#c0c0c0"/>
<rect x="635" y="685" width="1" height="1" fill="#c0c0c0"/>
<rect x="639" y="685" width="1" height="1" fill="#c0c0c0"/>
<rect x="643" y="684" width="1" height="2" fill="#c0c0c0"/>
<rect x="647" y="683" width="1" height="3" fill="#c0c0c0"/>
<rect x="651" y="682" width="1" height="4" fill="#c0c0c0"/>
<rect x="655" y="681" width="1" height="5" fill="#c0c0c0"/>
<rect x="659" y="680" width="1" height="6" fill="#c0c0c0"/>
<rect x="663" y="679" width="1" height="7" fill="#c0c0c0"/>
<rect x="667" y="679" width="1" height="7" fill="#c0c0c0"/>
<rect x="671" y="678" width="1" height="8" fill="#c0c0c0"/>
<rect x="675" y="677" width="1" height="9" fill="#c0c0c0"/>
<rect x="679" y="676" width="1" height="10" fill="#c0c0c0"/>
<rect x="683" y="676" width="1" height="10" fill="#c0c0c0"/>
<rect x="687" y="675" width="1" height="11" fill="#c0c0c0"/>
<rect x="691" y="675" width="1" height="11" fill="#c0c0c0"/>
<rect x="695" y="675" width="1" height="11" fill="#c0c0c0"/>
<rect x="699" y="675" width="1" height="11" fill="#c0c0c0"/>
<rect x="703" y="676" width="1" height="10" fill="#c0c0c0"/>
<rect x="707" y="677" width="1" height="9" fill="#c0c0c0"/>
<rect x="711" y="678" width="1" height="8" fill="#c0c0c0"/>
<rect x="715" y="678" width="1" height="8" fill="#c0c0c0"/>
<rect x="719" y="679" width="1" height="7" fill="#c0c0c0"/>
<rect x="723" y="680" width="1" height="6" fill="#c0c0c0"/>
<rect x="727" y="680" width="1" height="6" fill="#c0c0c0"/>
<rect x="731" y="681" width="1" height="5" fill="#c0c0c0"/>
<rect x="735" y="682" width="1" height="4" fill="#c0c0c0"/>
<rect x="739" y="682" width="1" height="4" fill="#c0c0c0"/>
<rect x="743" y="682" width="1" height="4" fill="#c0c0c0"/>
<rect x="747" y="682" width="1" height="4" fill="#c0c0c0"/>
<rect x="751" y="681" width="1" height="5" fill="#c0c0c0"/>
<rect x="755" y="680" width="1" height="6" fill="#c0c0c0"/>
<rect x="759" y="679" width="1" height="7" fill="#c0c0c0"/>
<rect x="763" y="678" width="1" height="8" fill="#c0c0c0"/>
<rect x="767" y="677" width="1" height="9" fill="#c0c0c0"/>
<rect x="771" y="678" width="1" height="8" fill="#c0c0c0"/>
<rect x="775" y="677" width="1" height="9" fill="#c0c0c0"/>
<rect x="779" y="677" width="1" height="9" fill="#c0c0c0"/>
<rect x="783" y="676" width="1" height="10" fill="#c0c0c0"/>
<rect x="787" y="676" width="1" height="10" fill="#c0c0c0"/>
<rect x="791" y="675" width="1" height="11" fill="#c0c0c0"/>
<rect x="795" y="670" width="1" height="16" fill="#c0c0c0"/>
<rect x="799" y="667" width="1" height="19" fill="#c0c0c0"/>
<rect x="803" y="663" width="1" height="23" fill="#c0c0c0"/>
<rect x="807" y="659" width="1" height="27" fill="#c0c0c0"/>
<rect x="811" y="657" width="1" height="29" fill="#c0c0c0"/>
<rect x="815" y="655" width="1" height="31" fill="#c0c0c0"/>
<rect x="819" y="650" width="1" height="36" fill="#c0c0c0"/>
<rect x="823" y="643" width="1" height="43" fill="#c0c0c0"/>
<rect x="827" y="638" width="1" height="48" fill="#c0c0c0"/>
<rect x="831" y="637" width="1" height="49" fill="#c0c0c0"/>
<rect x="835" y="635" width="1" height="51" fill="#c0c0c0"/>
<rect x="839" y="633" width="1" height="53" fill="#c0c0c0"/>
<rect x="843" y="632" width="1" height="54" fill="#c0c0c0"/>
<rect x="847" y="635" width="1" height="51" fill="#c0c0c0"/>
<rect x="851" y="641" width="1" height="45" fill="#c0c0c0"/>
<rect x="855" y="646" width="1" height="40" fill="#c0c0c0"/>
<rect x="859" y="652" width="1" height="34" fill="#c0c0c0"/>
<rect x="863" y="655" width="1" height="31" fill="#c0c0c0"/>
<rect x="867" y="657" width="1" height="29" fill="#c0c0c0"/>
<rect x="871" y="658" width="1" height="28" fill="#c0c0c0"/>
<rect x="875" y="661" width="1" height="25" fill="#c0c0c0"/>
<rect x="879" y="663" width="1" height="23" fill="#c0c0c0"/>
<rect x="883" y="664" width="1" height="22" fill="#c0c0c0"/>
<rect x="887" y="666" width="1" height="20" fill="#c0c0c0"/>
<rect x="891" y="670" width="1" height="16" fill="#c0c0c0"/>
<rect x="895" y="672" width="1" height="14" fill="#c0c0c0"/>
<rect x="899" y="675" width="1" height="11" fill="#c0c0c0"/>
<rect x="903" y="678" width="1" height="8" fill="#c0c0c0"/>
<rect x="907" y="680" width="1" height="6" fill="#c0c0c0"/>
<rect x="911" y="681" width="1" height="5" fill="#c0c0c0"/>
<rect x="915" y="683" width="1" height="3" fill="#c0c0c0"/>
<rect x="919" y="682" width="1" height="4" fill="#c0c0c0"/>
<rect x="923" y="681" width="1" height="5" fill="#c0c0c0"/>
<rect x="927" y="682" width="1" height="4" fill="#c0c0c0"/>
<rect x="931" y="682" width="1" height="4" fill="#c0c0c0"/>
<rect x="935" y="682" width="1" height="4" fill="#c0c0c0"/>
<rect x="939" y="680" width="1" height="6" fill="#c0c0c0"/>
<rect x="943" y="680" width="1" height="6" fill="#c0c0c0"/>
<rect x="947" y="681" width="1" height="5" fill="#c0c0c0"/>
<rect x="951" y="680" width="1" height="6" fill="#c0c0c0"/>
<rect x="955" y="680" width="1" height="6" fill="#c0c0c0"/>
<rect x="959" y="681" width="1" height="5" fill="#c0c0c0"/>
<rect x="963" y="683" width="1" height="3" fill="#c0c0c0"/>
<rect x="967" y="684" width="1" height="2" fill="#c0c0c0"/>
<rect x="971" y="685" width="1" height="2" fill="#c0c0c0"/>
<rect x="975" y="685" width="1" height="1" fill="#c0c0c0"/>
<rect x="979" y="685" width="1" height="1" fill="#c0c0c0"/>
<rect x="983" y="684" width="1" height="2" fill="#c0c0c0"/>
<rect x="987" y="684" width="1" height="2" fill="#c0c0c0"/>
<rect x="991" y="683" width="1" height="3" fill="#c0c0c0"/>
<rect x="995" y="684" width="1" height="2" fill="#c0c0c0"/>
<rect x="999" y="685" width="1" height="2" fill="#c0c0c0"/>
<rect x="1003" y="685" width="1" height="3" fill="#c0c0c0"/>
<rect x="1007" y="685" width="1" height="3" fill="#c0c0c0"/>
<rect x="1011" y="685" width="1" height="3" fill="#c0c0c0"/>
<rect x="1015" y="685" width="1" height="2" fill="#c0c0c0"/>
<rect x="1019" y="685" width="1" height="1" fill="#c0c0c0"/>
<rect x="1023" y="684" width="1" height="2" fill="#c0c0c0"/>
<rect x="1027" y="683" width="1" height="3" fill="#c0c0c0"/>
<rect x="1031" y="685" width="1" height="1" fill="#c0c0c0"/>
<rect x="1035" y="685" width="1" height="3" fill="#c0c0c0"/>
<rect x="1039" y="685" width="1" height="4" fill="#c0c0c0"/>
<rect x="1043" y="685" width="1" height="5" fill="#c0c0c0"/>
<rect x="1047" y="685" width="1" height="4" fill="#c0c0c0"/>
<rect x="1051" y="685" width="1" height="4" fill="#c0c0c0"/>
<rect x="1055" y="685" width="1" height="4" fill="#c0c0c0"/>
<rect x="1059" y="685" width="1" height="6" fill="#c0c0c0"/>
<rect x="1063" y="685" width="1" height="8" fill="#c0c0c0"/>
<rect x="1067" y="685" width="1" height="10" fill="#c0c0c0"/>
<rect x="1071" y="685" width="1" height="11" fill="#c0c0c0"/>
<rect x="1075" y="685" width="1" height="12" fill="#c0c0c0"/>
<rect x="1079" y="685" width="1" height="15" fill="#c0c0c0"/>
<rect x="1083" y="685" width="1" height="18" fill="#c0c0c0"/>
<rect x="1087" y="685" width="1" height="21" fill="#c0c0c0"/>
<rect x="1091" y="685" width="1" height="22" fill="#c0c0c0"/>
<rect x="1095" y="685" width="1" height="25" fill="#c0c0c0"/>
<rect x="1099" y="685" width="1" height="26" fill="#c0c0c0"/>
<rect x="1103" y="685" width="1" height="28" fill="#c0c0c0"/>
<rect x="1107" y="685" width="1" height="28" fill="#c0c0c0"/>
<rect x="1111" y="685" width="1" height="28" fill="#c0c0c0"/>
<rect x="1115" y="685" width="1" height="26" fill="#c0c0c0"/>
<rect x="1119" y="685" width="1" height="23" fill="#c0c0c0"/>
<rect x="1123" y="685" width="1" height="21" fill="#c0c0c0"/>
<rect x="1127" y="685" width="1" height="19" fill="#c0c0c0"/>
<rect x="1131" y="685" width="1" height="17" fill="#c0c0c0"/>
<rect x="1135" y="685" width="1" height="16" fill="#c0c0c0"/>
<rect x="1139" y="685" width="1" height="15" fill="#c0c0c0"/>
<rect x="1143" y="685" width="1" height="13" fill="#c0c0c0"/>
<rect x="1147" y="685" width="1" height="12" fill="#c0c0c0"/>
<rect x="1151" y="685" width="1" height="12" fill="#c0c0c0"/>
<rect x="1155" y="685" width="1" height="12" fill="#c0c0c0"/>
<rect x="1159" y="685" width="1" height="10" fill="#c0c0c0"/>
<rect x="1163" y="685" width="1" height="8" fill="#c0c0c0"/>
<rect x="1167" y="685" width="1" height="6" fill="#c0c0c0"/>
<rect x="1171" y="685" width="1" height="5" fill="#c0c0c0"/>
<rect x="1175" y="685" width="1" height="4" fill="#c0c0c0"/>
<rect x="1179" y="685" width="1" height="4" fill="#c0c0c0"/>
<rect x="1183" y="685" width="1" height="4" fill="#c0c0c0"/>
<rect x="1187" y="685" width="1" height="4" fill="#c0c0c0"/>
<rect x="1191" y="685" width="1" height="5" fill="#c0c0c0"/>
<rect x="1195" y="685" width="1" height="5" fill="#c0c0c0"/>
<rect x="1199" y="685" width="1" height="5" fill="#c0c0c0"/>
<rect x="1203" y="685" width="1" height="5" fill="#c0c0c0"/>
<rect x="1207" y="685" width="1" height="5" fill="#c0c0c0"/>
<rect x="1211" y="685" width="1" height="5" fill="#c0c0c0"/>
<rect x="1215" y="685" width="1" height="5" fill="#c0c0c0"/>
<rect x="1219" y="685" width="1" height="4" fill="#c0c0c0"/>
<rect x="1223" y="685" width="1" height="4" fill="#c0c0c0"/>
<rect x="1227" y="685" width="1" height="4" fill="#c0c0c0"/>
<rect x="1231" y="685" width="1" height="4" fill="#c0c0c0"/>
<rect x="1235" y="685" width="1" height="5" fill="#c0c0c0"/>
<rect x="1239" y="685" width="1" height="4" fill="#c0c0c0"/>
<rect x="1243" y="685" width="1" height="4" fill="#c0c0c0"/>
<rect x="1247" y="685" width="1" height="4" fill="#c0c0c0"/>
<rect x="1251" y="685" width="1" height="6" fill="#c0c0c0"/>
<rect x="1255" y="685" width="1" height="7" fill="#c0c0c0"/>
<rect x="1259" y="685" width="1" height="9" fill="#c0c0c0"/>
<rect x="1263" y="685" width="1" height="9" fill="#c0c0c0"/>
<rect x="1267" y="685" width="1" height="10" fill="#c0c0c0"/>
<path fill="#ff0000" d="M3 694h2v1h-2zM579 694h3v1h-3zM585 694h3v1h-3zM591 694h3v1h-3zM597 694h3v1h-3zM1083 694h1v1h-1zM5 693h1v1h-1zM339 693h3v1h-3zM345 693h3v1h-3zM351 693h3v1h-3zM569 693h1v1h-1zM573 693h3v1h-3zM603 693h2v1h-2zM1173 693h3v1h-3zM9 692h3v1h-3zM329 692h1v1h-1zM333 692h3v1h-3zM357 692h3v1h-3zM567 692h2v1h-2zM605 692h1v1h-1zM609 692h3v1h-3zM1077 692h3v1h-3zM1179 692h2v1h-2zM15 691h2v1h-2zM327 691h2v1h-2zM363 691h3v1h-3zM557 691h1v1h-1zM561 691h3v1h-3zM615 691h2v1h-2zM1073 691h1v1h-1zM1181 691h1v1h-1zM17 690h1v1h-1zM321 690h3v1h-3zM369 690h3v1h-3zM549 690h3v1h-3zM555 690h2v1h-2zM617 690h1v1h-1zM621 690h3v1h-3zM1071 690h2v1h-2zM1185 690h3v1h-3zM1191 690h2v1h-2zM1263 690h3v1h-3zM21 689h3v1h-3zM315 689h3v1h-3zM375 689h2v1h-2zM531 689h3v1h-3zM537 689h3v1h-3zM543 689h3v1h-3zM627 689h3v1h-3zM1065 689h3v1h-3zM1193 689h1v1h-1zM1197 689h3v1h-3zM1203 689h3v1h-3zM1209 689h3v1h-3zM1215 689h3v1h-3zM1221 689h3v1h-3zM1227 689h3v1h-3zM1233 689h3v1h-3zM1239 689h2v1h-2zM1253 689h1v1h-1zM1257 689h3v1h-3zM27 688h2v1h-2zM309 688h3v1h-3zM377 688h1v1h-1zM521 688h1v1h-1zM525 688h3v1h-3zM633 688h3v1h-3zM639 688h2v1h-2zM1061 688h1v1h-1zM1241 688h1v1h-1zM1245 688h3v1h-3zM1251 688h2v1h-2zM29 687h1v1h-1zM189 687h3v1h-3zM195 687h3v1h-3zM201 687h3v1h-3zM305 687h1v1h-1zM381 687h3v1h-3zM387 687h2v1h-2zM513 687h3v1h-3zM519 687h2v1h-2zM641 687h1v1h-1zM1053 687h3v1h-3zM1059 687h2v1h-2zM33 686h3v1h-3zM39 686h2v1h-2zM183 686h3v1h-3zM207 686h3v1h-3zM303 686h2v1h-2zM389 686h1v1h-1zM509 686h1v1h-1zM645 686h3v1h-3zM1025 686h1v1h-1zM1029 686h3v1h-3zM1035 686h3v1h-3zM1041 686h3v1h-3zM1047 686h3v1h-3zM41 685h1v1h-1zM177 685h3v1h-3zM213 685h3v1h-3zM219 685h3v1h-3zM297 685h3v1h-3zM393 685h3v1h-3zM399 685h2v1h-2zM501 685h3v1h-3zM507 685h2v1h-2zM651 685h3v1h-3zM999 685h3v1h-3zM1005 685h3v1h-3zM1011 685h3v1h-3zM1017 685h3v1h-3zM1023 685h2v1h-2zM45 684h3v1h-3zM51 684h2v1h-2zM173 684h1v1h-1zM225 684h3v1h-3zM231 684h3v1h-3zM237 684h3v1h-3zM243 684h3v1h-3zM249 684h3v1h-3zM255 684h3v1h-3zM261 684h3v1h-3zM291 684h3v1h-3zM401 684h1v1h-1zM495 684h3v1h-3zM657 684h3v1h-3zM987 684h3v1h-3zM993 684h3v1h-3zM53 683h1v1h-1zM165 683h3v1h-3zM171 683h2v1h-2zM267 683h3v1h-3zM273 683h3v1h-3zM279 683h3v1h-3zM285 683h3v1h-3zM405 683h3v1h-3zM411 683h3v1h-3zM485 683h1v1h-1zM489 683h3v1h-3zM663 683h2v1h-2zM977 683h1v1h-1zM981 683h3v1h-3zM57 682h3v1h-3zM63 682h2v1h-2zM161 682h1v1h-1zM417 682h3v1h-3zM423 682h2v1h-2zM477 682h3v1h-3zM483 682h2v1h-2zM665 682h1v1h-1zM969 682h3v1h-3zM975 682h2v1h-2zM65 681h1v1h-1zM69 681h3v1h-3zM75 681h2v1h-2zM149 681h1v1h-1zM153 681h3v1h-3zM159 681h2v1h-2zM425 681h1v1h-1zM429 681h3v1h-3zM435 681h3v1h-3zM471 681h3v1h-3zM669 681h3v1h-3zM747 681h3v1h-3zM753 681h3v1h-3zM759 681h3v1h-3zM933 681h3v1h-3zM939 681h3v1h-3zM945 681h3v1h-3zM951 681h3v1h-3zM957 681h3v1h-3zM963 681h3v1h-3zM77 680h1v1h-1zM81 680h3v1h-3zM87 680h3v1h-3zM93 680h3v1h-3zM135 680h3v1h-3zM141 680h3v1h-3zM147 680h2v1h-2zM441 680h3v1h-3zM447 680h3v1h-3zM453 680h3v1h-3zM459 680h3v1h-3zM465 680h3v1h-3zM675 680h2v1h-2zM737 680h1v1h-1zM741 680h3v1h-3zM765 680h3v1h-3zM771 680h2v1h-2zM929 680h1v1h-1zM99 679h3v1h-3zM105 679h3v1h-3zM111 679h3v1h-3zM117 679h3v1h-3zM123 679h3v1h-3zM129 679h3v1h-3zM677 679h1v1h-1zM681 679h3v1h-3zM735 679h2v1h-2zM773 679h1v1h-1zM777 679h3v1h-3zM927 679h2v1h-2zM687 678h2v1h-2zM725 678h1v1h-1zM729 678h3v1h-3zM783 678h3v1h-3zM922 678h2v1h-2zM689 677h1v1h-1zM693 677h3v1h-3zM717 677h3v1h-3zM723 677h2v1h-2zM789 677h3v1h-3zM921 677h1v1h-1zM699 676h3v1h-3zM705 676h3v1h-3zM711 676h3v1h-3zM795 676h2v1h-2zM797 675h1v1h-1zM916 675h2v1h-2zM801 674h1v1h-1zM915 674h1v1h-1zM802 673h2v1h-2zM807 671h1v1h-1zM909 671h1v1h-1zM808 670h2v1h-2zM813 668h1v1h-1zM904 668h1v1h-1zM814 667h2v1h-2zM903 667h1v1h-1zM819 664h1v1h-1zM897 664h1v1h-1zM820 663h1v1h-1zM821 662h1v1h-1zM892 662h2v1h-2zM825 658h1v1h-1zM887 658h1v1h-1zM826 657h1v1h-1zM885 657h2v1h-2zM827 656h1v1h-1zM831 652h1v1h-1zM879 652h1v1h-1zM832 651h1v1h-1zM833 650h1v1h-1zM837 647h1v1h-1zM838 646h1v1h-1zM839 645h1v1h-1zM869 645h1v1h-1zM843 642h1v1h-1zM844 641h2v1h-2zM862 641h2v1h-2zM849 639h1v1h-1zM857 639h1v1h-1zM850 638h2v1h-2zM855 638h2v1h-2zM861 640h1v1h-1zM867 643h1v1h-1zM868 644h1v1h-1zM873 648h2v1h-2zM875 649h1v1h-1zM880 653h1v1h-1zM881 654h1v1h-1zM891 661h1v1h-1zM898 665h2v1h-2zM905 669h1v1h-1zM910 672h2v1h-2zM1084 695h2v1h-2zM1168 695h2v1h-2zM1089 697h1v1h-1zM1161 697h3v1h-3zM1090 698h2v1h-2zM1157 698h1v1h-1zM1095 700h1v1h-1zM1150 700h2v1h-2zM1096 701h2v1h-2zM1149 701h1v1h-1zM1101 703h1v1h-1zM1144 703h2v1h-2zM1102 704h2v1h-2zM1143 704h1v1h-1zM1107 706h2v1h-2zM1137 706h1v1h-1zM1109 707h1v1h-1zM1133 707h1v1h-1zM1113 708h1v1h-1zM1131 708h2v1h-2zM1114 709h2v1h-2zM1119 709h3v1h-3zM1125 709h3v1h-3zM1138 705h2v1h-2zM1155 699h2v1h-2zM1167 696h1v1h-1z"/>
<rect x="2" y="23" width="1594" height="1" fill="#000"/>
<rect x="2" y="529" width="1594" height="1" fill="#000"/>
<rect x="2" y="23" width="1" height="507" fill="#000"/>
<rect x="1595" y="23" width="1" height="507" fill="#000"/>
<rect x="2" y="531" width="1594" height="1" fill="#000"/>
<rect x="2" y="623" width="1594" height="1" fill="#000"/>
<rect x="2" y="531" width="1" height="93" fill="#000"/>
<rect x="1595" y="531" width="1" height="93" fill="#000"/>
<rect x="2" y="625" width="1594" height="1" fill="#000"/>
<rect x="2" y="717" width="1594" height="1" fill="#000"/>
<rect x="2" y="625" width="1" height="93" fill="#000"/>
<rect x="1595" y="625" width="1" height="93" fill="#000"/>
<rect x="2" y="198" width="6" height="6" fill="#ff0000"/>
<rect x="4" y="200" width="2" height="2" fill="#ffffff"/>
<rect x="1595" y="200" width="1" height="2" fill="#ff0000"/>
<rect x="2" y="269" width="6" height="6" fill="#ff0000"/>
<rect x="4" y="271" width="2" height="2" fill="#ffffff"/>
<rect x="1595" y="271" width="1" height="2" fill="#ff0000"/>
<rect x="2" y="336" width="6" height="6" fill="#00ff00"/>
<rect x="4" y="338" width="2" height="2" fill="#ffffff"/>
<rect x="1595" y="338" width="1" height="2" fill="#00ff00"/>
<rect x="2" y="418" width="6" height="6" fill="#0000ff"/>
<rect x="4" y="420" width="2" height="2" fill="#ffffff"/>
<rect x="1595" y="420" width="1" height="2" fill="#0000ff"/>
<rect x="2" y="500" width="6" height="6" fill="#0000ff"/>
<rect x="4" y="502" width="2" height="2" fill="#ffffff"/>
<rect x="1595" y="502" width="1" height="2" fill="#0000ff"/>
<rect x="1596" y="31" width="2" height="1" fill="#000"/>
<rect x="1596" y="64" width="2" height="1" fill="#000"/>
<rect x="1596" y="97" width="2" height="1" fill="#000"/>
<rect x="1596" y="130" width="2" height="1" fill="#000"/>
<rect x="1596" y="163" width="2" height="1" fill="#000"/>
<rect x="1596" y="196" width="2" height="1" fill="#000"/>
<rect x="1596" y="229" width="2" height="1" fill="#000"/>
<rect x="1596" y="262" width="2" height="1" fill="#000"/>
<rect x="1596" y="295" width="2" height="1" fill="#000"/>
<rect x="1596" y="328" width="2" height="1" fill="#000"/>
<rect x="1596" y="361" width="2" height="1" fill="#000"/>
<rect x="1596" y="394" width="2" height="1" fill="#000"/>
<rect x="1596" y="427" width="2" height="1" fill="#000"/>
<rect x="1596" y="460" width="2" height="1" fill="#000"/>
<rect x="1596" y="493" width="2" height="1" fill="#000"/>
<rect x="1596" y="526" width="2" height="1" fill="#000"/>
<text x="1600" y="35" font-size="8.4" fill="#000" text-anchor="start" font-family="DejaVu Sans, sans-serif">1.47305</text>
<text x="1600" y="68" font-size="8.4" fill="#000" text-anchor="start" font-family="DejaVu Sans, sans-serif">1.46080</text>
<text x="1600" y="101" font-size="8.4" fill="#000" text-anchor="start" font-family="DejaVu Sans, sans-serif">1.44890</text>
<text x="1600" y="134" font-size="8.4" fill="#000" text-anchor="start" font-family="DejaVu Sans, sans-serif">1.43665</text>
<text x="1600" y="167" font-size="8.4" fill="#000" text-anchor="start" font-family="DejaVu Sans, sans-serif">1.42440</text>
<text x="1600" y="200" font-size="8.4" fill="#000" text-anchor="start" font-family="DejaVu Sans, sans-serif">1.41250</text>
<text x="1600" y="233" font-size="8.4" fill="#000" text-anchor="start" font-family="DejaVu Sans, sans-serif">1.40025</text>
<text x="1600" y="266" font-size="8.4" fill="#000" text-anchor="start" font-family="DejaVu Sans, sans-serif">1.38835</text>
<text x="1600" y="299" font-size="8.4" fill="#000" text-anchor="start" font-family="DejaVu Sans, sans-serif">1.37610</text>
<text x="1600" y="332" font-size="8.4" fill="#000" text-anchor="start" font-family="DejaVu Sans, sans-serif">1.36420</text>
<text x="1600" y="365" font-size="8.4" fill="#000" text-anchor="start" font-family="DejaVu Sans, sans-serif">1.35195</text>
<text x="1600" y="398" font-size="8.4" fill="#000" text-anchor="start" font-family="DejaVu Sans, sans-serif">1.34005</text>
<text x="1600" y="431" font-size="8.4" fill="#000" text-anchor="start" font-family="DejaVu Sans, sans-serif">1.32780</text>
<text x="1600" y="464" font-size="8.4" fill="#000" text-anchor="start" font-family="DejaVu Sans, sans-serif">1.31590</text>
<text x="1600" y="497" font-size="8.4" fill="#000" text-anchor="start" font-family="DejaVu Sans, sans-serif">1.30365</text>
<text x="1600" y="530" font-size="8.4" fill="#000" text-anchor="start" font-family="DejaVu Sans, sans-serif">1.29175</text>
<rect x="1597" y="195" width="41" height="11" fill="#ff0000"/>
<rect x="1597" y="266" width="41" height="11" fill="#ff0000"/>
<rect x="1597" y="333" width="41" height="11" fill="#00ff00"/>
<rect x="1597" y="383" width="41" height="11" fill="#000000"/>
<rect x="1597" y="415" width="41" height="11" fill="#0000ff"/>
<rect x="1597" y="497" width="41" height="11" fill="#0000ff"/>
<rect x="1596" y="533" width="2" height="1" fill="#000"/>
<rect x="1596" y="559" width="2" height="1" fill="#000"/>
<rect x="1596" y="595" width="2" height="1" fill="#000"/>
<rect x="1596" y="622" width="2" height="1" fill="#000"/>
<rect x="1596" y="627" width="2" height="1" fill="#000"/>
<rect x="1596" y="685" width="2" height="1" fill="#000"/>
<rect x="1596" y="716" width="2" height="1" fill="#000"/>
<rect x="3" y="718" width="1" height="3" fill="#000"/>
<rect x="67" y="718" width="1" height="3" fill="#000"/>
<rect x="131" y="718" width="1" height="3" fill="#000"/>
<rect x="195" y="718" width="1" height="3" fill="#000"/>
<rect x="259" y="718" width="1" height="3" fill="#000"/>
<rect x="323" y="718" width="1" height="3" fill="#000"/>
<rect x="387" y="718" width="1" height="3" fill="#000"/>
<rect x="451" y="718" width="1" height="3" fill="#000"/>
<rect x="515" y="718" width="1" height="3" fill="#000"/>
<rect x="579" y="718" width="1" height="3" fill="#000"/>
<rect x="643" y="718" width="1" height="3" fill="#000"/>
<rect x="707" y="718" width="1" height="3" fill="#000"/>
<rect x="771" y="718" width="1" height="3" fill="#000"/>
<rect x="835" y="718" width="1" height="3" fill="#000"/>
<rect x="899" y="718" width="1" height="3" fill="#000"/>
<rect x="963" y="718" width="1" height="3" fill="#000"/>
<rect x="1027" y="718" width="1" height="3" fill="#000"/>
<rect x="1091" y="718" width="1" height="3" fill="#000"/>
<rect x="1155" y="718" width="1" height="3" fill="#000"/>
<rect x="1219" y="718" width="1" height="3" fill="#000"/>
<path d="M6,30 L13,30 L9.5,34 Z" fill="#000"/>
<path d="M1270.5,24 L1280.5,24 L1275.5,29 Z" fill="#c0c0c0"/>
<text x="1600" y="204" font-size="8.4" fill="#fff" text-anchor="start" font-family="DejaVu Sans, sans-serif">1.41060</text>
<text x="1600" y="275" font-size="8.4" fill="#fff" text-anchor="start" font-family="DejaVu Sans, sans-serif">1.38464</text>
<text x="1600" y="342" font-size="8.4" fill="#fff" text-anchor="start" font-family="DejaVu Sans, sans-serif">1.36015</text>
<text x="1600" y="392" font-size="8.4" fill="#fff" text-anchor="start" font-family="DejaVu Sans, sans-serif">1.34232</text>
<text x="1600" y="424" font-size="8.4" fill="#fff" text-anchor="start" font-family="DejaVu Sans, sans-serif">1.33011</text>
<text x="1600" y="506" font-size="8.4" fill="#fff" text-anchor="start" font-family="DejaVu Sans, sans-serif">1.30020</text>
<text x="1598.5" y="542" font-size="8.4" fill="#000" text-anchor="start" font-family="DejaVu Sans, sans-serif">100</text>
<text x="1598" y="563" font-size="8.4" fill="#000" text-anchor="start" font-family="DejaVu Sans, sans-serif">70</text>
<text x="1598.5" y="599" font-size="8.4" fill="#000" text-anchor="start" font-family="DejaVu Sans, sans-serif">30</text>
<text x="1598.5" y="620" font-size="8.4" fill="#000" text-anchor="start" font-family="DejaVu Sans, sans-serif">0</text>
<text x="1598.5" y="636" font-size="8.4" fill="#000" text-anchor="start" font-family="DejaVu Sans, sans-serif">0.032972</text>
<text x="1598.5" y="689" font-size="8.4" fill="#000" text-anchor="start" font-family="DejaVu Sans, sans-serif">0.00</text>
<text x="1598.5" y="714" font-size="8.4" fill="#000" text-anchor="start" font-family="DejaVu Sans, sans-serif">-0.018154</text>
<text x="2" y="730" font-size="8.4" fill="#000" text-anchor="start" font-family="DejaVu Sans, sans-serif">23 Jul 2019</text>
<text x="66" y="730" font-size="8.4" fill="#000" text-anchor="start" font-family="DejaVu Sans, sans-serif">10 Aug 2019</text>
<text x="130" y="730" font-size="8.4" fill="#000" text-anchor="start" font-family="DejaVu Sans, sans-serif">29 Aug 2019</text>
<text x="194" y="730" font-size="8.4" fill="#000" text-anchor="start" font-family="DejaVu Sans, sans-serif">17 Sep 2019</text>
<text x="258" y="730" font-size="8.4" fill="#000" text-anchor="start" font-family="DejaVu Sans, sans-serif">5 Oct 2019</text>
<text x="322" y="730" font-size="8.4" fill="#000" text-anchor="start" font-family="DejaVu Sans, sans-serif">24 Oct 2019</text>
<text x="386" y="730" font-size="8.4" fill="#000" text-anchor="start" font-family="DejaVu Sans, sans-serif">12 Nov 2019</text>
<text x="450" y="730" font-size="8.4" fill="#000" text-anchor="start" font-family="DejaVu Sans, sans-serif">30 Nov 2019</text>
<text x="514" y="730" font-size="8.4" fill="#000" text-anchor="start" font-family="DejaVu Sans, sans-serif">19 Dec 2019</text>
<text x="578" y="730" font-size="8.4" fill="#000" text-anchor="start" font-family="DejaVu Sans, sans-serif">7 Jan 2020</text>
<text x="642" y="730" font-size="8.4" fill="#000" text-anchor="start" font-family="DejaVu Sans, sans-serif">25 Jan 2020</text>
<text x="706" y="730" font-size="8.4" fill="#000" text-anchor="start" font-family="DejaVu Sans, sans-serif">13 Feb 2020</text>
<text x="770" y="730" font-size="8.4" fill="#000" text-anchor="start" font-family="DejaVu Sans, sans-serif">3 Mar 2020</text>
<text x="834" y="730" font-size="8.4" fill="#000" text-anchor="start" font-family="DejaVu Sans, sans-serif">21 Mar 2020</text>
<text x="898" y="730" font-size="8.4" fill="#000" text-anchor="start" font-family="DejaVu Sans, sans-serif">9 Apr 2020</text>
<text x="962" y="730" font-size="8.4" fill="#000" text-anchor="start" font-family="DejaVu Sans, sans-serif">28 Apr 2020</text>
<text x="1026" y="730" font-size="8.4" fill="#000" text-anchor="start" font-family="DejaVu Sans, sans-serif">16 May 2020</text>
<text x="1090" y="730" font-size="8.4" fill="#000" text-anchor="start" font-family="DejaVu Sans, sans-serif">4 Jun 2020</text>
<text x="1154" y="730" font-size="8.4" fill="#000" text-anchor="start" font-family="DejaVu Sans, sans-serif">23 Jun 2020</text>
<text x="1218" y="730" font-size="8.4" fill="#000" text-anchor="start" font-family="DejaVu Sans, sans-serif">11 Jul 2020</text>
<text x="18" y="35" font-size="8.4" fill="#000" text-anchor="start" font-family="DejaVu Sans, sans-serif" textLength="66" lengthAdjust="spacingAndGlyphs">USDCAD,Daily</text>
<text x="90" y="35" font-size="8.4" fill="#000" text-anchor="start" font-family="DejaVu Sans, sans-serif">1.34255</text>
<text x="126" y="35" font-size="8.4" fill="#000" text-anchor="start" font-family="DejaVu Sans, sans-serif">1.34374</text>
<text x="162" y="35" font-size="8.4" fill="#000" text-anchor="start" font-family="DejaVu Sans, sans-serif">1.34158</text>
<text x="198" y="35" font-size="8.4" fill="#000" text-anchor="start" font-family="DejaVu Sans, sans-serif">1.34232</text>
<text x="7" y="544" font-size="8.4" fill="#000" text-anchor="start" font-family="DejaVu Sans, sans-serif">RSI(14) 38.6243</text>
<text x="7" y="638" font-size="8.4" fill="#000" text-anchor="start" font-family="DejaVu Sans, sans-serif">MACD(12,26,9) -0.005036 -0.003175</text>
</svg>
<div style="position:absolute;left:0;top:738px;width:1638px;height:1px;background:#e3e3e3"></div>
<div style="position:absolute;left:0;top:739px;width:1638px;height:1px;background:#fff"></div>
<div style="position:absolute;left:0;top:740px;width:1638px;height:20px;background:#f0f0f0"></div>
<div style="position:absolute;left:0;top:740px;width:1638px;height:1px;background:#000"></div>
<div style="position:absolute;left:0;top:741px;width:1638px;height:1px;background:#fff"></div>
<div style="position:absolute;left:311px;top:741px;width:1px;height:19px;background:#fff"></div>
<div style="position:absolute;left:312px;top:740px;width:104px;height:19px;background:#fff;border:1px solid #000;border-top:none;box-sizing:border-box;"></div>
<div style="position:absolute;left:313px;top:740px;width:102px;height:1px;background:#fff"></div>
<div style="position:absolute;left:416px;top:741px;width:1px;height:19px;background:#a9a9a9"></div>
<div style="position:absolute;left:313px;top:759px;width:104px;height:1px;background:#a9a9a9"></div>
<span class="tab" style="left:16px">EURUSD,Daily</span><span class="tab" style="left:118px">USDCHF,Daily</span><span class="tab" style="left:219px">AUDUSD,Daily</span><span class="tab sel" style="left:323px">USDCAD,Daily</span><span class="tab" style="left:426px">USDCNH,Daily</span><span class="tab" style="left:532px">EURUSD,M15</span><span class="tab" style="left:631px">GBPUSD,M30</span><span class="tab" style="left:731px">XAUUSD,Daily</span><span class="tab" style="left:835px">HK50,H1</span><span class="tab" style="left:907px">UK100,H1</span><span class="tab" style="left:987px">UK100,H1</span><span class="tab" style="left:1067px">GER30,H1</span><span class="tab" style="left:1146px">FRA40,H1</span><span class="tab" style="left:1222px">USOil,Daily</span><span class="tab" style="left:1306px">USDJPY,H1</span><span class="tab" style="left:1392px">DJ30,M15</span><span class="tab" style="left:1470px">CHINA300,H4</span><div class="sep" style="left:108px"></div><div class="sep" style="left:208px"></div><div class="sep" style="left:520px"></div><div class="sep" style="left:620px"></div><div class="sep" style="left:720px"></div><div class="sep" style="left:824px"></div><div class="sep" style="left:896px"></div><div class="sep" style="left:976px"></div><div class="sep" style="left:1056px"></div><div class="sep" style="left:1136px"></div><div class="sep" style="left:1212px"></div><div class="sep" style="left:1296px"></div><div class="sep" style="left:1380px"></div><div class="sep" style="left:1460px"></div><div class="sep" style="left:1560px"></div>
<svg width="30" height="10" style="left:1608px;top:745px"><path d="M3,4.5 L7,0.5 L7,8.5 Z" fill="#8a8a8a"/><path d="M22,0.5 L26,4.5 L22,8.5 Z" fill="#8a8a8a"/></svg>
</body></html>
